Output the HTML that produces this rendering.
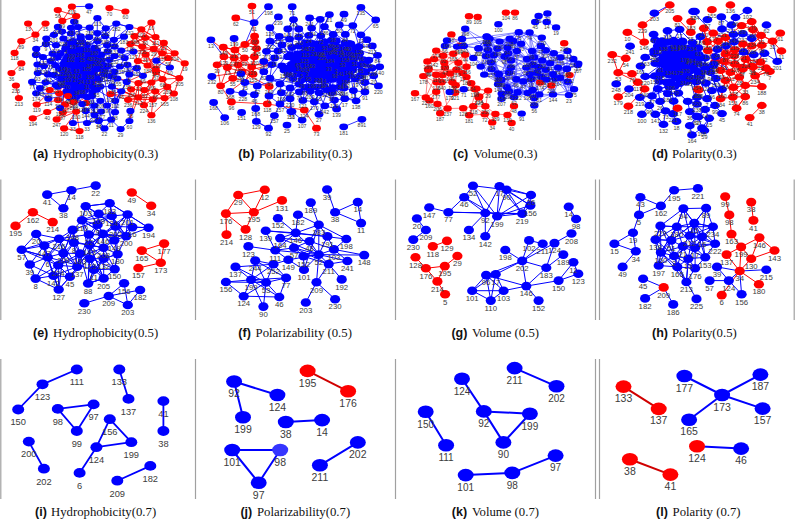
<!DOCTYPE html>
<html><head><meta charset="utf-8"><style>
html,body{margin:0;padding:0;background:#fff;width:795px;height:519px;overflow:hidden}
svg{display:block}
.net text{font-family:"Liberation Sans",sans-serif;fill:#3c3c3c;text-anchor:middle}
.cap{font-family:"Liberation Serif",serif;font-size:12.75px;fill:#111}
.lt{font-family:"Liberation Sans",sans-serif;font-weight:bold;font-size:12.5px;fill:#111}
</style></head><body>
<svg width="795" height="519" viewBox="0 0 795 519">
<g class="net">
<line x1="0.8" y1="0" x2="0.8" y2="140" stroke="#a0a0a0" stroke-width="1.2"/>
<line x1="195.5" y1="0" x2="195.5" y2="140" stroke="#a0a0a0" stroke-width="1.2"/>
<line x1="395.5" y1="0" x2="395.5" y2="140" stroke="#a0a0a0" stroke-width="1.2"/>
<line x1="595.5" y1="0" x2="595.5" y2="140" stroke="#a0a0a0" stroke-width="1.2"/>
<line x1="599.5" y1="0" x2="599.5" y2="140" stroke="#a0a0a0" stroke-width="1.2"/>
<line x1="794.2" y1="0" x2="794.2" y2="140" stroke="#a0a0a0" stroke-width="1.2"/>
<line x1="0.8" y1="179.5" x2="0.8" y2="320" stroke="#a0a0a0" stroke-width="1.2"/>
<line x1="195.5" y1="179.5" x2="195.5" y2="320" stroke="#a0a0a0" stroke-width="1.2"/>
<line x1="395.5" y1="179.5" x2="395.5" y2="320" stroke="#a0a0a0" stroke-width="1.2"/>
<line x1="595.5" y1="179.5" x2="595.5" y2="320" stroke="#a0a0a0" stroke-width="1.2"/>
<line x1="599.5" y1="179.5" x2="599.5" y2="320" stroke="#a0a0a0" stroke-width="1.2"/>
<line x1="794.2" y1="179.5" x2="794.2" y2="320" stroke="#a0a0a0" stroke-width="1.2"/>
<line x1="0.8" y1="359" x2="0.8" y2="499" stroke="#a0a0a0" stroke-width="1.2"/>
<line x1="195.5" y1="359" x2="195.5" y2="499" stroke="#a0a0a0" stroke-width="1.2"/>
<line x1="395.5" y1="359" x2="395.5" y2="499" stroke="#a0a0a0" stroke-width="1.2"/>
<line x1="595.5" y1="359" x2="595.5" y2="499" stroke="#a0a0a0" stroke-width="1.2"/>
<line x1="599.5" y1="359" x2="599.5" y2="499" stroke="#a0a0a0" stroke-width="1.2"/>
<path d="M76.8 369.5L42.5 384.3M42.5 384.3L18.2 409.5M119.3 369.5L128.5 398.9M57.8 408.9L93.6 404.4M57.8 408.9L76.8 431M93.6 404.4L76.8 431M109.8 419.2L96.4 447.2M109.8 419.2L131.3 442.2M96.4 447.2L131.3 442.2M96.4 447.2L79.6 472.9M163.4 401.1L163.4 431M28.8 441.6L43.9 468.7M117.3 480.7L150.3 465.9" stroke="#0000ff" stroke-width="1.8" fill="none"/>
<ellipse cx="76.8" cy="369.5" rx="6" ry="4.9" fill="#0000ff"/>
<ellipse cx="42.5" cy="384.3" rx="6" ry="4.9" fill="#0000ff"/>
<ellipse cx="18.2" cy="409.5" rx="6" ry="4.9" fill="#0000ff"/>
<ellipse cx="119.3" cy="369.5" rx="6" ry="4.9" fill="#0000ff"/>
<ellipse cx="128.5" cy="398.9" rx="6" ry="4.9" fill="#0000ff"/>
<ellipse cx="57.8" cy="408.9" rx="6" ry="4.9" fill="#0000ff"/>
<ellipse cx="93.6" cy="404.4" rx="6" ry="4.9" fill="#0000ff"/>
<ellipse cx="76.8" cy="431" rx="6" ry="4.9" fill="#0000ff"/>
<ellipse cx="109.8" cy="419.2" rx="6" ry="4.9" fill="#0000ff"/>
<ellipse cx="96.4" cy="447.2" rx="6" ry="4.9" fill="#0000ff"/>
<ellipse cx="131.3" cy="442.2" rx="6" ry="4.9" fill="#0000ff"/>
<ellipse cx="163.4" cy="401.1" rx="6" ry="4.9" fill="#0000ff"/>
<ellipse cx="163.4" cy="431" rx="6" ry="4.9" fill="#0000ff"/>
<ellipse cx="28.8" cy="441.6" rx="6" ry="4.9" fill="#0000ff"/>
<ellipse cx="43.9" cy="468.7" rx="6" ry="4.9" fill="#0000ff"/>
<ellipse cx="79.6" cy="472.9" rx="6" ry="4.9" fill="#0000ff"/>
<ellipse cx="117.3" cy="480.7" rx="6" ry="4.9" fill="#0000ff"/>
<ellipse cx="150.3" cy="465.9" rx="6" ry="4.9" fill="#0000ff"/>
<g font-size="9.3"><text x="76.8" y="385.3">111</text><text x="42.5" y="400.1">123</text><text x="18.2" y="425.3">150</text><text x="119.3" y="385.3">133</text><text x="128.5" y="414.7">137</text><text x="57.8" y="424.7">98</text><text x="93.6" y="420.2">97</text><text x="76.8" y="446.8">99</text><text x="109.8" y="435">156</text><text x="96.4" y="463">124</text><text x="131.3" y="458">199</text><text x="163.4" y="416.9">41</text><text x="163.4" y="446.8">38</text><text x="28.8" y="457.4">200</text><text x="43.9" y="484.5">202</text><text x="79.6" y="488.7">6</text><text x="117.3" y="496.5">209</text><text x="150.3" y="481.7">182</text></g>
<path d="M234.1 381.5L277.4 395M234.1 381.5L243 417.3M285.8 422L322.1 420.1M232.2 450L280.2 450M232.2 450L258.7 482.7M280.2 450L258.7 482.7M319.9 465.3L357.8 442.4" stroke="#0000ff" stroke-width="2" fill="none"/>
<path d="M307.6 370.9L348.1 391.3" stroke="#d00000" stroke-width="2" fill="none"/>
<ellipse cx="234.1" cy="381.5" rx="8" ry="6.3" fill="#0000ff"/>
<ellipse cx="277.4" cy="395" rx="8" ry="6.3" fill="#0000ff"/>
<ellipse cx="243" cy="417.3" rx="8" ry="6.3" fill="#0000ff"/>
<ellipse cx="307.6" cy="370.9" rx="8" ry="6.3" fill="#ff0000"/>
<ellipse cx="348.1" cy="391.3" rx="8" ry="6.3" fill="#ff0000"/>
<ellipse cx="285.8" cy="422" rx="8" ry="6.3" fill="#0000ff"/>
<ellipse cx="322.1" cy="420.1" rx="8" ry="6.3" fill="#0000ff"/>
<ellipse cx="232.2" cy="450" rx="8" ry="6.3" fill="#0000ff"/>
<ellipse cx="280.2" cy="450" rx="8" ry="6.3" fill="#3535ff"/>
<ellipse cx="258.7" cy="482.7" rx="8" ry="6.3" fill="#0000ff"/>
<ellipse cx="357.8" cy="442.4" rx="8" ry="6.3" fill="#0000ff"/>
<ellipse cx="319.9" cy="465.3" rx="8" ry="6.3" fill="#0000ff"/>
<g font-size="10.5"><text x="234.1" y="397.3">92</text><text x="277.4" y="410.8">124</text><text x="243" y="433.1">199</text><text x="307.6" y="386.7">195</text><text x="348.1" y="407.1">176</text><text x="285.8" y="437.8">38</text><text x="322.1" y="435.9">14</text><text x="232.2" y="465.8">101</text><text x="280.2" y="465.8">98</text><text x="258.7" y="498.5">97</text><text x="357.8" y="458.2">202</text><text x="319.9" y="481.1">211</text></g>
<path d="M514.6 368.1L556.5 386.3M462 378.7L483.8 411.4M483.8 411.4L529.9 413.7M483.8 411.4L503.4 442.4M529.9 413.7L503.4 442.4M425.7 411.7L446.1 445.2M465.7 475.1L512.3 472.9M512.3 472.9L555.6 455.6" stroke="#0000ff" stroke-width="2" fill="none"/>
<ellipse cx="514.6" cy="368.1" rx="8" ry="6.3" fill="#0000ff"/>
<ellipse cx="556.5" cy="386.3" rx="8" ry="6.3" fill="#0000ff"/>
<ellipse cx="462" cy="378.7" rx="8" ry="6.3" fill="#0000ff"/>
<ellipse cx="483.8" cy="411.4" rx="8" ry="6.3" fill="#0000ff"/>
<ellipse cx="529.9" cy="413.7" rx="8" ry="6.3" fill="#0000ff"/>
<ellipse cx="503.4" cy="442.4" rx="8" ry="6.3" fill="#0000ff"/>
<ellipse cx="425.7" cy="411.7" rx="8" ry="6.3" fill="#0000ff"/>
<ellipse cx="446.1" cy="445.2" rx="8" ry="6.3" fill="#0000ff"/>
<ellipse cx="465.7" cy="475.1" rx="8" ry="6.3" fill="#0000ff"/>
<ellipse cx="512.3" cy="472.9" rx="8" ry="6.3" fill="#0000ff"/>
<ellipse cx="555.6" cy="455.6" rx="8" ry="6.3" fill="#0000ff"/>
<g font-size="10"><text x="514.6" y="383.9">211</text><text x="556.5" y="402.1">202</text><text x="462" y="394.5">124</text><text x="483.8" y="427.2">92</text><text x="529.9" y="429.5">199</text><text x="503.4" y="458.2">90</text><text x="425.7" y="427.5">150</text><text x="446.1" y="461">111</text><text x="465.7" y="490.9">101</text><text x="512.3" y="488.7">98</text><text x="555.6" y="471.4">97</text></g>
<path d="M684.4 376L722.1 395M760.4 374.6L722.1 395M722.1 395L762.6 408.6M722.1 395L689.1 419.8M697 446.3L741.1 448.6" stroke="#0000ff" stroke-width="2" fill="none"/>
<path d="M623.5 386.6L658.7 408.9M629.9 459.2L670.4 474.6" stroke="#d00000" stroke-width="2" fill="none"/>
<ellipse cx="684.4" cy="376" rx="8" ry="6.3" fill="#0000ff"/>
<ellipse cx="760.4" cy="374.6" rx="8" ry="6.3" fill="#0000ff"/>
<ellipse cx="722.1" cy="395" rx="8" ry="6.3" fill="#0000ff"/>
<ellipse cx="762.6" cy="408.6" rx="8" ry="6.3" fill="#0000ff"/>
<ellipse cx="689.1" cy="419.8" rx="8" ry="6.3" fill="#0000ff"/>
<ellipse cx="623.5" cy="386.6" rx="8" ry="6.3" fill="#ff0000"/>
<ellipse cx="658.7" cy="408.9" rx="8" ry="6.3" fill="#ff0000"/>
<ellipse cx="697" cy="446.3" rx="8" ry="6.3" fill="#ff0000"/>
<ellipse cx="741.1" cy="448.6" rx="8" ry="6.3" fill="#0000ff"/>
<ellipse cx="629.9" cy="459.2" rx="8" ry="6.3" fill="#ff0000"/>
<ellipse cx="670.4" cy="474.6" rx="8" ry="6.3" fill="#ff0000"/>
<g font-size="10.5"><text x="684.4" y="391.5">177</text><text x="760.4" y="390.1">187</text><text x="722.1" y="410.5">173</text><text x="762.6" y="424.1">157</text><text x="689.1" y="435.3">165</text><text x="623.5" y="402.1">133</text><text x="658.7" y="424.4">137</text><text x="697" y="461.8">124</text><text x="741.1" y="464.1">46</text><text x="629.9" y="474.7">38</text><text x="670.4" y="490.1">41</text></g>
<path d="M47.2 194.6L71.4 190.2M71.4 190.2L95.7 185.6M47.2 194.6L63.4 208.2M71.4 190.2L63.4 208.2M84.3 303.3L108.7 296M108.7 296L124.1 283.3M108.7 296L140.1 290M108.7 296L127.8 305M124.1 283.3L127.8 305M140.1 290L127.8 305M109.7 203.3L111.8 216M109.7 203.3L98.7 213.7M109.7 203.3L127.6 214.5M109.7 203.3L115.5 226.4M109.7 203.3L85.7 206.2M85.7 206.2L82 220.3M85.7 206.2L98.7 213.7M85.7 206.2L97.6 224.7M98.7 213.7L97.6 224.7M98.7 213.7L111.8 216M98.7 213.7L82 220.3M111.8 216L115.5 226.4M111.8 216L127.6 214.5M111.8 216L97.6 224.7M127.6 214.5L132.3 227.1M127.6 214.5L115.5 226.4M127.6 214.5L126.2 236.2M82 220.3L88.9 234.5M82 220.3L97.6 224.7M82 220.3L102.8 233.9M97.6 224.7L102.8 233.9M97.6 224.7L88.9 234.5M115.5 226.4L114.3 240.3M115.5 226.4L126.2 236.2M115.5 226.4L102.8 233.9M115.5 226.4L132.3 227.1M132.3 227.1L126.2 236.2M132.3 227.1L148.5 227.7M132.3 227.1L114.3 240.3M148.5 227.7L126.2 236.2M148.5 227.7L127.6 214.5M88.9 234.5L89.5 245M88.9 234.5L102.8 233.9M88.9 234.5L103.6 247.7M102.8 233.9L114.3 240.3M102.8 233.9L103.6 247.7M114.3 240.3L126.2 236.2M114.3 240.3L103.6 247.7M114.3 240.3L117.6 254.1M126.2 236.2L117.6 254.1M89.5 245L89.8 258.7M89.5 245L103.6 247.7M89.5 245L102.8 233.9M89.5 245L103.7 258.7M103.6 247.7L103.7 258.7M103.6 247.7L117.6 254.1M117.6 254.1L103.7 258.7M117.6 254.1L114.7 269.1M89.8 258.7L93.9 269.7M89.8 258.7L103.7 258.7M89.8 258.7L103.6 247.7M89.8 258.7L103.7 278.4M103.7 258.7L93.9 269.7M103.7 258.7L114.7 269.1M93.9 269.7L103.7 278.4M93.9 269.7L88.1 283.5M93.9 269.7L114.7 269.1M114.7 269.1L103.7 278.4M114.7 269.1L103.6 247.7M103.7 278.4L88.1 283.5M103.7 278.4L103.7 258.7M88.1 283.5L89.8 258.7M72.7 229.9L73.9 242.6M72.7 229.9L59 238.7M72.7 229.9L80 253.6M72.7 229.9L63.4 253.1M73.9 242.6L80 253.6M73.9 242.6L63.4 253.1M73.9 242.6L59 238.7M73.9 242.6L77.2 266.8M80 253.6L77.2 266.8M80 253.6L63.4 253.1M80 253.6L58.2 265.3M36.2 234L44.3 245.6M36.2 234L21.7 249.7M36.2 234L59 238.7M36.2 234L47.7 257.2M59 238.7L63.4 253.1M59 238.7L44.3 245.6M59 238.7L47.7 257.2M21.7 249.7L29.8 264.5M21.7 249.7L44.3 245.6M21.7 249.7L47.7 257.2M44.3 245.6L47.7 257.2M44.3 245.6L63.4 253.1M47.7 257.2L58.2 265.3M47.7 257.2L63.4 253.1M47.7 257.2L29.8 264.5M47.7 257.2L53.5 275.7M63.4 253.1L58.2 265.3M29.8 264.5L35.6 278.6M29.8 264.5L44.3 245.6M29.8 264.5L53.5 275.7M58.2 265.3L53.5 275.7M58.2 265.3L69.9 276.8M58.2 265.3L77.2 266.8M77.2 266.8L69.9 276.8M77.2 266.8L63.4 253.1M35.6 278.6L53.5 275.7M35.6 278.6L47.7 257.2M35.6 278.6L58.7 289.5M35.6 278.6L58.2 265.3M53.5 275.7L58.7 289.5M53.5 275.7L69.9 276.8M69.9 276.8L58.7 289.5M69.9 276.8L63.4 253.1M58.7 289.5L58.2 265.3M97.6 224.7L117.6 254.1M103.7 278.4L88.1 283.5M111.8 216L126.2 236.2M117.6 254.1L115.5 226.4M126.2 236.2L98.7 213.7M89.5 245L103.7 278.4M102.8 233.9L126.2 236.2M82 220.3L114.3 240.3M114.7 269.1L117.6 254.1M109.7 203.3L85.7 206.2M89.5 245L103.7 278.4M85.7 206.2L115.5 226.4M109.7 203.3L127.6 214.5M103.7 258.7L103.6 247.7M102.8 233.9L103.6 247.7M111.8 216L82 220.3M126.2 236.2L111.8 216M114.3 240.3L127.6 214.5M103.7 258.7L88.1 283.5M89.8 258.7L82 220.3M88.1 283.5L89.5 245M127.6 214.5L102.8 233.9M88.9 234.5L126.2 236.2M117.6 254.1L103.7 258.7M89.5 245L115.5 226.4M69.9 276.8L58.7 289.5M53.5 275.7L77.2 266.8M21.7 249.7L58.2 265.3M53.5 275.7L58.2 265.3M47.7 257.2L21.7 249.7M21.7 249.7L59 238.7M72.7 229.9L63.4 253.1M63.4 253.1L77.2 266.8M80 253.6L77.2 266.8M59 238.7L63.4 253.1M58.7 289.5L63.4 253.1M53.5 275.7L44.3 245.6M77.2 266.8L72.7 229.9M47.7 257.2L58.7 289.5M58.2 265.3L73.9 242.6M59 238.7L77.2 266.8M58.2 265.3L63.4 253.1M36.2 234L44.3 245.6M58.2 265.3L103.6 247.7M77.2 266.8L88.9 234.5M77.2 266.8L97.6 224.7M80 253.6L88.1 283.5M80 253.6L114.7 269.1M47.7 257.2L93.9 269.7M73.9 242.6L103.6 247.7M59 238.7L88.9 234.5M59 238.7L89.5 245M72.7 229.9L111.8 216M77.2 266.8L102.8 233.9M69.9 276.8L89.8 258.7M47.7 257.2L82 220.3M69.9 276.8L102.8 233.9M58.7 289.5L53.5 275.7M88.1 283.5L93.9 269.7M88.1 283.5L103.7 278.4M132.3 227.1L148.5 227.7M127.6 214.5L148.5 227.7" stroke="#0000ff" stroke-width="1" fill="none"/>
<path d="M32.9 212.3L52.7 222.1M32.9 212.3L15.5 225.9M131.8 192.5L151.2 205.7M141.8 250.6L164.1 243.6M141.8 250.6L160.8 262.8M164.1 243.6L160.8 262.8M138.4 268L160.8 262.8" stroke="#ff0000" stroke-width="1" fill="none"/>
<ellipse cx="47.2" cy="194.6" rx="5.2" ry="4.3" fill="#0000ff"/>
<ellipse cx="71.4" cy="190.2" rx="5.2" ry="4.3" fill="#0000ff"/>
<ellipse cx="95.7" cy="185.6" rx="5.2" ry="4.3" fill="#0000ff"/>
<ellipse cx="63.4" cy="208.2" rx="5.2" ry="4.3" fill="#0000ff"/>
<ellipse cx="32.9" cy="212.3" rx="5.2" ry="4.3" fill="#ff0000"/>
<ellipse cx="52.7" cy="222.1" rx="5.2" ry="4.3" fill="#ff0000"/>
<ellipse cx="15.5" cy="225.9" rx="5.2" ry="4.3" fill="#ff0000"/>
<ellipse cx="131.8" cy="192.5" rx="5.2" ry="4.3" fill="#ff0000"/>
<ellipse cx="151.2" cy="205.7" rx="5.2" ry="4.3" fill="#ff0000"/>
<ellipse cx="164.1" cy="243.6" rx="5.2" ry="4.3" fill="#ff0000"/>
<ellipse cx="141.8" cy="250.6" rx="5.2" ry="4.3" fill="#ff0000"/>
<ellipse cx="160.8" cy="262.8" rx="5.2" ry="4.3" fill="#ff0000"/>
<ellipse cx="138.4" cy="268" rx="5.2" ry="4.3" fill="#ff0000"/>
<ellipse cx="109.7" cy="203.3" rx="5.2" ry="4.3" fill="#0000ff"/>
<ellipse cx="85.7" cy="206.2" rx="5.2" ry="4.3" fill="#0000ff"/>
<ellipse cx="98.7" cy="213.7" rx="5.2" ry="4.3" fill="#0000ff"/>
<ellipse cx="111.8" cy="216" rx="5.2" ry="4.3" fill="#0000ff"/>
<ellipse cx="127.6" cy="214.5" rx="5.2" ry="4.3" fill="#0000ff"/>
<ellipse cx="82" cy="220.3" rx="5.2" ry="4.3" fill="#0000ff"/>
<ellipse cx="97.6" cy="224.7" rx="5.2" ry="4.3" fill="#0000ff"/>
<ellipse cx="115.5" cy="226.4" rx="5.2" ry="4.3" fill="#0000ff"/>
<ellipse cx="132.3" cy="227.1" rx="5.2" ry="4.3" fill="#0000ff"/>
<ellipse cx="148.5" cy="227.7" rx="5.2" ry="4.3" fill="#0000ff"/>
<ellipse cx="88.9" cy="234.5" rx="5.2" ry="4.3" fill="#0000ff"/>
<ellipse cx="102.8" cy="233.9" rx="5.2" ry="4.3" fill="#0000ff"/>
<ellipse cx="114.3" cy="240.3" rx="5.2" ry="4.3" fill="#0000ff"/>
<ellipse cx="126.2" cy="236.2" rx="5.2" ry="4.3" fill="#0000ff"/>
<ellipse cx="89.5" cy="245" rx="5.2" ry="4.3" fill="#0000ff"/>
<ellipse cx="103.6" cy="247.7" rx="5.2" ry="4.3" fill="#0000ff"/>
<ellipse cx="117.6" cy="254.1" rx="5.2" ry="4.3" fill="#0000ff"/>
<ellipse cx="89.8" cy="258.7" rx="5.2" ry="4.3" fill="#0000ff"/>
<ellipse cx="103.7" cy="258.7" rx="5.2" ry="4.3" fill="#0000ff"/>
<ellipse cx="93.9" cy="269.7" rx="5.2" ry="4.3" fill="#0000ff"/>
<ellipse cx="114.7" cy="269.1" rx="5.2" ry="4.3" fill="#0000ff"/>
<ellipse cx="103.7" cy="278.4" rx="5.2" ry="4.3" fill="#0000ff"/>
<ellipse cx="88.1" cy="283.5" rx="5.2" ry="4.3" fill="#0000ff"/>
<ellipse cx="72.7" cy="229.9" rx="5.2" ry="4.3" fill="#0000ff"/>
<ellipse cx="73.9" cy="242.6" rx="5.2" ry="4.3" fill="#0000ff"/>
<ellipse cx="80" cy="253.6" rx="5.2" ry="4.3" fill="#0000ff"/>
<ellipse cx="36.2" cy="234" rx="5.2" ry="4.3" fill="#0000ff"/>
<ellipse cx="59" cy="238.7" rx="5.2" ry="4.3" fill="#0000ff"/>
<ellipse cx="21.7" cy="249.7" rx="5.2" ry="4.3" fill="#0000ff"/>
<ellipse cx="44.3" cy="245.6" rx="5.2" ry="4.3" fill="#0000ff"/>
<ellipse cx="47.7" cy="257.2" rx="5.2" ry="4.3" fill="#0000ff"/>
<ellipse cx="63.4" cy="253.1" rx="5.2" ry="4.3" fill="#0000ff"/>
<ellipse cx="29.8" cy="264.5" rx="5.2" ry="4.3" fill="#0000ff"/>
<ellipse cx="58.2" cy="265.3" rx="5.2" ry="4.3" fill="#0000ff"/>
<ellipse cx="77.2" cy="266.8" rx="5.2" ry="4.3" fill="#0000ff"/>
<ellipse cx="35.6" cy="278.6" rx="5.2" ry="4.3" fill="#0000ff"/>
<ellipse cx="53.5" cy="275.7" rx="5.2" ry="4.3" fill="#0000ff"/>
<ellipse cx="69.9" cy="276.8" rx="5.2" ry="4.3" fill="#0000ff"/>
<ellipse cx="58.7" cy="289.5" rx="5.2" ry="4.3" fill="#0000ff"/>
<ellipse cx="124.1" cy="283.3" rx="5.2" ry="4.3" fill="#0000ff"/>
<ellipse cx="140.1" cy="290" rx="5.2" ry="4.3" fill="#0000ff"/>
<ellipse cx="108.7" cy="296" rx="5.2" ry="4.3" fill="#0000ff"/>
<ellipse cx="127.8" cy="305" rx="5.2" ry="4.3" fill="#0000ff"/>
<ellipse cx="84.3" cy="303.3" rx="5.2" ry="4.3" fill="#0000ff"/>
<g font-size="7.8"><text x="47.2" y="204.8">41</text><text x="71.4" y="200.4">14</text><text x="95.7" y="195.8">22</text><text x="63.4" y="218.4">38</text><text x="32.9" y="222.5">162</text><text x="52.7" y="232.3">214</text><text x="15.5" y="236.1">195</text><text x="131.8" y="202.7">49</text><text x="151.2" y="215.9">34</text><text x="164.1" y="253.8">177</text><text x="141.8" y="260.8">165</text><text x="160.8" y="273">173</text><text x="138.4" y="278.2">157</text><text x="109.7" y="213.5">183</text><text x="85.7" y="216.4">103</text><text x="98.7" y="223.9">109</text><text x="111.8" y="226.2">124</text><text x="127.6" y="224.7">201</text><text x="82" y="230.5">110</text><text x="97.6" y="234.9">9</text><text x="115.5" y="236.6">202</text><text x="132.3" y="237.3">16</text><text x="148.5" y="237.9">194</text><text x="88.9" y="244.7">22</text><text x="102.8" y="244.1">146</text><text x="114.3" y="250.5">149</text><text x="126.2" y="246.4">200</text><text x="89.5" y="255.2">143</text><text x="103.6" y="257.9">208</text><text x="117.6" y="264.3">180</text><text x="89.8" y="268.9">123</text><text x="103.7" y="268.9">132</text><text x="93.9" y="279.9">11</text><text x="114.7" y="279.3">150</text><text x="103.7" y="288.6">205</text><text x="88.1" y="293.7">88</text><text x="72.7" y="240.1">148</text><text x="73.9" y="252.8">8</text><text x="80" y="263.8">183</text><text x="36.2" y="244.2">20</text><text x="59" y="248.9">216</text><text x="21.7" y="259.9">57</text><text x="44.3" y="255.8">147</text><text x="47.7" y="267.4">6</text><text x="63.4" y="263.3">109</text><text x="29.8" y="274.7">39</text><text x="58.2" y="275.5">224</text><text x="77.2" y="277">137</text><text x="35.6" y="288.8">8</text><text x="53.5" y="285.9">142</text><text x="69.9" y="287">45</text><text x="58.7" y="299.7">127</text><text x="124.1" y="293.5">156</text><text x="140.1" y="300.2">182</text><text x="108.7" y="306.2">209</text><text x="127.8" y="315.2">203</text><text x="84.3" y="313.5">230</text></g>
<path d="M238.2 195L264.8 189.8M238.2 195L225.9 213.6M238.2 195L253.8 212.2M264.8 189.8L253.8 212.2M253.8 212.2L282 200.4M225.9 213.6L253.8 212.2M225.9 213.6L245.6 229.4M225.9 213.6L226.5 234.6M253.8 212.2L245.6 229.4" stroke="#ff0000" stroke-width="1" fill="none"/>
<path d="M327.1 189.5L335.1 212.2M335.1 212.2L357.8 202.1M335.1 212.2L361.1 223.1M357.8 202.1L361.1 223.1M310.8 202.6L318.8 224.8M298 214.7L295.7 232.9M298 214.7L318.8 224.8M277.9 218.2L295.7 232.9M265.7 230.8L295.7 232.9M265.7 230.8L275.3 250.3M295.7 232.9L318.8 224.8M295.7 232.9L275.3 250.3M318.8 224.8L346.3 239M318.8 224.8L309.6 241.2M318.8 224.8L327.4 236.4M248.4 246.4L275.3 250.3M275.3 250.3L288.3 259.8M275.3 250.3L294 247.8M333.9 249.4L346.3 239M333.9 249.4L364.2 255.1M333.9 249.4L347.4 261M328.7 264.1L341.7 279.4M328.7 264.1L347.4 261M328.7 264.1L316.5 282.3M316.5 282.3L305.8 302.5M316.5 282.3L335.1 299.2M304 269.7L288.3 259.8M304 269.7L303.5 256.3M280.1 238.1L295.7 232.9M318.8 224.8L304 269.7M265.7 230.8L327.4 236.4M295.7 232.9L346.3 239M318.8 254.6L295.7 232.9M318.8 254.6L318.8 224.8M318.8 254.6L327.4 236.4M318.8 254.6L333.9 249.4M318.8 254.6L364.2 255.1M318.8 254.6L347.4 261M318.8 254.6L328.7 264.1M318.8 254.6L316.5 282.3M318.8 254.6L304 269.7M318.8 254.6L288.3 259.8M318.8 254.6L294 247.8M318.8 254.6L303.5 256.3M318.8 254.6L309.6 241.2M318.8 254.6L280.1 238.1M318.8 254.6L275.3 250.3M294 247.8L303.5 256.3M294 247.8L309.6 241.2M303.5 256.3L328.7 264.1M309.6 241.2L333.9 249.4M327.4 236.4L333.9 249.4M294 247.8L328.7 264.1M280.1 238.1L309.6 241.2M251.1 279.8L255.2 260.6M251.1 279.8L273.5 264.2M251.1 279.8L235.5 266.9M251.1 279.8L225.9 282M251.1 279.8L286.1 277.9M251.1 279.8L243.7 296.2M251.1 279.8L279.3 297M251.1 279.8L263.4 306.6M266.1 282.5L255.2 260.6M266.1 282.5L273.5 264.2M266.1 282.5L235.5 266.9M266.1 282.5L225.9 282M266.1 282.5L286.1 277.9M266.1 282.5L243.7 296.2M266.1 282.5L279.3 297M266.1 282.5L263.4 306.6M251.1 279.8L266.1 282.5M243.7 296.2L225.9 282M243.7 296.2L279.3 297M255.2 260.6L273.5 264.2M273.5 264.2L286.1 277.9M286.1 277.9L279.3 297M273.5 264.2L288.3 259.8M255.2 260.6L286.1 277.9M235.5 266.9L273.5 264.2" stroke="#0000ff" stroke-width="1" fill="none"/>
<ellipse cx="238.2" cy="195" rx="5.1" ry="4.3" fill="#ff0000"/>
<ellipse cx="264.8" cy="189.8" rx="5.1" ry="4.3" fill="#ff0000"/>
<ellipse cx="282" cy="200.4" rx="5.1" ry="4.3" fill="#ff0000"/>
<ellipse cx="225.9" cy="213.6" rx="5.1" ry="4.3" fill="#ff0000"/>
<ellipse cx="253.8" cy="212.2" rx="5.1" ry="4.3" fill="#ff0000"/>
<ellipse cx="245.6" cy="229.4" rx="5.1" ry="4.3" fill="#ff0000"/>
<ellipse cx="226.5" cy="234.6" rx="5.1" ry="4.3" fill="#ff0000"/>
<ellipse cx="327.1" cy="189.5" rx="5.1" ry="4.3" fill="#0000ff"/>
<ellipse cx="335.1" cy="212.2" rx="5.1" ry="4.3" fill="#0000ff"/>
<ellipse cx="357.8" cy="202.1" rx="5.1" ry="4.3" fill="#0000ff"/>
<ellipse cx="361.1" cy="223.1" rx="5.1" ry="4.3" fill="#0000ff"/>
<ellipse cx="310.8" cy="202.6" rx="5.1" ry="4.3" fill="#0000ff"/>
<ellipse cx="277.9" cy="218.2" rx="5.1" ry="4.3" fill="#0000ff"/>
<ellipse cx="298" cy="214.7" rx="5.1" ry="4.3" fill="#0000ff"/>
<ellipse cx="318.8" cy="224.8" rx="5.1" ry="4.3" fill="#0000ff"/>
<ellipse cx="265.7" cy="230.8" rx="5.1" ry="4.3" fill="#0000ff"/>
<ellipse cx="295.7" cy="232.9" rx="5.1" ry="4.3" fill="#0000ff"/>
<ellipse cx="280.1" cy="238.1" rx="5.1" ry="4.3" fill="#0000ff"/>
<ellipse cx="327.4" cy="236.4" rx="5.1" ry="4.3" fill="#0000ff"/>
<ellipse cx="346.3" cy="239" rx="5.1" ry="4.3" fill="#0000ff"/>
<ellipse cx="309.6" cy="241.2" rx="5.1" ry="4.3" fill="#0000ff"/>
<ellipse cx="294" cy="247.8" rx="5.1" ry="4.3" fill="#0000ff"/>
<ellipse cx="275.3" cy="250.3" rx="5.1" ry="4.3" fill="#0000ff"/>
<ellipse cx="333.9" cy="249.4" rx="5.1" ry="4.3" fill="#0000ff"/>
<ellipse cx="318.8" cy="254.6" rx="5.1" ry="4.3" fill="#0000ff"/>
<ellipse cx="303.5" cy="256.3" rx="5.1" ry="4.3" fill="#0000ff"/>
<ellipse cx="288.3" cy="259.8" rx="5.1" ry="4.3" fill="#0000ff"/>
<ellipse cx="364.2" cy="255.1" rx="5.1" ry="4.3" fill="#0000ff"/>
<ellipse cx="347.4" cy="261" rx="5.1" ry="4.3" fill="#0000ff"/>
<ellipse cx="328.7" cy="264.1" rx="5.1" ry="4.3" fill="#0000ff"/>
<ellipse cx="304" cy="269.7" rx="5.1" ry="4.3" fill="#0000ff"/>
<ellipse cx="341.7" cy="279.4" rx="5.1" ry="4.3" fill="#0000ff"/>
<ellipse cx="316.5" cy="282.3" rx="5.1" ry="4.3" fill="#0000ff"/>
<ellipse cx="305.8" cy="302.5" rx="5.1" ry="4.3" fill="#0000ff"/>
<ellipse cx="335.1" cy="299.2" rx="5.1" ry="4.3" fill="#0000ff"/>
<ellipse cx="248.4" cy="246.4" rx="5.1" ry="4.3" fill="#0000ff"/>
<ellipse cx="255.2" cy="260.6" rx="5.1" ry="4.3" fill="#0000ff"/>
<ellipse cx="273.5" cy="264.2" rx="5.1" ry="4.3" fill="#0000ff"/>
<ellipse cx="235.5" cy="266.9" rx="5.1" ry="4.3" fill="#0000ff"/>
<ellipse cx="225.9" cy="282" rx="5.1" ry="4.3" fill="#0000ff"/>
<ellipse cx="251.1" cy="279.8" rx="5.1" ry="4.3" fill="#0000ff"/>
<ellipse cx="266.1" cy="282.5" rx="5.1" ry="4.3" fill="#0000ff"/>
<ellipse cx="286.1" cy="277.9" rx="5.1" ry="4.3" fill="#0000ff"/>
<ellipse cx="243.7" cy="296.2" rx="5.1" ry="4.3" fill="#0000ff"/>
<ellipse cx="279.3" cy="297" rx="5.1" ry="4.3" fill="#0000ff"/>
<ellipse cx="263.4" cy="306.6" rx="5.1" ry="4.3" fill="#0000ff"/>
<g font-size="7.8"><text x="238.2" y="205.2">29</text><text x="264.8" y="200">12</text><text x="282" y="210.6">131</text><text x="225.9" y="223.8">176</text><text x="253.8" y="222.4">195</text><text x="245.6" y="239.6">128</text><text x="226.5" y="244.8">214</text><text x="327.1" y="199.7">39</text><text x="335.1" y="222.4">38</text><text x="357.8" y="212.3">14</text><text x="361.1" y="233.3">11</text><text x="310.8" y="212.8">189</text><text x="277.9" y="228.4">152</text><text x="298" y="224.9">182</text><text x="318.8" y="235">183</text><text x="265.7" y="241">139</text><text x="295.7" y="243.1">146</text><text x="280.1" y="248.3">164</text><text x="327.4" y="246.6">191</text><text x="346.3" y="249.2">198</text><text x="309.6" y="251.4">48</text><text x="294" y="258">57</text><text x="275.3" y="260.5">111</text><text x="333.9" y="259.6">103</text><text x="318.8" y="264.8">52</text><text x="303.5" y="266.5">152</text><text x="288.3" y="270">149</text><text x="364.2" y="265.3">148</text><text x="347.4" y="271.2">241</text><text x="328.7" y="274.3">211</text><text x="304" y="279.9">101</text><text x="341.7" y="289.6">192</text><text x="316.5" y="292.5">209</text><text x="305.8" y="312.7">203</text><text x="335.1" y="309.4">230</text><text x="248.4" y="256.6">123</text><text x="255.2" y="270.8">244</text><text x="273.5" y="274.4">252</text><text x="235.5" y="277.1">137</text><text x="225.9" y="292.2">156</text><text x="251.1" y="290">199</text><text x="266.1" y="292.7">53</text><text x="286.1" y="288.1">77</text><text x="243.7" y="306.4">124</text><text x="279.3" y="307.2">46</text><text x="263.4" y="316.8">90</text></g>
<path d="M432.8 246.4L447 240.9M457.4 256L444.8 266.1M415.5 257.3L425.9 268.3M425.9 268.3L444.8 266.1M425.9 268.3L437.4 281.4M444.8 266.1L437.4 281.4M437.4 281.4L445.1 294.3" stroke="#ff0000" stroke-width="1" fill="none"/>
<path d="M473 185.7L506.6 189.8M473 185.7L464.2 197.2M473 185.7L485.3 213M473 185.7L497.1 216.3M499.5 186.2L531 195M499.5 186.2L530.4 205.4M499.5 186.2L485.3 213M499.5 186.2L497.1 216.3M499.5 186.2L522.2 213.6M506.6 189.8L531 195M506.6 189.8L530.4 205.4M506.6 189.8L497.1 216.3M506.6 189.8L522.2 213.6M531 195L530.4 205.4M531 195L497.1 216.3M531 195L522.2 213.6M464.2 197.2L485.3 213M464.2 197.2L497.1 216.3M530.4 205.4L497.1 216.3M530.4 205.4L522.2 213.6M485.3 213L522.2 213.6M497.1 216.3L522.2 213.6M429.2 207.5L448.4 212.2M448.4 212.2L485.3 213M448.4 212.2L464.2 197.2M468.9 230L485.3 213M485.3 236.3L485.3 213M416.9 218.5L425.9 230M425.9 230L413.3 239.6M568.7 206.7L576.1 219M448.4 212.2L522.2 213.6M485.3 236.3L497.1 216.3M571.5 233.5L554.5 243.1M554.5 243.1L522.2 260.9M529.1 240.4L522.2 260.9M542.7 243.7L522.2 260.9M505.3 250L522.2 260.9M522.2 260.9L546.3 267.7M522.2 260.9L526.3 286.1M522.2 260.9L486.1 275.1M522.2 260.9L495.7 274.3M563.3 254.6L546.3 267.7M546.3 267.7L526.3 286.1M558.6 280.6L526.3 286.1M558.6 280.6L573.4 262.3M573.4 262.3L578.3 273.8M558.6 280.6L578.3 273.8M526.3 286.1L538.6 300.6M526.3 286.1L503.6 290.7M526.3 286.1L486.1 275.1M472.2 290.7L486.1 275.1M472.2 290.7L503.6 290.7M472.2 290.7L490.8 300.6M503.6 290.7L490.8 300.6M486.1 275.1L495.7 274.3M503.6 290.7L495.7 274.3M486.1 275.1L503.6 290.7M495.7 274.3L490.8 300.6M472.2 290.7L495.7 274.3M486.1 275.1L490.8 300.6M546.3 267.7L554.5 243.1M529.1 240.4L542.7 243.7" stroke="#0000ff" stroke-width="1" fill="none"/>
<ellipse cx="432.8" cy="246.4" rx="5.1" ry="4.3" fill="#ff0000"/>
<ellipse cx="447" cy="240.9" rx="5.1" ry="4.3" fill="#ff0000"/>
<ellipse cx="457.4" cy="256" rx="5.1" ry="4.3" fill="#ff0000"/>
<ellipse cx="415.5" cy="257.3" rx="5.1" ry="4.3" fill="#ff0000"/>
<ellipse cx="444.8" cy="266.1" rx="5.1" ry="4.3" fill="#ff0000"/>
<ellipse cx="425.9" cy="268.3" rx="5.1" ry="4.3" fill="#ff0000"/>
<ellipse cx="437.4" cy="281.4" rx="5.1" ry="4.3" fill="#ff0000"/>
<ellipse cx="445.1" cy="294.3" rx="5.1" ry="4.3" fill="#ff0000"/>
<ellipse cx="473" cy="185.7" rx="5.1" ry="4.3" fill="#0000ff"/>
<ellipse cx="499.5" cy="186.2" rx="5.1" ry="4.3" fill="#0000ff"/>
<ellipse cx="506.6" cy="189.8" rx="5.1" ry="4.3" fill="#0000ff"/>
<ellipse cx="531" cy="195" rx="5.1" ry="4.3" fill="#0000ff"/>
<ellipse cx="464.2" cy="197.2" rx="5.1" ry="4.3" fill="#0000ff"/>
<ellipse cx="530.4" cy="205.4" rx="5.1" ry="4.3" fill="#0000ff"/>
<ellipse cx="485.3" cy="213" rx="5.1" ry="4.3" fill="#0000ff"/>
<ellipse cx="497.1" cy="216.3" rx="5.1" ry="4.3" fill="#0000ff"/>
<ellipse cx="522.2" cy="213.6" rx="5.1" ry="4.3" fill="#0000ff"/>
<ellipse cx="429.2" cy="207.5" rx="5.1" ry="4.3" fill="#0000ff"/>
<ellipse cx="448.4" cy="212.2" rx="5.1" ry="4.3" fill="#0000ff"/>
<ellipse cx="416.9" cy="218.5" rx="5.1" ry="4.3" fill="#0000ff"/>
<ellipse cx="425.9" cy="230" rx="5.1" ry="4.3" fill="#0000ff"/>
<ellipse cx="468.9" cy="230" rx="5.1" ry="4.3" fill="#0000ff"/>
<ellipse cx="485.3" cy="236.3" rx="5.1" ry="4.3" fill="#0000ff"/>
<ellipse cx="413.3" cy="239.6" rx="5.1" ry="4.3" fill="#0000ff"/>
<ellipse cx="568.7" cy="206.7" rx="5.1" ry="4.3" fill="#0000ff"/>
<ellipse cx="576.1" cy="219" rx="5.1" ry="4.3" fill="#0000ff"/>
<ellipse cx="571.5" cy="233.5" rx="5.1" ry="4.3" fill="#0000ff"/>
<ellipse cx="529.1" cy="240.4" rx="5.1" ry="4.3" fill="#0000ff"/>
<ellipse cx="542.7" cy="243.7" rx="5.1" ry="4.3" fill="#0000ff"/>
<ellipse cx="554.5" cy="243.1" rx="5.1" ry="4.3" fill="#0000ff"/>
<ellipse cx="505.3" cy="250" rx="5.1" ry="4.3" fill="#0000ff"/>
<ellipse cx="522.2" cy="260.9" rx="5.1" ry="4.3" fill="#0000ff"/>
<ellipse cx="563.3" cy="254.6" rx="5.1" ry="4.3" fill="#0000ff"/>
<ellipse cx="546.3" cy="267.7" rx="5.1" ry="4.3" fill="#0000ff"/>
<ellipse cx="573.4" cy="262.3" rx="5.1" ry="4.3" fill="#0000ff"/>
<ellipse cx="578.3" cy="273.8" rx="5.1" ry="4.3" fill="#0000ff"/>
<ellipse cx="558.6" cy="280.6" rx="5.1" ry="4.3" fill="#0000ff"/>
<ellipse cx="486.1" cy="275.1" rx="5.1" ry="4.3" fill="#0000ff"/>
<ellipse cx="495.7" cy="274.3" rx="5.1" ry="4.3" fill="#0000ff"/>
<ellipse cx="526.3" cy="286.1" rx="5.1" ry="4.3" fill="#0000ff"/>
<ellipse cx="472.2" cy="290.7" rx="5.1" ry="4.3" fill="#0000ff"/>
<ellipse cx="503.6" cy="290.7" rx="5.1" ry="4.3" fill="#0000ff"/>
<ellipse cx="490.8" cy="300.6" rx="5.1" ry="4.3" fill="#0000ff"/>
<ellipse cx="538.6" cy="300.6" rx="5.1" ry="4.3" fill="#0000ff"/>
<g font-size="7.8"><text x="432.8" y="256.6">118</text><text x="447" y="251.1">129</text><text x="457.4" y="266.2">29</text><text x="415.5" y="267.5">128</text><text x="444.8" y="276.3">195</text><text x="425.9" y="278.5">176</text><text x="437.4" y="291.6">214</text><text x="445.1" y="304.5">5</text><text x="473" y="195.9">52</text><text x="499.5" y="196.4">17</text><text x="506.6" y="200">90</text><text x="531" y="205.2">26</text><text x="464.2" y="207.4">46</text><text x="530.4" y="215.6">156</text><text x="485.3" y="223.2">92</text><text x="497.1" y="226.5">199</text><text x="522.2" y="223.8">219</text><text x="429.2" y="217.7">147</text><text x="448.4" y="222.4">77</text><text x="416.9" y="228.7">20</text><text x="425.9" y="240.2">209</text><text x="468.9" y="240.2">134</text><text x="485.3" y="246.5">142</text><text x="413.3" y="249.8">230</text><text x="568.7" y="216.9">14</text><text x="576.1" y="229.2">98</text><text x="571.5" y="243.7">208</text><text x="529.1" y="250.6">102</text><text x="542.7" y="253.9">211</text><text x="554.5" y="253.3">124</text><text x="505.3" y="260.2">198</text><text x="522.2" y="271.1">202</text><text x="563.3" y="264.8">189</text><text x="546.3" y="277.9">183</text><text x="573.4" y="272.5">11</text><text x="578.3" y="284">123</text><text x="558.6" y="290.8">150</text><text x="486.1" y="285.3">96</text><text x="495.7" y="284.5">17</text><text x="526.3" y="296.3">146</text><text x="472.2" y="300.9">101</text><text x="503.6" y="300.9">103</text><text x="490.8" y="310.8">110</text><text x="538.6" y="310.8">152</text></g>
<path d="M674.1 190.3L697.9 188.4M674.1 190.3L660.9 205.9M640.4 197.2L660.9 205.9M640.4 197.2L639 214.9M660.9 205.9L639 214.9M639 214.9L633 232.7M633 232.7L614.4 243.7M633 232.7L635.8 251.3M614.4 243.7L635.8 251.3M635.8 251.3L622.6 266.9M683.4 208.6L694.3 223.1M683.4 208.6L676.8 226.7M683.4 208.6L706.1 208.1M683.4 208.6L689.7 235.5M683.4 208.6L660.4 225.9M706.1 208.1L694.3 223.1M706.1 208.1L712.9 226.7M706.1 208.1L702 236.8M694.3 223.1L689.7 235.5M694.3 223.1L702 236.8M694.3 223.1L676.8 226.7M694.3 223.1L712.9 226.7M676.8 226.7L671.3 240.4M676.8 226.7L689.7 235.5M676.8 226.7L660.4 225.9M676.8 226.7L682.8 246.4M660.4 225.9L655.5 239.6M660.4 225.9L671.3 240.4M660.4 225.9L660.9 252.4M712.9 226.7L702 236.8M712.9 226.7L715.1 243.7M712.9 226.7L689.7 235.5M712.9 226.7L695.1 247.8M689.7 235.5L702 236.8M689.7 235.5L682.8 246.4M689.7 235.5L695.1 247.8M689.7 235.5L671.3 240.4M702 236.8L695.1 247.8M702 236.8L715.1 243.7M702 236.8L705.2 257.3M671.3 240.4L682.8 246.4M671.3 240.4L655.5 239.6M671.3 240.4L674.1 256M671.3 240.4L660.9 252.4M655.5 239.6L660.9 252.4M655.5 239.6L674.1 256M655.5 239.6L676.8 226.7M655.5 239.6L658.7 265.5M715.1 243.7L705.2 257.3M715.1 243.7L695.1 247.8M715.1 243.7L689.7 235.5M715.1 243.7L694.3 223.1M682.8 246.4L695.1 247.8M682.8 246.4L674.1 256M682.8 246.4L688.3 258.7M695.1 247.8L688.3 258.7M695.1 247.8L705.2 257.3M660.9 252.4L658.7 265.5M660.9 252.4L674.1 256M660.9 252.4L677.3 266.9M660.9 252.4L682.8 246.4M674.1 256L677.3 266.9M674.1 256L688.3 258.7M674.1 256L658.7 265.5M688.3 258.7L695.1 268.3M688.3 258.7L677.3 266.9M688.3 258.7L705.2 257.3M705.2 257.3L695.1 268.3M705.2 257.3L682.8 246.4M658.7 265.5L677.3 266.9M658.7 265.5L671.3 240.4M677.3 266.9L686.4 282M677.3 266.9L695.1 268.3M677.3 266.9L682.8 246.4M695.1 268.3L686.4 282M695.1 268.3L695.1 247.8M695.1 268.3L674.1 256M686.4 282L688.3 258.7M686.4 282L674.1 256M660.4 225.9L674.1 256M702 236.8L674.1 256M694.3 223.1L712.9 226.7M694.3 223.1L689.7 235.5M676.8 226.7L683.4 208.6M676.8 226.7L660.4 225.9M695.1 247.8L694.3 223.1M671.3 240.4L655.5 239.6M705.2 257.3L694.3 223.1M694.3 223.1L671.3 240.4M660.9 252.4L676.8 226.7M660.9 252.4L676.8 226.7M660.9 252.4L686.4 282M682.8 246.4L715.1 243.7M695.1 247.8L676.8 226.7M694.3 223.1L671.3 240.4M702 236.8L689.7 235.5M712.9 226.7L676.8 226.7M655.5 239.6L660.4 225.9M694.3 223.1L688.3 258.7M683.4 208.6L694.3 223.1M706.1 208.1L694.3 223.1M686.4 282L688.3 258.7M686.4 282L696.5 298.9M739.7 271L717 266.9M739.7 271L728.8 280.6M739.7 271L766.3 269.7M739.7 271L741.6 294.3M728.8 280.6L709.6 280.6M717 266.9L728.8 280.6M728.8 280.6L741.6 294.3M643.1 278.7L663.7 287.4M663.7 287.4L673.2 304.4M663.7 287.4L645.1 298.4" stroke="#0000ff" stroke-width="1" fill="none"/>
<path d="M725.2 196.6L729.3 214.9M729.3 214.9L731.5 234.1M751.2 202.1L753.4 220.4M759.4 237.6L741.1 246.9M759.4 237.6L774.5 250.5M759.4 237.6L751.2 258.7M741.1 246.9L726.6 254.6M741.1 246.9L751.2 258.7M751.2 258.7L774.5 250.5M726.6 254.6L739.7 271M741.1 246.9L739.7 271M751.2 258.7L739.7 271M739.7 271L758.9 284.2M731.5 234.1L741.1 246.9M739.7 271L721.7 295.1" stroke="#ff0000" stroke-width="1" fill="none"/>
<ellipse cx="674.1" cy="190.3" rx="5.1" ry="4.3" fill="#0000ff"/>
<ellipse cx="697.9" cy="188.4" rx="5.1" ry="4.3" fill="#0000ff"/>
<ellipse cx="640.4" cy="197.2" rx="5.1" ry="4.3" fill="#0000ff"/>
<ellipse cx="660.9" cy="205.9" rx="5.1" ry="4.3" fill="#0000ff"/>
<ellipse cx="639" cy="214.9" rx="5.1" ry="4.3" fill="#0000ff"/>
<ellipse cx="633" cy="232.7" rx="5.1" ry="4.3" fill="#0000ff"/>
<ellipse cx="614.4" cy="243.7" rx="5.1" ry="4.3" fill="#0000ff"/>
<ellipse cx="635.8" cy="251.3" rx="5.1" ry="4.3" fill="#0000ff"/>
<ellipse cx="622.6" cy="266.9" rx="5.1" ry="4.3" fill="#0000ff"/>
<ellipse cx="643.1" cy="278.7" rx="5.1" ry="4.3" fill="#0000ff"/>
<ellipse cx="645.1" cy="298.4" rx="5.1" ry="4.3" fill="#0000ff"/>
<ellipse cx="673.2" cy="304.4" rx="5.1" ry="4.3" fill="#0000ff"/>
<ellipse cx="696.5" cy="298.9" rx="5.1" ry="4.3" fill="#0000ff"/>
<ellipse cx="741.6" cy="294.3" rx="5.1" ry="4.3" fill="#0000ff"/>
<ellipse cx="717" cy="266.9" rx="5.1" ry="4.3" fill="#0000ff"/>
<ellipse cx="709.6" cy="280.6" rx="5.1" ry="4.3" fill="#0000ff"/>
<ellipse cx="728.8" cy="280.6" rx="5.1" ry="4.3" fill="#0000ff"/>
<ellipse cx="766.3" cy="269.7" rx="5.1" ry="4.3" fill="#0000ff"/>
<ellipse cx="683.4" cy="208.6" rx="5.1" ry="4.3" fill="#0000ff"/>
<ellipse cx="706.1" cy="208.1" rx="5.1" ry="4.3" fill="#0000ff"/>
<ellipse cx="694.3" cy="223.1" rx="5.1" ry="4.3" fill="#0000ff"/>
<ellipse cx="676.8" cy="226.7" rx="5.1" ry="4.3" fill="#0000ff"/>
<ellipse cx="660.4" cy="225.9" rx="5.1" ry="4.3" fill="#0000ff"/>
<ellipse cx="712.9" cy="226.7" rx="5.1" ry="4.3" fill="#0000ff"/>
<ellipse cx="689.7" cy="235.5" rx="5.1" ry="4.3" fill="#0000ff"/>
<ellipse cx="702" cy="236.8" rx="5.1" ry="4.3" fill="#0000ff"/>
<ellipse cx="671.3" cy="240.4" rx="5.1" ry="4.3" fill="#0000ff"/>
<ellipse cx="655.5" cy="239.6" rx="5.1" ry="4.3" fill="#0000ff"/>
<ellipse cx="715.1" cy="243.7" rx="5.1" ry="4.3" fill="#0000ff"/>
<ellipse cx="682.8" cy="246.4" rx="5.1" ry="4.3" fill="#0000ff"/>
<ellipse cx="695.1" cy="247.8" rx="5.1" ry="4.3" fill="#0000ff"/>
<ellipse cx="660.9" cy="252.4" rx="5.1" ry="4.3" fill="#0000ff"/>
<ellipse cx="674.1" cy="256" rx="5.1" ry="4.3" fill="#0000ff"/>
<ellipse cx="688.3" cy="258.7" rx="5.1" ry="4.3" fill="#0000ff"/>
<ellipse cx="705.2" cy="257.3" rx="5.1" ry="4.3" fill="#0000ff"/>
<ellipse cx="658.7" cy="265.5" rx="5.1" ry="4.3" fill="#0000ff"/>
<ellipse cx="677.3" cy="266.9" rx="5.1" ry="4.3" fill="#0000ff"/>
<ellipse cx="695.1" cy="268.3" rx="5.1" ry="4.3" fill="#0000ff"/>
<ellipse cx="686.4" cy="282" rx="5.1" ry="4.3" fill="#0000ff"/>
<ellipse cx="725.2" cy="196.6" rx="5.1" ry="4.3" fill="#ff0000"/>
<ellipse cx="751.2" cy="202.1" rx="5.1" ry="4.3" fill="#ff0000"/>
<ellipse cx="729.3" cy="214.9" rx="5.1" ry="4.3" fill="#ff0000"/>
<ellipse cx="753.4" cy="220.4" rx="5.1" ry="4.3" fill="#ff0000"/>
<ellipse cx="731.5" cy="234.1" rx="5.1" ry="4.3" fill="#ff0000"/>
<ellipse cx="759.4" cy="237.6" rx="5.1" ry="4.3" fill="#ff0000"/>
<ellipse cx="741.1" cy="246.9" rx="5.1" ry="4.3" fill="#ff0000"/>
<ellipse cx="774.5" cy="250.5" rx="5.1" ry="4.3" fill="#ff0000"/>
<ellipse cx="726.6" cy="254.6" rx="5.1" ry="4.3" fill="#ff0000"/>
<ellipse cx="751.2" cy="258.7" rx="5.1" ry="4.3" fill="#ff0000"/>
<ellipse cx="739.7" cy="271" rx="5.1" ry="4.3" fill="#ff0000"/>
<ellipse cx="758.9" cy="284.2" rx="5.1" ry="4.3" fill="#ff0000"/>
<ellipse cx="663.7" cy="287.4" rx="5.1" ry="4.3" fill="#ff0000"/>
<ellipse cx="721.7" cy="295.1" rx="5.1" ry="4.3" fill="#ff0000"/>
<g font-size="7.8"><text x="674.1" y="200.5">195</text><text x="697.9" y="198.6">221</text><text x="640.4" y="207.4">43</text><text x="660.9" y="216.1">162</text><text x="639" y="225.1">5</text><text x="633" y="242.9">19</text><text x="614.4" y="253.9">15</text><text x="635.8" y="261.5">34</text><text x="622.6" y="277.1">49</text><text x="643.1" y="288.9">45</text><text x="645.1" y="308.6">182</text><text x="673.2" y="314.6">186</text><text x="696.5" y="309.1">225</text><text x="741.6" y="304.5">156</text><text x="717" y="277.1">39</text><text x="709.6" y="290.8">57</text><text x="728.8" y="290.8">124</text><text x="766.3" y="279.9">215</text><text x="683.4" y="218.8">94</text><text x="706.1" y="218.3">89</text><text x="694.3" y="233.3">15</text><text x="676.8" y="236.9">180</text><text x="660.4" y="236.1">229</text><text x="712.9" y="236.9">234</text><text x="689.7" y="245.7">212</text><text x="702" y="247">16</text><text x="671.3" y="250.6">51</text><text x="655.5" y="249.8">138</text><text x="715.1" y="253.9">222</text><text x="682.8" y="256.6">21</text><text x="695.1" y="258">17</text><text x="660.9" y="262.6">160</text><text x="674.1" y="266.2">2</text><text x="688.3" y="268.9">13</text><text x="705.2" y="267.5">153</text><text x="658.7" y="275.7">197</text><text x="677.3" y="277.1">165</text><text x="695.1" y="278.5">176</text><text x="686.4" y="292.2">213</text><text x="725.2" y="206.8">99</text><text x="751.2" y="212.3">38</text><text x="729.3" y="225.1">98</text><text x="753.4" y="230.6">41</text><text x="731.5" y="244.3">163</text><text x="759.4" y="247.8">146</text><text x="741.1" y="257.1">199</text><text x="774.5" y="260.7">143</text><text x="726.6" y="264.8">137</text><text x="751.2" y="268.9">130</text><text x="739.7" y="281.2">34</text><text x="758.9" y="294.4">180</text><text x="663.7" y="297.6">209</text><text x="721.7" y="305.3">6</text></g>
<ellipse cx="79" cy="70" rx="19" ry="24" fill="#0000ff"/>
<path d="M71.9 6.7L62.3 20.9M57.8 10.1L62.3 20.9M57.8 10.1L76.2 16.2M62.3 20.9L76.2 16.2M71.9 6.7L76.2 16.2M28.1 23.6L35.4 34.7M45.5 23.6L35.4 34.7M35.4 34.7L21.3 41.2M21.3 41.2L14.6 52.9M21.3 63.4L11.5 73.1M15.9 85.5L18.9 98.1M49.7 90L59.1 93.3M36.7 104.5L58 100.1M47.2 112L65.2 104.4M32.8 118.3L47.2 112M56.7 119.4L76.2 111.6M64.1 128.4L76.2 111.6M79.6 131.1L76.2 111.6M64.1 128.4L79.6 131.1M62.8 112.5L76.2 111.6M65.2 104.4L73.5 102.1M58 100.1L65.2 104.4M62.8 112.5L73.5 102.1M56.7 119.4L62.8 112.5M59.1 93.3L68 96M73.5 102.1L86 103M109.4 8.1L125.4 11.5M151.4 22.7L141.3 29.4M151.4 22.7L155.5 37.1M151.4 22.7L145.2 37.8M141.3 29.4L145.2 37.8M141.3 29.4L134.5 36.2M141.3 29.4L155.5 37.1M134.5 36.2L130.4 43.9M134.5 36.2L145.2 37.8M134.5 36.2L142.2 46.6M145.2 37.8L142.2 46.6M145.2 37.8L155.5 37.1M155.5 37.1L163.8 42.9M155.5 37.1L153.7 48.9M163.8 42.9L162.2 53.3M163.8 42.9L153.7 48.9M163.8 42.9L174.6 53.3M130.4 43.9L142.2 46.6M130.4 43.9L145.2 37.8M130.4 43.9L141.3 29.4M142.2 46.6L145.6 54.7M142.2 46.6L153.7 48.9M153.7 48.9L162.2 53.3M153.7 48.9L145.6 54.7M162.2 53.3L168 58M162.2 53.3L174.6 53.3M174.6 53.3L168 58M174.6 53.3L184.7 63.4M145.6 54.7L137.9 61.1M145.6 54.7L147.6 65.5M137.9 61.1L147.6 65.5M137.9 61.1L142.2 46.6M137.9 61.1L130.4 43.9M147.6 65.5L155.7 68.8M147.6 65.5L156 72M155.7 68.8L156 72M155.7 68.8L162.5 79.2M155.7 68.8L151.4 82.5M184.7 63.4L179.3 78.2M184.7 63.4L168 58M156 72L162.5 79.2M156 72L151.4 82.5M162.5 79.2L167.2 86.9M162.5 79.2L151.4 82.5M179.3 78.2L167.2 86.9M179.3 78.2L173.9 93.6M179.3 78.2L162.5 79.2M138.5 83.2L144.3 90M138.5 83.2L131.2 89.3M138.5 83.2L151.4 82.5M138.5 83.2L138.5 97.4M151.4 82.5L155.3 91.3M151.4 82.5L144.3 90M167.2 86.9L173.9 93.6M167.2 86.9L164.5 98.1M167.2 86.9L155.3 91.3M131.2 89.3L138.5 97.4M131.2 89.3L128.1 99.8M131.2 89.3L144.3 90M144.3 90L138.5 97.4M144.3 90L155.3 91.3M155.3 91.3L152.8 99.4M155.3 91.3L164.5 98.1M173.9 93.6L164.5 98.1M173.9 93.6L162.5 79.2M110.5 94L128.1 99.8M128.1 99.8L138.5 97.4M128.1 99.8L143.9 105.2M138.5 97.4L143.9 105.2M152.8 99.4L143.9 105.2M152.8 99.4L164.5 98.1M152.8 99.4L144.3 90M143.9 105.2L151.4 115.2M143.9 105.2L144.3 90M151.4 115.2L152.8 99.4M168 58L163.8 42.9M168 58L155.7 68.8M174.6 53.3L145.2 37.8M134.5 36.2L153.7 48.9M147.6 65.5L163.8 42.9M142.2 46.6L156 72M164.5 98.1L138.5 97.4M167.2 86.9L152.8 99.4M168 58L137.9 61.1M162.2 53.3L147.6 65.5M162.5 79.2L173.9 93.6M137.9 61.1L155.7 68.8M162.5 79.2L138.5 83.2M134.5 36.2L141.3 29.4M179.3 78.2L155.7 68.8M163.8 42.9L155.7 68.8M151.4 82.5L138.5 97.4M134.5 36.2L145.6 54.7M163.8 42.9L141.3 29.4M151.4 115.2L173.9 93.6M155.3 91.3L138.5 97.4M137.9 61.1L147.6 65.5M174.6 53.3L162.5 79.2M142.2 46.6L155.7 68.8M152.8 99.4L128.1 99.8M155.5 37.1L134.5 36.2M138.5 97.4L110.5 94M141.3 29.4L162.2 53.3M130.4 43.9L162.2 53.3M153.7 48.9L162.2 53.3M143.9 105.2L151.4 82.5M179.3 78.2L155.7 68.8M86 103L103.4 65.1M73.5 102.1L103.9 74.2M59.1 93.3L67.3 74.6M68 96L104.7 70.7M68 96L70.2 97.7M56.7 119.4L77.5 92.9M73.5 102.1L98.4 68.2M36.7 104.5L67.3 74.6M62.8 112.5L96.8 89.7M62.8 112.5L64.1 85.1M155.7 68.8L126.7 81.9M145.2 37.8L121.3 50.6M137.9 61.1L126.7 81.9M138.5 97.4L121.3 91.3M138.5 83.2L117.3 78.5M138.5 97.4L111.9 86.6M138.5 83.2L129.4 121M153.7 48.9L133.5 51.6M138.5 97.4L111.9 86.6M110.5 94L121.3 91.3M141.3 29.4L129.4 27M138.5 97.4L129.4 121" stroke="#ff0000" stroke-width="0.8" fill="none"/>
<path d="M71.9 6.7L89.1 6.3M97.4 18.2L97.2 33.1M116.3 23.6L113.9 39.8M156.4 60.7L169.9 67.5M36.2 93.3L59.1 93.3M97.4 18.2L89.7 27.7M97.4 18.2L105.8 28.3M78.3 27L74.1 21.7M78.3 27L71 27.8M78.3 27L80.7 36.4M89.7 27.7L97.2 33.1M89.7 27.7L89.1 37.1M89.7 27.7L78.3 27M97.2 33.1L97.7 41.2M97.2 33.1L105.1 36.2M97.2 33.1L89.1 37.1M70.9 33.5L71 27.8M70.9 33.5L72.9 41.2M70.9 33.5L62.1 31.6M54 34.8L46.3 38.6M54 34.8L62.1 31.6M54 34.8L57.9 26.9M80.7 36.4L89.1 37.1M80.7 36.4L72.9 41.2M63.4 38.5L62.1 31.6M63.4 38.5L66.1 46.6M63.4 38.5L70.9 33.5M72.9 41.2L66.1 46.6M45.9 43.9L46.3 38.6M45.9 43.9L56 45.2M45.9 43.9L36.2 48.9M56 45.2L52.6 53.7M56 45.2L63.4 38.5M66.1 46.6L56 45.2M36.2 48.9L35.9 54.9M36.2 48.9L42.9 57.1M52.6 53.7L50.6 61M52.6 53.7L42.9 57.1M42.9 57.1L35.9 54.9M42.9 57.1L50.6 61M42.9 57.1L44 66M50.6 61L44 66M37.5 64.5L44 66M37.5 64.5L37.8 73.1M37.5 64.5L42.9 57.1M37.8 73.1L44 66M37.8 73.1L47.9 74.4M47.9 74.4L45.6 82.3M47.9 74.4L44 66M32.1 81.9L40 88M32.1 81.9L37.8 73.1M32.1 81.9L36.2 93.3M45.6 82.3L40 88M45.6 82.3L56 85.2M56 85.2L47.9 74.4M36.2 93.3L40 88M36.2 93.3L48.3 98.7M48.3 98.7L40 88M87 123L94.5 114.9M87 123L98.5 121M87 123L85.7 110.9M85.7 110.9L82.3 104.1M85.7 110.9L94.5 114.9M85.7 110.9L94.5 105.5M82.3 104.1L94.5 105.5M82.3 104.1L92 96M94.5 105.5L100.4 100.8M94.5 105.5L101.1 111.6M94.5 105.5L94.5 114.9M94.5 114.9L99 120.3M94.5 114.9L98.5 121M94.5 114.9L101.1 111.6M98.5 121L99 120.3M98.5 121L104.4 128.4M116.3 23.6L105.8 28.3M116.3 23.6L129.4 27M105.8 28.3L105.1 36.2M105.8 28.3L97.2 33.1M129.4 27L124 36.7M105.1 36.2L97.7 41.2M124 36.7L113.9 39.8M124 36.7L114.6 46.6M113.9 39.8L114.6 46.6M113.9 39.8L107.1 45.2M113.9 39.8L105.1 36.2M97.7 41.2L89.1 37.1M114.6 46.6L107.1 45.2M114.6 46.6L121.3 50.6M107.1 45.2L107.8 51.3M121.3 50.6L124.7 58M121.3 50.6L114.6 56M133.5 51.6L124.7 58M133.5 51.6L121.3 50.6M107.8 51.3L114.6 46.6M107.8 51.3L114.6 56M114.6 56L109.5 59.6M124.7 58L127.4 64.8M124.7 58L120 66.5M127.4 64.8L120 66.5M127.4 64.8L129.4 74.4M136.8 68.2L129.4 74.4M136.8 68.2L142.9 75.8M136.8 68.2L127.4 64.8M142.9 75.8L129.4 74.4M129.4 74.4L126.7 81.9M117.3 78.5L114.4 71.7M117.3 78.5L110 76M117.3 78.5L111.9 86.6M126.7 81.9L117.3 78.5M126.7 81.9L121.3 91.3M121.3 91.3L111.9 86.6M121.3 91.3L115.2 100.8M111.9 86.6L110 76M115.2 100.8L106.9 105.5M115.2 100.8L115 112.2M100.4 100.8L106.9 105.5M100.4 100.8L92 96M106.9 105.5L101.1 111.6M115 112.2L111.2 119.7M115 112.2L106.9 105.5M130.4 110.9L129.4 121M101.1 111.6L99 120.3M111.2 119.7L104.4 128.4M111.2 119.7L99 120.3M129.4 121L120.6 129.1M104.4 128.4L99 120.3M120.6 129.1L111.2 119.7M92 96L94.5 105.5M108 66L109.5 59.6M108 66L102 60M108 66L114.4 71.7M110 76L114.4 71.7M110 76L108 66M102 60L109.5 59.6M102 60L107.8 51.3M74.1 21.7L71 27.8M74.1 21.7L70.9 33.5M57.9 26.9L62.1 31.6M57.9 26.9L63.4 38.5M46.3 38.6L56 45.2M35.9 54.9L37.5 64.5M120 66.5L114.4 71.7M97.7 41.2L91 82.4M72.9 41.2L59.3 68.8M40 88L71.4 70.7M94.5 114.9L84.2 69.2M72.9 41.2L68 58.6M85.7 110.9L67.3 74.6M136.8 68.2L98.9 79.7M120 66.5L76.9 65.4M111.2 119.7L98.9 79.7M94.5 114.9L92.4 92M114.4 71.7L82.3 54.7M111.9 86.6L86.8 44.8M113.9 39.8L76.2 54.4M97.7 41.2L81.6 86.7M97.2 33.1L89.5 53.1M109.5 59.6L97.1 58.1M124.7 58L77.5 70.9M52.6 53.7L76.7 87.4M32.1 81.9L64.1 85.1M46.3 38.6L61.3 77M82.3 104.1L68 86.9M48.3 98.7L96.8 89.7M89.1 37.1L70.9 54.8M99 120.3L81.6 86.7M114.6 56L89.7 85.6M37.8 73.1L81.2 76.2M37.8 73.1L57.3 57.6M47.9 74.4L77.5 92.9M45.6 82.3L67.6 81.3M111.2 119.7L103.9 74.2M50.6 61L67.6 81.3M52.6 53.7L91 82.4M52.6 53.7L90.3 60.2M60 108L71.4 70.7M47.9 74.4L60.5 53.2M72.9 123L74.1 100.7M111.9 86.6L81.6 86.7M117.3 78.5L76.7 87.4M105.8 28.3L79.4 58.6M50.6 61L89.7 85.6M78.3 27L80.5 49.7M114.4 71.7L104.7 70.7M60 108L73 92.3M105.8 28.3L72.1 58.8M115.2 100.8L89.7 85.6M107.1 45.2L79.4 58.6M97.7 41.2L71.4 50.5M72.9 41.2L70.9 54.8M35.9 54.9L71.4 70.7M99 120.3L71.9 78.9M114.6 56L87.7 50.2M114.6 46.6L101.3 54.5M74.1 21.7L75.1 44.4M71 27.8L82.1 42.2M37.8 73.1L61.4 79.4M71.4 70.7L100.5 86.5M68 58.6L82.8 95.5M57.3 57.6L84.2 69.2M55.2 65.2L57.8 86.7M75.7 74.5L93.5 53.7M97.1 63.1L98.4 68.2M104.7 70.7L70.9 54.8M71.4 50.5L87.9 76.6M81.6 86.7L71.9 78.9M57.3 57.6L77.5 70.9M57.8 86.7L81.2 76.2M71.4 50.5L84.1 63.5M97.1 63.1L70.9 54.8M71.9 78.9L97.1 58.1M87.7 50.2L81.2 76.2M86.8 44.8L87.9 76.6M75.7 74.5L104.7 70.7M89.7 85.6L81.2 76.2M97.1 58.1L67.3 74.6M68 58.6L82.1 42.2M68 58.6L82.8 95.5M97.1 58.1L67.3 74.6M81.2 76.2L76.2 54.4M76.9 65.4L98.4 68.2M59.3 68.8L64.1 85.1M93.9 87.6L82.3 54.7M68 86.9L103.9 74.2M92.4 92L87.9 76.6M67.3 74.6L97.1 58.1M87.1 60.2L79.3 81.6M86.8 81.2L103.4 65.1M55.2 65.2L77.5 70.9M76.7 87.4L80.5 49.7M100.5 86.5L67.3 74.6M63.6 63.6L87.1 60.2M87.1 60.2L71.9 78.9M101.3 54.5L91 82.4M87 63.2L68 58.6M81.2 76.2L61.3 77M60.5 53.2L87.1 60.2M91 82.4L98.9 79.7M104.7 70.7L70.9 54.8M93.5 53.7L101.3 54.5M98.4 68.2L68 58.6M60.5 53.2L67.9 64M63.6 63.6L54.1 74.9M87.7 50.2L90.4 71.2M84.2 91.3L104.7 70.7M77.5 70.9L68 86.9M71.4 70.7L92.4 92M94.4 47.9L87.1 60.2M87.1 60.2L71.4 70.7M96.3 77.1L77.5 70.9M93.5 53.7L76.9 65.4M60.5 53.2L63.6 63.6M67.6 81.3L79.4 58.6M92.4 92L74.1 100.7M67.3 74.6L104.7 70.7M93.5 53.7L57.3 57.6M96.3 77.1L84.2 69.2M110 76L117.3 78.5M109.5 59.6L117.3 78.5M107.8 51.3L105.8 28.3M116.3 23.6L105.1 36.2M70.9 33.5L89.7 27.7M42.9 57.1L36.2 48.9M107.1 45.2L129.4 27M115.2 100.8L111.9 86.6M36.2 93.3L56 85.2M142.9 75.8L127.4 64.8M126.7 81.9L127.4 64.8M113.9 39.8L124 36.7M36.2 48.9L45.9 43.9M46.3 38.6L56 45.2M66.1 46.6L80.7 36.4M116.3 23.6L129.4 27M121.3 91.3L115 112.2M45.6 82.3L36.2 93.3M46.3 38.6L57.9 26.9M101.1 111.6L94.5 114.9M50.6 61L35.9 54.9M70.9 33.5L78.3 27M110 76L114.4 71.7M98.5 121L111.2 119.7M72.9 123L99 120.3M50.6 61L47.9 74.4M115.2 100.8L114.4 71.7M133.5 51.6L109.5 59.6M87 123L98.5 121M115.2 100.8L126.7 81.9" stroke="#0000ff" stroke-width="0.8" fill="none"/>
<ellipse cx="80.8" cy="39" rx="4.1" ry="3.1" fill="#0000ff"/>
<ellipse cx="69.1" cy="42.5" rx="4.1" ry="3.1" fill="#0000ff"/>
<ellipse cx="75.1" cy="44.4" rx="4.1" ry="3.1" fill="#0000ff"/>
<ellipse cx="82.1" cy="42.2" rx="4.1" ry="3.1" fill="#0000ff"/>
<ellipse cx="86.8" cy="44.8" rx="4.1" ry="3.1" fill="#0000ff"/>
<ellipse cx="65.2" cy="49" rx="4.1" ry="3.1" fill="#0000ff"/>
<ellipse cx="71.4" cy="50.5" rx="4.1" ry="3.1" fill="#0000ff"/>
<ellipse cx="80.5" cy="49.7" rx="4.1" ry="3.1" fill="#0000ff"/>
<ellipse cx="87.7" cy="50.2" rx="4.1" ry="3.1" fill="#0000ff"/>
<ellipse cx="94.4" cy="47.9" rx="4.1" ry="3.1" fill="#0000ff"/>
<ellipse cx="96.9" cy="50.3" rx="4.1" ry="3.1" fill="#0000ff"/>
<ellipse cx="60.5" cy="53.2" rx="4.1" ry="3.1" fill="#0000ff"/>
<ellipse cx="70.9" cy="54.8" rx="4.1" ry="3.1" fill="#0000ff"/>
<ellipse cx="76.2" cy="54.4" rx="4.1" ry="3.1" fill="#0000ff"/>
<ellipse cx="82.3" cy="54.7" rx="4.1" ry="3.1" fill="#0000ff"/>
<ellipse cx="89.5" cy="53.1" rx="4.1" ry="3.1" fill="#0000ff"/>
<ellipse cx="93.5" cy="53.7" rx="4.1" ry="3.1" fill="#0000ff"/>
<ellipse cx="101.3" cy="54.5" rx="4.1" ry="3.1" fill="#0000ff"/>
<ellipse cx="57.3" cy="57.6" rx="4.1" ry="3.1" fill="#0000ff"/>
<ellipse cx="68" cy="58.6" rx="4.1" ry="3.1" fill="#0000ff"/>
<ellipse cx="72.1" cy="58.8" rx="4.1" ry="3.1" fill="#0000ff"/>
<ellipse cx="79.4" cy="58.6" rx="4.1" ry="3.1" fill="#0000ff"/>
<ellipse cx="87.1" cy="60.2" rx="4.1" ry="3.1" fill="#0000ff"/>
<ellipse cx="90.3" cy="60.2" rx="4.1" ry="3.1" fill="#0000ff"/>
<ellipse cx="97.1" cy="58.1" rx="4.1" ry="3.1" fill="#0000ff"/>
<ellipse cx="55.2" cy="65.2" rx="4.1" ry="3.1" fill="#0000ff"/>
<ellipse cx="63.6" cy="63.6" rx="4.1" ry="3.1" fill="#0000ff"/>
<ellipse cx="67.9" cy="64" rx="4.1" ry="3.1" fill="#0000ff"/>
<ellipse cx="76.9" cy="65.4" rx="4.1" ry="3.1" fill="#0000ff"/>
<ellipse cx="84.1" cy="63.5" rx="4.1" ry="3.1" fill="#0000ff"/>
<ellipse cx="87" cy="63.2" rx="4.1" ry="3.1" fill="#0000ff"/>
<ellipse cx="97.1" cy="63.1" rx="4.1" ry="3.1" fill="#0000ff"/>
<ellipse cx="103.4" cy="65.1" rx="4.1" ry="3.1" fill="#0000ff"/>
<ellipse cx="59.3" cy="68.8" rx="4.1" ry="3.1" fill="#0000ff"/>
<ellipse cx="67.9" cy="68.3" rx="4.1" ry="3.1" fill="#0000ff"/>
<ellipse cx="71.4" cy="70.7" rx="4.1" ry="3.1" fill="#0000ff"/>
<ellipse cx="77.5" cy="70.9" rx="4.1" ry="3.1" fill="#0000ff"/>
<ellipse cx="84.2" cy="69.2" rx="4.1" ry="3.1" fill="#0000ff"/>
<ellipse cx="90.4" cy="71.2" rx="4.1" ry="3.1" fill="#0000ff"/>
<ellipse cx="98.4" cy="68.2" rx="4.1" ry="3.1" fill="#0000ff"/>
<ellipse cx="104.7" cy="70.7" rx="4.1" ry="3.1" fill="#0000ff"/>
<ellipse cx="54.1" cy="74.9" rx="4.1" ry="3.1" fill="#0000ff"/>
<ellipse cx="61.3" cy="77" rx="4.1" ry="3.1" fill="#0000ff"/>
<ellipse cx="67.3" cy="74.6" rx="4.1" ry="3.1" fill="#0000ff"/>
<ellipse cx="75.7" cy="74.5" rx="4.1" ry="3.1" fill="#0000ff"/>
<ellipse cx="81.2" cy="76.2" rx="4.1" ry="3.1" fill="#0000ff"/>
<ellipse cx="87.9" cy="76.6" rx="4.1" ry="3.1" fill="#0000ff"/>
<ellipse cx="96.3" cy="77.1" rx="4.1" ry="3.1" fill="#0000ff"/>
<ellipse cx="103.9" cy="74.2" rx="4.1" ry="3.1" fill="#0000ff"/>
<ellipse cx="61.4" cy="79.4" rx="4.1" ry="3.1" fill="#0000ff"/>
<ellipse cx="67.6" cy="81.3" rx="4.1" ry="3.1" fill="#0000ff"/>
<ellipse cx="71.9" cy="78.9" rx="4.1" ry="3.1" fill="#0000ff"/>
<ellipse cx="79.3" cy="81.6" rx="4.1" ry="3.1" fill="#0000ff"/>
<ellipse cx="86.8" cy="81.2" rx="4.1" ry="3.1" fill="#0000ff"/>
<ellipse cx="91" cy="82.4" rx="4.1" ry="3.1" fill="#0000ff"/>
<ellipse cx="98.9" cy="79.7" rx="4.1" ry="3.1" fill="#0000ff"/>
<ellipse cx="57.8" cy="86.7" rx="4.1" ry="3.1" fill="#0000ff"/>
<ellipse cx="64.1" cy="85.1" rx="4.1" ry="3.1" fill="#0000ff"/>
<ellipse cx="68" cy="86.9" rx="4.1" ry="3.1" fill="#0000ff"/>
<ellipse cx="76.7" cy="87.4" rx="4.1" ry="3.1" fill="#0000ff"/>
<ellipse cx="81.6" cy="86.7" rx="4.1" ry="3.1" fill="#0000ff"/>
<ellipse cx="89.7" cy="85.6" rx="4.1" ry="3.1" fill="#0000ff"/>
<ellipse cx="93.9" cy="87.6" rx="4.1" ry="3.1" fill="#0000ff"/>
<ellipse cx="100.5" cy="86.5" rx="4.1" ry="3.1" fill="#0000ff"/>
<ellipse cx="66.3" cy="91.6" rx="4.1" ry="3.1" fill="#0000ff"/>
<ellipse cx="73" cy="92.3" rx="4.1" ry="3.1" fill="#0000ff"/>
<ellipse cx="77.5" cy="92.9" rx="4.1" ry="3.1" fill="#0000ff"/>
<ellipse cx="84.2" cy="91.3" rx="4.1" ry="3.1" fill="#0000ff"/>
<ellipse cx="92.4" cy="92" rx="4.1" ry="3.1" fill="#0000ff"/>
<ellipse cx="96.8" cy="89.7" rx="4.1" ry="3.1" fill="#0000ff"/>
<ellipse cx="70.2" cy="97.7" rx="4.1" ry="3.1" fill="#0000ff"/>
<ellipse cx="76.5" cy="96.3" rx="4.1" ry="3.1" fill="#0000ff"/>
<ellipse cx="82.8" cy="95.5" rx="4.1" ry="3.1" fill="#0000ff"/>
<ellipse cx="87.4" cy="97.2" rx="4.1" ry="3.1" fill="#0000ff"/>
<ellipse cx="74.1" cy="100.7" rx="4.1" ry="3.1" fill="#0000ff"/>
<ellipse cx="74.1" cy="21.7" rx="4.1" ry="3.1" fill="#0000ff"/>
<ellipse cx="57.9" cy="26.9" rx="4.1" ry="3.1" fill="#0000ff"/>
<ellipse cx="71" cy="27.8" rx="4.1" ry="3.1" fill="#0000ff"/>
<ellipse cx="62.1" cy="31.6" rx="4.1" ry="3.1" fill="#0000ff"/>
<ellipse cx="46.3" cy="38.6" rx="4.1" ry="3.1" fill="#0000ff"/>
<ellipse cx="35.9" cy="54.9" rx="4.1" ry="3.1" fill="#0000ff"/>
<ellipse cx="109.5" cy="59.6" rx="4.1" ry="3.1" fill="#0000ff"/>
<ellipse cx="120" cy="66.5" rx="4.1" ry="3.1" fill="#0000ff"/>
<ellipse cx="114.4" cy="71.7" rx="4.1" ry="3.1" fill="#0000ff"/>
<ellipse cx="71.9" cy="6.7" rx="4.1" ry="3.1" fill="#ff0000"/>
<ellipse cx="57.8" cy="10.1" rx="4.1" ry="3.1" fill="#ff0000"/>
<ellipse cx="76.2" cy="16.2" rx="4.1" ry="3.1" fill="#ff0000"/>
<ellipse cx="62.3" cy="20.9" rx="4.1" ry="3.1" fill="#ff0000"/>
<ellipse cx="28.1" cy="23.6" rx="4.1" ry="3.1" fill="#ff0000"/>
<ellipse cx="45.5" cy="23.6" rx="4.1" ry="3.1" fill="#ff0000"/>
<ellipse cx="35.4" cy="34.7" rx="4.1" ry="3.1" fill="#ff0000"/>
<ellipse cx="21.3" cy="41.2" rx="4.1" ry="3.1" fill="#ff0000"/>
<ellipse cx="14.6" cy="52.9" rx="4.1" ry="3.1" fill="#ff0000"/>
<ellipse cx="21.3" cy="63.4" rx="4.1" ry="3.1" fill="#ff0000"/>
<ellipse cx="11.5" cy="73.1" rx="4.1" ry="3.1" fill="#ff0000"/>
<ellipse cx="15.9" cy="85.5" rx="4.1" ry="3.1" fill="#ff0000"/>
<ellipse cx="18.9" cy="98.1" rx="4.1" ry="3.1" fill="#ff0000"/>
<ellipse cx="49.7" cy="90" rx="4.1" ry="3.1" fill="#ff0000"/>
<ellipse cx="59.1" cy="93.3" rx="4.1" ry="3.1" fill="#ff0000"/>
<ellipse cx="36.7" cy="104.5" rx="4.1" ry="3.1" fill="#ff0000"/>
<ellipse cx="58" cy="100.1" rx="4.1" ry="3.1" fill="#ff0000"/>
<ellipse cx="65.2" cy="104.4" rx="4.1" ry="3.1" fill="#ff0000"/>
<ellipse cx="73.5" cy="102.1" rx="4.1" ry="3.1" fill="#ff0000"/>
<ellipse cx="47.2" cy="112" rx="4.1" ry="3.1" fill="#ff0000"/>
<ellipse cx="62.8" cy="112.5" rx="4.1" ry="3.1" fill="#ff0000"/>
<ellipse cx="76.2" cy="111.6" rx="4.1" ry="3.1" fill="#ff0000"/>
<ellipse cx="32.8" cy="118.3" rx="4.1" ry="3.1" fill="#ff0000"/>
<ellipse cx="56.7" cy="119.4" rx="4.1" ry="3.1" fill="#ff0000"/>
<ellipse cx="64.1" cy="128.4" rx="4.1" ry="3.1" fill="#ff0000"/>
<ellipse cx="79.6" cy="131.1" rx="4.1" ry="3.1" fill="#ff0000"/>
<ellipse cx="68" cy="96" rx="4.1" ry="3.1" fill="#ff0000"/>
<ellipse cx="86" cy="103" rx="4.1" ry="3.1" fill="#ff0000"/>
<ellipse cx="109.4" cy="8.1" rx="4.1" ry="3.1" fill="#ff0000"/>
<ellipse cx="125.4" cy="11.5" rx="4.1" ry="3.1" fill="#ff0000"/>
<ellipse cx="151.4" cy="22.7" rx="4.1" ry="3.1" fill="#ff0000"/>
<ellipse cx="141.3" cy="29.4" rx="4.1" ry="3.1" fill="#ff0000"/>
<ellipse cx="134.5" cy="36.2" rx="4.1" ry="3.1" fill="#ff0000"/>
<ellipse cx="145.2" cy="37.8" rx="4.1" ry="3.1" fill="#ff0000"/>
<ellipse cx="155.5" cy="37.1" rx="4.1" ry="3.1" fill="#ff0000"/>
<ellipse cx="163.8" cy="42.9" rx="4.1" ry="3.1" fill="#ff0000"/>
<ellipse cx="130.4" cy="43.9" rx="4.1" ry="3.1" fill="#ff0000"/>
<ellipse cx="142.2" cy="46.6" rx="4.1" ry="3.1" fill="#ff0000"/>
<ellipse cx="153.7" cy="48.9" rx="4.1" ry="3.1" fill="#ff0000"/>
<ellipse cx="162.2" cy="53.3" rx="4.1" ry="3.1" fill="#ff0000"/>
<ellipse cx="174.6" cy="53.3" rx="4.1" ry="3.1" fill="#ff0000"/>
<ellipse cx="145.6" cy="54.7" rx="4.1" ry="3.1" fill="#ff0000"/>
<ellipse cx="137.9" cy="61.1" rx="4.1" ry="3.1" fill="#ff0000"/>
<ellipse cx="147.6" cy="65.5" rx="4.1" ry="3.1" fill="#ff0000"/>
<ellipse cx="155.7" cy="68.8" rx="4.1" ry="3.1" fill="#ff0000"/>
<ellipse cx="184.7" cy="63.4" rx="4.1" ry="3.1" fill="#ff0000"/>
<ellipse cx="156" cy="72" rx="4.1" ry="3.1" fill="#ff0000"/>
<ellipse cx="162.5" cy="79.2" rx="4.1" ry="3.1" fill="#ff0000"/>
<ellipse cx="179.3" cy="78.2" rx="4.1" ry="3.1" fill="#ff0000"/>
<ellipse cx="138.5" cy="83.2" rx="4.1" ry="3.1" fill="#ff0000"/>
<ellipse cx="151.4" cy="82.5" rx="4.1" ry="3.1" fill="#ff0000"/>
<ellipse cx="167.2" cy="86.9" rx="4.1" ry="3.1" fill="#ff0000"/>
<ellipse cx="131.2" cy="89.3" rx="4.1" ry="3.1" fill="#ff0000"/>
<ellipse cx="144.3" cy="90" rx="4.1" ry="3.1" fill="#ff0000"/>
<ellipse cx="155.3" cy="91.3" rx="4.1" ry="3.1" fill="#ff0000"/>
<ellipse cx="173.9" cy="93.6" rx="4.1" ry="3.1" fill="#ff0000"/>
<ellipse cx="110.5" cy="94" rx="4.1" ry="3.1" fill="#ff0000"/>
<ellipse cx="128.1" cy="99.8" rx="4.1" ry="3.1" fill="#ff0000"/>
<ellipse cx="138.5" cy="97.4" rx="4.1" ry="3.1" fill="#ff0000"/>
<ellipse cx="152.8" cy="99.4" rx="4.1" ry="3.1" fill="#ff0000"/>
<ellipse cx="164.5" cy="98.1" rx="4.1" ry="3.1" fill="#ff0000"/>
<ellipse cx="143.9" cy="105.2" rx="4.1" ry="3.1" fill="#ff0000"/>
<ellipse cx="151.4" cy="115.2" rx="4.1" ry="3.1" fill="#ff0000"/>
<ellipse cx="168" cy="58" rx="4.1" ry="3.1" fill="#ff0000"/>
<ellipse cx="89.1" cy="6.3" rx="4.1" ry="3.1" fill="#0000ff"/>
<ellipse cx="97.4" cy="18.2" rx="4.1" ry="3.1" fill="#0000ff"/>
<ellipse cx="78.3" cy="27" rx="4.1" ry="3.1" fill="#0000ff"/>
<ellipse cx="89.7" cy="27.7" rx="4.1" ry="3.1" fill="#0000ff"/>
<ellipse cx="97.2" cy="33.1" rx="4.1" ry="3.1" fill="#0000ff"/>
<ellipse cx="70.9" cy="33.5" rx="4.1" ry="3.1" fill="#0000ff"/>
<ellipse cx="54" cy="34.8" rx="4.1" ry="3.1" fill="#0000ff"/>
<ellipse cx="80.7" cy="36.4" rx="4.1" ry="3.1" fill="#0000ff"/>
<ellipse cx="63.4" cy="38.5" rx="4.1" ry="3.1" fill="#0000ff"/>
<ellipse cx="89.1" cy="37.1" rx="4.1" ry="3.1" fill="#0000ff"/>
<ellipse cx="72.9" cy="41.2" rx="4.1" ry="3.1" fill="#0000ff"/>
<ellipse cx="45.9" cy="43.9" rx="4.1" ry="3.1" fill="#0000ff"/>
<ellipse cx="56" cy="45.2" rx="4.1" ry="3.1" fill="#0000ff"/>
<ellipse cx="66.1" cy="46.6" rx="4.1" ry="3.1" fill="#0000ff"/>
<ellipse cx="36.2" cy="48.9" rx="4.1" ry="3.1" fill="#0000ff"/>
<ellipse cx="52.6" cy="53.7" rx="4.1" ry="3.1" fill="#0000ff"/>
<ellipse cx="42.9" cy="57.1" rx="4.1" ry="3.1" fill="#0000ff"/>
<ellipse cx="50.6" cy="61" rx="4.1" ry="3.1" fill="#0000ff"/>
<ellipse cx="37.5" cy="64.5" rx="4.1" ry="3.1" fill="#0000ff"/>
<ellipse cx="37.8" cy="73.1" rx="4.1" ry="3.1" fill="#0000ff"/>
<ellipse cx="47.9" cy="74.4" rx="4.1" ry="3.1" fill="#0000ff"/>
<ellipse cx="32.1" cy="81.9" rx="4.1" ry="3.1" fill="#0000ff"/>
<ellipse cx="45.6" cy="82.3" rx="4.1" ry="3.1" fill="#0000ff"/>
<ellipse cx="56" cy="85.2" rx="4.1" ry="3.1" fill="#0000ff"/>
<ellipse cx="36.2" cy="93.3" rx="4.1" ry="3.1" fill="#0000ff"/>
<ellipse cx="48.3" cy="98.7" rx="4.1" ry="3.1" fill="#0000ff"/>
<ellipse cx="72.9" cy="123" rx="4.1" ry="3.1" fill="#0000ff"/>
<ellipse cx="87" cy="123" rx="4.1" ry="3.1" fill="#0000ff"/>
<ellipse cx="85.7" cy="110.9" rx="4.1" ry="3.1" fill="#0000ff"/>
<ellipse cx="82.3" cy="104.1" rx="4.1" ry="3.1" fill="#0000ff"/>
<ellipse cx="94.5" cy="105.5" rx="4.1" ry="3.1" fill="#0000ff"/>
<ellipse cx="94.5" cy="114.9" rx="4.1" ry="3.1" fill="#0000ff"/>
<ellipse cx="98.5" cy="121" rx="4.1" ry="3.1" fill="#0000ff"/>
<ellipse cx="116.3" cy="23.6" rx="4.1" ry="3.1" fill="#0000ff"/>
<ellipse cx="105.8" cy="28.3" rx="4.1" ry="3.1" fill="#0000ff"/>
<ellipse cx="129.4" cy="27" rx="4.1" ry="3.1" fill="#0000ff"/>
<ellipse cx="105.1" cy="36.2" rx="4.1" ry="3.1" fill="#0000ff"/>
<ellipse cx="124" cy="36.7" rx="4.1" ry="3.1" fill="#0000ff"/>
<ellipse cx="113.9" cy="39.8" rx="4.1" ry="3.1" fill="#0000ff"/>
<ellipse cx="97.7" cy="41.2" rx="4.1" ry="3.1" fill="#0000ff"/>
<ellipse cx="114.6" cy="46.6" rx="4.1" ry="3.1" fill="#0000ff"/>
<ellipse cx="107.1" cy="45.2" rx="4.1" ry="3.1" fill="#0000ff"/>
<ellipse cx="121.3" cy="50.6" rx="4.1" ry="3.1" fill="#0000ff"/>
<ellipse cx="133.5" cy="51.6" rx="4.1" ry="3.1" fill="#0000ff"/>
<ellipse cx="107.8" cy="51.3" rx="4.1" ry="3.1" fill="#0000ff"/>
<ellipse cx="114.6" cy="56" rx="4.1" ry="3.1" fill="#0000ff"/>
<ellipse cx="124.7" cy="58" rx="4.1" ry="3.1" fill="#0000ff"/>
<ellipse cx="156.4" cy="60.7" rx="4.1" ry="3.1" fill="#0000ff"/>
<ellipse cx="169.9" cy="67.5" rx="4.1" ry="3.1" fill="#0000ff"/>
<ellipse cx="127.4" cy="64.8" rx="4.1" ry="3.1" fill="#0000ff"/>
<ellipse cx="136.8" cy="68.2" rx="4.1" ry="3.1" fill="#0000ff"/>
<ellipse cx="142.9" cy="75.8" rx="4.1" ry="3.1" fill="#0000ff"/>
<ellipse cx="129.4" cy="74.4" rx="4.1" ry="3.1" fill="#0000ff"/>
<ellipse cx="117.3" cy="78.5" rx="4.1" ry="3.1" fill="#0000ff"/>
<ellipse cx="126.7" cy="81.9" rx="4.1" ry="3.1" fill="#0000ff"/>
<ellipse cx="121.3" cy="91.3" rx="4.1" ry="3.1" fill="#0000ff"/>
<ellipse cx="111.9" cy="86.6" rx="4.1" ry="3.1" fill="#0000ff"/>
<ellipse cx="115.2" cy="100.8" rx="4.1" ry="3.1" fill="#0000ff"/>
<ellipse cx="100.4" cy="100.8" rx="4.1" ry="3.1" fill="#0000ff"/>
<ellipse cx="106.9" cy="105.5" rx="4.1" ry="3.1" fill="#0000ff"/>
<ellipse cx="115" cy="112.2" rx="4.1" ry="3.1" fill="#0000ff"/>
<ellipse cx="130.4" cy="110.9" rx="4.1" ry="3.1" fill="#0000ff"/>
<ellipse cx="101.1" cy="111.6" rx="4.1" ry="3.1" fill="#0000ff"/>
<ellipse cx="99" cy="120.3" rx="4.1" ry="3.1" fill="#0000ff"/>
<ellipse cx="111.2" cy="119.7" rx="4.1" ry="3.1" fill="#0000ff"/>
<ellipse cx="129.4" cy="121" rx="4.1" ry="3.1" fill="#0000ff"/>
<ellipse cx="104.4" cy="128.4" rx="4.1" ry="3.1" fill="#0000ff"/>
<ellipse cx="120.6" cy="129.1" rx="4.1" ry="3.1" fill="#0000ff"/>
<ellipse cx="44" cy="66" rx="4.1" ry="3.1" fill="#0000ff"/>
<ellipse cx="40" cy="88" rx="4.1" ry="3.1" fill="#0000ff"/>
<ellipse cx="60" cy="108" rx="4.1" ry="3.1" fill="#0000ff"/>
<ellipse cx="92" cy="96" rx="4.1" ry="3.1" fill="#0000ff"/>
<ellipse cx="108" cy="66" rx="4.1" ry="3.1" fill="#0000ff"/>
<ellipse cx="110" cy="76" rx="4.1" ry="3.1" fill="#0000ff"/>
<ellipse cx="102" cy="60" rx="4.1" ry="3.1" fill="#0000ff"/>
<g font-size="5"><text x="71.9" y="14.2">210</text><text x="57.8" y="17.6">56</text><text x="76.2" y="23.7">63</text><text x="62.3" y="28.4">89</text><text x="28.1" y="31.1">13</text><text x="45.5" y="31.1">15</text><text x="35.4" y="42.2">34</text><text x="21.3" y="48.7">89</text><text x="14.6" y="60.4">118</text><text x="21.3" y="70.9">84</text><text x="11.5" y="80.6">36</text><text x="15.9" y="93">235</text><text x="18.9" y="105.6">213</text><text x="49.7" y="97.5">38</text><text x="59.1" y="100.8">118</text><text x="36.7" y="112">119</text><text x="58" y="107.6">52</text><text x="65.2" y="111.9">117</text><text x="73.5" y="109.6">198</text><text x="47.2" y="119.5">40</text><text x="62.8" y="120">97</text><text x="76.2" y="119.1">200</text><text x="32.8" y="125.8">194</text><text x="56.7" y="126.9">247</text><text x="64.1" y="135.9">120</text><text x="79.6" y="138.6">118</text><text x="68" y="103.5">45</text><text x="86" y="110.5">181</text><text x="109.4" y="15.6">70</text><text x="125.4" y="19">60</text><text x="151.4" y="30.2">10</text><text x="141.3" y="36.9">101</text><text x="134.5" y="43.7">188</text><text x="145.2" y="45.3">90</text><text x="155.5" y="44.6">111</text><text x="163.8" y="50.4">117</text><text x="130.4" y="51.4">130</text><text x="142.2" y="54.1">205</text><text x="153.7" y="56.4">29</text><text x="162.2" y="60.8">137</text><text x="174.6" y="60.8">204</text><text x="145.6" y="62.2">32</text><text x="137.9" y="68.6">21</text><text x="147.6" y="73">189</text><text x="155.7" y="76.3">117</text><text x="184.7" y="70.9">19</text><text x="156" y="79.5">37</text><text x="162.5" y="86.7">68</text><text x="179.3" y="85.7">105</text><text x="138.5" y="90.7">13</text><text x="151.4" y="90">169</text><text x="167.2" y="94.4">239</text><text x="131.2" y="96.8">166</text><text x="144.3" y="97.5">53</text><text x="155.3" y="98.8">86</text><text x="173.9" y="101.1">108</text><text x="110.5" y="101.5">108</text><text x="128.1" y="107.3">236</text><text x="138.5" y="104.9">212</text><text x="152.8" y="106.9">157</text><text x="164.5" y="105.6">165</text><text x="143.9" y="112.7">224</text><text x="151.4" y="122.7">136</text><text x="168" y="65.5">59</text><text x="89.1" y="13.8">47</text><text x="97.4" y="25.7">113</text><text x="78.3" y="34.5">91</text><text x="89.7" y="35.2">238</text><text x="97.2" y="40.6">190</text><text x="70.9" y="41">197</text><text x="54" y="42.3">101</text><text x="80.7" y="43.9">200</text><text x="63.4" y="46">238</text><text x="89.1" y="44.6">90</text><text x="72.9" y="48.7">59</text><text x="45.9" y="51.4">9</text><text x="56" y="52.7">235</text><text x="66.1" y="54.1">4</text><text x="36.2" y="56.4">95</text><text x="52.6" y="61.2">58</text><text x="42.9" y="64.6">130</text><text x="50.6" y="68.5">29</text><text x="37.5" y="72">67</text><text x="37.8" y="80.6">93</text><text x="47.9" y="81.9">141</text><text x="32.1" y="89.4">77</text><text x="45.6" y="89.8">81</text><text x="56" y="92.7">23</text><text x="36.2" y="100.8">174</text><text x="48.3" y="106.2">114</text><text x="72.9" y="130.5">33</text><text x="87" y="130.5">33</text><text x="85.7" y="118.4">144</text><text x="82.3" y="111.6">121</text><text x="94.5" y="113">162</text><text x="94.5" y="122.4">227</text><text x="98.5" y="128.5">14</text><text x="116.3" y="31.1">282</text><text x="105.8" y="35.8">242</text><text x="129.4" y="34.5">132</text><text x="105.1" y="43.7">189</text><text x="124" y="44.2">183</text><text x="113.9" y="47.3">123</text><text x="97.7" y="48.7">90</text><text x="114.6" y="54.1">131</text><text x="107.1" y="52.7">123</text><text x="121.3" y="58.1">53</text><text x="133.5" y="59.1">127</text><text x="107.8" y="58.8">13</text><text x="114.6" y="63.5">232</text><text x="124.7" y="65.5">172</text><text x="156.4" y="68.2">219</text><text x="169.9" y="75">50</text><text x="127.4" y="72.3">130</text><text x="136.8" y="75.7">151</text><text x="142.9" y="83.3">66</text><text x="129.4" y="81.9">8</text><text x="117.3" y="86">155</text><text x="126.7" y="89.4">135</text><text x="121.3" y="98.8">45</text><text x="111.9" y="94.1">135</text><text x="115.2" y="108.3">102</text><text x="100.4" y="108.3">209</text><text x="106.9" y="113">197</text><text x="115" y="119.7">28</text><text x="130.4" y="118.4">55</text><text x="101.1" y="119.1">177</text><text x="99" y="127.8">48</text><text x="111.2" y="127.2">11</text><text x="129.4" y="128.5">60</text><text x="104.4" y="135.9">22</text><text x="120.6" y="136.6">29</text><text x="44" y="73.5">239</text><text x="40" y="95.5">149</text><text x="60" y="115.5">182</text><text x="92" y="103.5">60</text><text x="108" y="73.5">119</text><text x="110" y="83.5">178</text><text x="102" y="67.5">3</text><text x="80.8" y="46.5">230</text><text x="86.8" y="52.3">110</text><text x="71.4" y="58">190</text><text x="80.5" y="57.2">218</text><text x="94.4" y="55.4">180</text><text x="70.9" y="62.3">192</text><text x="82.3" y="62.2">25</text><text x="89.5" y="60.6">43</text><text x="93.5" y="61.2">192</text><text x="101.3" y="62">226</text><text x="90.3" y="67.7">187</text><text x="97.1" y="65.6">208</text><text x="55.2" y="72.7">14</text><text x="63.6" y="71.1">149</text><text x="67.9" y="71.5">20</text><text x="76.9" y="72.9">63</text><text x="87" y="70.7">105</text><text x="103.4" y="72.6">123</text><text x="59.3" y="76.3">232</text><text x="67.9" y="75.8">207</text><text x="71.4" y="78.2">230</text><text x="77.5" y="78.4">173</text><text x="90.4" y="78.7">158</text><text x="98.4" y="75.7">66</text><text x="104.7" y="78.2">111</text><text x="61.3" y="84.5">165</text><text x="67.3" y="82.1">219</text><text x="75.7" y="82">27</text><text x="81.2" y="83.7">24</text><text x="87.9" y="84.1">13</text><text x="96.3" y="84.6">175</text><text x="103.9" y="81.7">154</text><text x="61.4" y="86.9">68</text><text x="67.6" y="88.8">70</text><text x="86.8" y="88.7">31</text><text x="98.9" y="87.2">156</text><text x="76.7" y="94.9">38</text><text x="81.6" y="94.2">208</text><text x="73" y="99.8">112</text><text x="96.8" y="97.2">55</text><text x="76.5" y="103.8">27</text><text x="87.4" y="104.7">63</text><text x="74.1" y="108.2">235</text><text x="57.9" y="34.4">166</text><text x="71" y="35.3">33</text><text x="46.3" y="46.1">167</text><text x="109.5" y="67.1">216</text><text x="120" y="74">235</text><text x="114.4" y="79.2">62</text></g>
<ellipse cx="324" cy="64" rx="34" ry="19" fill="#0000ff"/>
<path d="M254.6 36.2L254.9 41.8M254.6 36.2L256.5 48.6M254.6 36.2L244.9 44.5M223.3 47.2L223.9 56.7M223.3 47.2L234.9 49.9M223.3 47.2L234.1 58M234.9 49.9L234.1 58M234.9 49.9L244.9 44.5M234.9 49.9L244.4 58M244.9 44.5L254.9 41.8M244.9 44.5L256.5 48.6M254.9 41.8L256.5 48.6M254.9 41.8L254.4 56.7M256.5 48.6L254.4 56.7M223.9 56.7L234.1 58M223.9 56.7L217.1 64.8M223.9 56.7L227.4 67.5M234.1 58L238.2 64.8M234.1 58L244.4 58M244.4 58L238.2 64.8M244.4 58L254.4 56.7M244.4 58L251.7 66.9M254.4 56.7L251.7 66.9M217.1 64.8L227.4 67.5M227.4 67.5L238.2 64.8M227.4 67.5L234.1 58M238.2 64.8L242 72M251.7 66.9L253 74.2M251.7 66.9L242 72M232.8 78.3L242 72M232.8 78.3L227.4 67.5M232.8 78.3L220.6 85.8M232.8 78.3L238.2 64.8M253 74.2L242 72M253 74.2L238.2 64.8M253 74.2L254.4 56.7M251.7 66.9L256.5 48.6M244.4 58L234.9 49.9M227.4 67.5L220.6 85.8M253 74.2L254.4 56.7M254.6 36.2L234.9 49.9M234.9 49.9L223.3 47.2M227.4 67.5L242 72M242 72L232.8 78.3M254.9 41.8L234.9 49.9M254.9 41.8L254.4 56.7M217.1 64.8L238.2 64.8M234.9 49.9L223.3 47.2M252 6.1L254.6 36.2M220.6 85.8L232.8 78.3M220.6 85.8L231.4 102M220.6 85.8L217.1 64.8M231.4 102L231.4 102M267.3 103.9L267.3 103.9M267.3 103.9L304.3 110.1M304.3 110.1L316.5 128.2M269.2 86.4L267.3 103.9M232.8 78.3L269.2 86.4M242 72L269.2 86.4M267.3 103.9L231.4 102M253 74.2L230.1 91.3M251.7 66.9L244.9 82.5M242 72L271.8 64.6M242 72L211.9 76.5M238.2 64.8L271.8 64.6M234.1 58L240.9 73.8M251.7 66.9L274.6 58M234.1 58L210.9 39.8M234.1 58L263.8 71.7M234.9 49.9L234.1 38.5" stroke="#ff0000" stroke-width="0.8" fill="none"/>
<path d="M268.5 6.7L254.1 22.7M235.8 17.9L254.1 22.7M254.1 22.7L244.9 44.5M210.9 39.8L223.9 56.7M360.9 7.4L375.7 20M343.7 126.8L361.9 119.3M213.6 102.5L224.7 117.6M278.4 16.9L269.9 27.7M292.2 6.7L293.5 19.6M293.5 19.6L298.8 29M293.5 19.6L287.8 29M269.9 27.7L279.3 36.4M269.9 27.7L269.9 41.2M287.8 29L289.5 39.1M287.8 29L298.8 29M279.3 36.4L282 45M279.3 36.4L289.5 39.1M279.3 36.4L269.9 41.2M269.9 41.2L266.5 51.3M269.9 41.2L282 45M289.5 39.1L298.8 37.1M289.5 39.1L282 45M266.5 51.3L263.8 61.4M266.5 51.3L274.6 58M278 51L282 45M278 51L274.6 58M278 51L266.5 51.3M274.6 58L271.8 64.6M263.8 61.4L271.8 64.6M263.8 61.4L263.8 71.7M329.4 14.6L320.2 19.3M329.4 14.6L324.4 26.7M344 14.2L339.3 25M309.6 17.9L311.6 28.1M309.6 17.9L320.2 19.3M339.3 25L345.3 34.4M339.3 25L333.2 34.4M352.8 25.6L345.3 34.4M352.8 25.6L360.9 34.8M352.8 25.6L339.3 25M324.4 26.7L320.2 19.3M324.4 26.7L320.8 35.8M324.4 26.7L333.2 34.4M311.6 28.1L308.9 35.4M311.6 28.1L320.8 35.8M298.8 29L298.8 37.1M333.2 34.4L335.2 44.5M333.2 34.4L324.8 41.8M345.3 34.4L348.7 43.5M360.9 34.8L366.9 39.7M360.9 34.8L359.1 46.6M308.9 35.4L298.8 37.1M308.9 35.4L320.8 35.8M320.8 35.8L324.8 41.8M348.7 43.5L342 49.3M348.7 43.5L351.4 52.6M335.2 44.5L342 49.3M335.2 44.5L324.8 41.8M359.1 46.6L351.4 52.6M359.1 46.6L366.9 39.7M359.1 46.6L348.7 43.5M372.3 45.9L366.9 39.7M372.3 45.9L377.5 55.3M372.3 45.9L359.1 46.6M324.8 41.8L319 47.9M319 47.9L320.8 35.8M342 49.3L351.4 52.6M377.5 55.3L368.9 60.1M377.5 55.3L379.7 66.8M368.9 60.1L372 68M368.9 60.1L366 72M379.7 66.8L372 68M379.7 66.8L373.7 75.8M240.9 73.8L244.9 82.5M263.8 71.7L269.9 78.2M263.8 71.7L271.8 64.6M269.9 78.2L280 83.9M269.9 78.2L271.8 64.6M244.9 82.5L242.9 93.3M244.9 82.5L257.3 85.9M257.3 85.9L254.4 94.7M230.1 91.3L242.9 93.3M242.9 93.3L254.4 94.7M254.4 94.7L255.7 108.5M269 96L281.4 92.7M269 96L280 104.1M280 83.9L281.4 92.7M280 83.9L290.1 87.9M281.4 92.7L290.1 87.9M281.4 92.7L290.1 98.7M290.1 87.9L299.4 92M290.1 87.9L290.1 98.7M290.1 98.7L280 104.1M280 104.1L281.4 92.7M280 104.1L274.4 115.6M290.8 111.6L292 111.6M290.8 111.6L290.1 98.7M290.8 111.6L280 104.1M255.7 108.5L256.4 121.4M256.4 121.4L268.5 128.2M274.4 115.6L268.5 128.2M373.7 75.8L372 68M373.7 75.8L366 72M378.4 85.9L373.7 75.8M378.4 85.9L364.9 82.5M364.9 82.5L364.9 92M364.9 82.5L366 72M364.9 82.5L373.7 75.8M364.9 92L353.4 90.6M364.9 92L356.1 100.8M353.4 90.6L344 87.9M353.4 90.6L356.1 100.8M344 87.9L344.7 98.7M344 87.9L331.8 92.7M356.1 100.8L344.7 98.7M344.7 98.7L334.5 100.1M334.5 100.1L331.8 92.7M334.5 100.1L336.6 108.9M331.8 92.7L319 92.7M319 92.7L310.2 91.3M319 92.7L314.3 101.7M310.2 91.3L299.4 92M310.2 91.3L314.3 101.7M299.4 92L302.8 100.4M302.8 100.4L314.3 101.7M302.8 100.4L310.2 91.3M314.3 101.7L324.8 105.8M324.8 105.8L319 114.3M324.8 105.8L334.5 100.1M336.6 108.9L324.8 105.8M336.6 108.9L344.7 98.7M319 114.3L314.3 101.7M292 111.6L290.1 98.7M292 111.6L302.1 120.1M284 70L271.8 64.6M372 68L366 72M344.7 98.7L325.4 79.4M280 83.9L311.2 52.1M319 114.3L332.9 75.9M356.1 100.8L352.7 70.1M320.2 19.3L318.9 53.2M293.5 19.6L310.6 43M333.2 34.4L330.2 55M366.9 39.7L349.1 47.7M364.9 92L345.3 64.5M320.8 35.8L327 47.4M377.5 55.3L349.1 47.7M320.8 35.8L354.8 57.8M269.9 41.2L301.9 70.5M266.5 51.3L311.2 52.1M274.6 58L318.4 58.8M351.4 52.6L326.7 89.5M314.3 101.7L291.4 64.4M324.8 105.8L308.4 73.2M351.4 52.6L336.3 64.8M269.9 27.7L292.1 57.5M319 47.9L342.2 84.4M368.9 60.1L339.7 47.3M302.8 100.4L308.4 73.2M356.1 100.8L316.4 86.8M329.4 14.6L311.2 52.1M314.3 101.7L323.8 86.4M282 45L301.9 70.5M279.3 36.4L321.9 43.8M319 92.7L339.7 86.8M335.2 44.5L354.8 57.8M364.9 82.5L325.4 79.4M319 47.9L350 74.5M290.1 98.7L292.9 78.6M333.2 34.4L318.9 53.2M280 104.1L299 84.1M269 96L299 62.9M352.8 25.6L363 59.6M280 104.1L312.2 80.6M298.8 37.1L330.2 55M284 70L315.7 62.3M257.3 85.9L297.1 74.1M344 87.9L341 81.5M269.9 78.2L299 84.1M319 47.9L345.6 80.1M366 72L354.8 57.8M336.6 108.9L325.4 79.4M331.8 92.7L335.8 58.5M324.4 26.7L304.5 55M269.9 78.2L291.9 47.5M353.4 90.6L349 67.6M364.9 82.5L349.1 47.7M344.7 98.7L332.9 75.9M333.2 34.4L335.1 69.9M298.8 37.1L301.9 70.5M333.2 34.4L299 62.9M290.1 87.9L306.4 78.7M378.4 85.9L355.4 78.7M324.4 26.7L356.8 48.8M331.8 92.7L360.2 76.1M293.5 19.6L292.1 57.5M359.1 46.6L365.3 63.8M287.8 29L299 62.9M348.7 43.5L316.1 69.9M320.2 19.3L299 45.9M298.8 37.1L297.5 53.9M377.5 55.3L365.3 63.8M336.6 108.9L318.5 73.7M379.7 66.8L345.6 80.1M302.1 120.1L326.7 89.5M284 70L308.4 73.2M321.9 43.8L327.4 59.8M324 63.3L292.9 78.6M311.2 52.1L313.7 47.9M362.1 70.7L349 67.6M318.5 73.7L297.5 53.9M318.5 73.7L332.8 87.7M281.8 65.8L311.2 52.1M325.4 79.4L297.1 74.1M322.1 52.3L292.1 57.5M287.6 56.7L307.6 60.3M362.1 70.7L339.7 47.3M360.2 76.1L359.7 53.3M345.6 80.1L327.4 59.8M353.4 65.4L349.1 47.7M312.6 60L315.7 62.3M291.4 64.4L310.3 87.2M324 63.3L292.7 69.1M302 79.7L299 84.1M356.8 48.8L322.1 49.5M350.2 57.3L345.6 80.1M350.2 57.3L345.3 64.5M321.9 43.8L312.6 60M317 43.9L330.2 55M316.1 69.9L299 84.1M354.8 57.8L339.7 47.3M311.6 62.8L297.5 53.9M350.2 57.3L317 43.9M350 74.5L350.2 57.3M327.4 59.8L318.9 53.2M331.3 40.4L345.3 64.5M363 59.6L353.4 65.4M329.8 67.9L330.2 55M322.2 75.5L331.3 40.4M298.1 59.5L297.1 74.1M330.2 55L291.4 64.4M292.7 69.1L288.3 74.2M313.7 47.9L315.7 62.3M297.1 74.1L301.9 70.5M326.7 89.5L301.9 70.5M345.6 80.1L360.2 76.1M333.4 45.8L359.7 53.3M365.3 63.8L356.8 48.8M312.6 60L299 62.9M350 74.5L316.4 86.8M307.6 60.3L319.4 68.6M292.1 57.5L317 43.9M342.8 59L318.4 58.8M290.2 55L307.1 68.2M312.6 60L299 84.1M332.8 87.7L362.1 70.7M318.4 58.8L323.8 86.4M316.1 69.9L345.2 54.1M339.7 86.8L352.6 53.4M350.9 43.9L329.8 67.9M339.9 68.5L342.8 59M350 74.5L322.1 52.3M304.5 55L292.9 78.6M287.6 56.7L307.1 68.2M339.9 68.5L342.8 59M354.8 57.8L356.8 48.8M256.4 121.4L268.5 128.2M293.5 19.6L287.8 29M311.6 28.1L309.6 17.9M266.5 51.3L279.3 36.4M334.5 100.1L319 92.7M290.1 87.9L280 104.1M289.5 39.1L278 51M333.2 34.4L335.2 44.5M266.5 51.3L279.3 36.4M257.3 85.9L263.8 71.7M289.5 39.1L269.9 41.2M375.7 20L360.9 7.4M375.7 20L360.9 34.8M360.9 7.4L352.8 25.6M372.3 45.9L366.9 39.7" stroke="#0000ff" stroke-width="0.8" fill="none"/>
<ellipse cx="305.3" cy="42.9" rx="4.4" ry="3.4" fill="#0000ff"/>
<ellipse cx="310.6" cy="43" rx="4.4" ry="3.4" fill="#0000ff"/>
<ellipse cx="317" cy="43.9" rx="4.4" ry="3.4" fill="#0000ff"/>
<ellipse cx="321.9" cy="43.8" rx="4.4" ry="3.4" fill="#0000ff"/>
<ellipse cx="331.3" cy="40.4" rx="4.4" ry="3.4" fill="#0000ff"/>
<ellipse cx="336.4" cy="40.7" rx="4.4" ry="3.4" fill="#0000ff"/>
<ellipse cx="344.9" cy="42.8" rx="4.4" ry="3.4" fill="#0000ff"/>
<ellipse cx="350.9" cy="43.9" rx="4.4" ry="3.4" fill="#0000ff"/>
<ellipse cx="291.9" cy="47.5" rx="4.4" ry="3.4" fill="#0000ff"/>
<ellipse cx="299" cy="45.9" rx="4.4" ry="3.4" fill="#0000ff"/>
<ellipse cx="305.7" cy="48.8" rx="4.4" ry="3.4" fill="#0000ff"/>
<ellipse cx="313.7" cy="47.9" rx="4.4" ry="3.4" fill="#0000ff"/>
<ellipse cx="322.1" cy="49.5" rx="4.4" ry="3.4" fill="#0000ff"/>
<ellipse cx="327" cy="47.4" rx="4.4" ry="3.4" fill="#0000ff"/>
<ellipse cx="333.4" cy="45.8" rx="4.4" ry="3.4" fill="#0000ff"/>
<ellipse cx="339.7" cy="47.3" rx="4.4" ry="3.4" fill="#0000ff"/>
<ellipse cx="349.1" cy="47.7" rx="4.4" ry="3.4" fill="#0000ff"/>
<ellipse cx="356.8" cy="48.8" rx="4.4" ry="3.4" fill="#0000ff"/>
<ellipse cx="290.2" cy="55" rx="4.4" ry="3.4" fill="#0000ff"/>
<ellipse cx="297.5" cy="53.9" rx="4.4" ry="3.4" fill="#0000ff"/>
<ellipse cx="304.5" cy="55" rx="4.4" ry="3.4" fill="#0000ff"/>
<ellipse cx="311.2" cy="52.1" rx="4.4" ry="3.4" fill="#0000ff"/>
<ellipse cx="318.9" cy="53.2" rx="4.4" ry="3.4" fill="#0000ff"/>
<ellipse cx="322.1" cy="52.3" rx="4.4" ry="3.4" fill="#0000ff"/>
<ellipse cx="330.2" cy="55" rx="4.4" ry="3.4" fill="#0000ff"/>
<ellipse cx="336.1" cy="52.4" rx="4.4" ry="3.4" fill="#0000ff"/>
<ellipse cx="345.2" cy="54.1" rx="4.4" ry="3.4" fill="#0000ff"/>
<ellipse cx="352.6" cy="53.4" rx="4.4" ry="3.4" fill="#0000ff"/>
<ellipse cx="359.7" cy="53.3" rx="4.4" ry="3.4" fill="#0000ff"/>
<ellipse cx="287.6" cy="56.7" rx="4.4" ry="3.4" fill="#0000ff"/>
<ellipse cx="292.1" cy="57.5" rx="4.4" ry="3.4" fill="#0000ff"/>
<ellipse cx="298.1" cy="59.5" rx="4.4" ry="3.4" fill="#0000ff"/>
<ellipse cx="307.6" cy="60.3" rx="4.4" ry="3.4" fill="#0000ff"/>
<ellipse cx="312.6" cy="60" rx="4.4" ry="3.4" fill="#0000ff"/>
<ellipse cx="318.4" cy="58.8" rx="4.4" ry="3.4" fill="#0000ff"/>
<ellipse cx="327.4" cy="59.8" rx="4.4" ry="3.4" fill="#0000ff"/>
<ellipse cx="335.8" cy="58.5" rx="4.4" ry="3.4" fill="#0000ff"/>
<ellipse cx="342.8" cy="59" rx="4.4" ry="3.4" fill="#0000ff"/>
<ellipse cx="350.2" cy="57.3" rx="4.4" ry="3.4" fill="#0000ff"/>
<ellipse cx="354.8" cy="57.8" rx="4.4" ry="3.4" fill="#0000ff"/>
<ellipse cx="363" cy="59.6" rx="4.4" ry="3.4" fill="#0000ff"/>
<ellipse cx="281.8" cy="65.8" rx="4.4" ry="3.4" fill="#0000ff"/>
<ellipse cx="291.4" cy="64.4" rx="4.4" ry="3.4" fill="#0000ff"/>
<ellipse cx="299" cy="62.9" rx="4.4" ry="3.4" fill="#0000ff"/>
<ellipse cx="305.5" cy="64" rx="4.4" ry="3.4" fill="#0000ff"/>
<ellipse cx="311.6" cy="62.8" rx="4.4" ry="3.4" fill="#0000ff"/>
<ellipse cx="315.7" cy="62.3" rx="4.4" ry="3.4" fill="#0000ff"/>
<ellipse cx="324" cy="63.3" rx="4.4" ry="3.4" fill="#0000ff"/>
<ellipse cx="328.9" cy="63.5" rx="4.4" ry="3.4" fill="#0000ff"/>
<ellipse cx="336.3" cy="64.8" rx="4.4" ry="3.4" fill="#0000ff"/>
<ellipse cx="345.3" cy="64.5" rx="4.4" ry="3.4" fill="#0000ff"/>
<ellipse cx="353.4" cy="65.4" rx="4.4" ry="3.4" fill="#0000ff"/>
<ellipse cx="359.2" cy="65.1" rx="4.4" ry="3.4" fill="#0000ff"/>
<ellipse cx="365.3" cy="63.8" rx="4.4" ry="3.4" fill="#0000ff"/>
<ellipse cx="287.8" cy="67.9" rx="4.4" ry="3.4" fill="#0000ff"/>
<ellipse cx="292.7" cy="69.1" rx="4.4" ry="3.4" fill="#0000ff"/>
<ellipse cx="301.9" cy="70.5" rx="4.4" ry="3.4" fill="#0000ff"/>
<ellipse cx="307.1" cy="68.2" rx="4.4" ry="3.4" fill="#0000ff"/>
<ellipse cx="316.1" cy="69.9" rx="4.4" ry="3.4" fill="#0000ff"/>
<ellipse cx="319.4" cy="68.6" rx="4.4" ry="3.4" fill="#0000ff"/>
<ellipse cx="329.8" cy="67.9" rx="4.4" ry="3.4" fill="#0000ff"/>
<ellipse cx="335.1" cy="69.9" rx="4.4" ry="3.4" fill="#0000ff"/>
<ellipse cx="339.9" cy="68.5" rx="4.4" ry="3.4" fill="#0000ff"/>
<ellipse cx="349" cy="67.6" rx="4.4" ry="3.4" fill="#0000ff"/>
<ellipse cx="352.7" cy="70.1" rx="4.4" ry="3.4" fill="#0000ff"/>
<ellipse cx="362.1" cy="70.7" rx="4.4" ry="3.4" fill="#0000ff"/>
<ellipse cx="288.3" cy="74.2" rx="4.4" ry="3.4" fill="#0000ff"/>
<ellipse cx="297.1" cy="74.1" rx="4.4" ry="3.4" fill="#0000ff"/>
<ellipse cx="303.5" cy="76.3" rx="4.4" ry="3.4" fill="#0000ff"/>
<ellipse cx="308.4" cy="73.2" rx="4.4" ry="3.4" fill="#0000ff"/>
<ellipse cx="318.5" cy="73.7" rx="4.4" ry="3.4" fill="#0000ff"/>
<ellipse cx="322.2" cy="75.5" rx="4.4" ry="3.4" fill="#0000ff"/>
<ellipse cx="332.9" cy="75.9" rx="4.4" ry="3.4" fill="#0000ff"/>
<ellipse cx="336.4" cy="73.9" rx="4.4" ry="3.4" fill="#0000ff"/>
<ellipse cx="346" cy="76.1" rx="4.4" ry="3.4" fill="#0000ff"/>
<ellipse cx="350" cy="74.5" rx="4.4" ry="3.4" fill="#0000ff"/>
<ellipse cx="360.2" cy="76.1" rx="4.4" ry="3.4" fill="#0000ff"/>
<ellipse cx="292.9" cy="78.6" rx="4.4" ry="3.4" fill="#0000ff"/>
<ellipse cx="302" cy="79.7" rx="4.4" ry="3.4" fill="#0000ff"/>
<ellipse cx="306.4" cy="78.7" rx="4.4" ry="3.4" fill="#0000ff"/>
<ellipse cx="312.2" cy="80.6" rx="4.4" ry="3.4" fill="#0000ff"/>
<ellipse cx="321.5" cy="80" rx="4.4" ry="3.4" fill="#0000ff"/>
<ellipse cx="325.4" cy="79.4" rx="4.4" ry="3.4" fill="#0000ff"/>
<ellipse cx="332.9" cy="79.2" rx="4.4" ry="3.4" fill="#0000ff"/>
<ellipse cx="341" cy="81.5" rx="4.4" ry="3.4" fill="#0000ff"/>
<ellipse cx="345.6" cy="80.1" rx="4.4" ry="3.4" fill="#0000ff"/>
<ellipse cx="355.4" cy="78.7" rx="4.4" ry="3.4" fill="#0000ff"/>
<ellipse cx="299" cy="84.1" rx="4.4" ry="3.4" fill="#0000ff"/>
<ellipse cx="304.9" cy="87.3" rx="4.4" ry="3.4" fill="#0000ff"/>
<ellipse cx="310.3" cy="87.2" rx="4.4" ry="3.4" fill="#0000ff"/>
<ellipse cx="316.4" cy="86.8" rx="4.4" ry="3.4" fill="#0000ff"/>
<ellipse cx="323.8" cy="86.4" rx="4.4" ry="3.4" fill="#0000ff"/>
<ellipse cx="332.8" cy="87.7" rx="4.4" ry="3.4" fill="#0000ff"/>
<ellipse cx="339.7" cy="86.8" rx="4.4" ry="3.4" fill="#0000ff"/>
<ellipse cx="342.2" cy="84.4" rx="4.4" ry="3.4" fill="#0000ff"/>
<ellipse cx="326.7" cy="89.5" rx="4.4" ry="3.4" fill="#0000ff"/>
<ellipse cx="320.2" cy="19.3" rx="4.4" ry="3.4" fill="#0000ff"/>
<ellipse cx="366.9" cy="39.7" rx="4.4" ry="3.4" fill="#0000ff"/>
<ellipse cx="271.8" cy="64.6" rx="4.4" ry="3.4" fill="#0000ff"/>
<ellipse cx="252" cy="6.1" rx="4.4" ry="3.4" fill="#ff0000"/>
<ellipse cx="235.8" cy="17.9" rx="4.4" ry="3.4" fill="#ff0000"/>
<ellipse cx="254.6" cy="36.2" rx="4.4" ry="3.4" fill="#ff0000"/>
<ellipse cx="223.3" cy="47.2" rx="4.4" ry="3.4" fill="#ff0000"/>
<ellipse cx="234.9" cy="49.9" rx="4.4" ry="3.4" fill="#ff0000"/>
<ellipse cx="244.9" cy="44.5" rx="4.4" ry="3.4" fill="#ff0000"/>
<ellipse cx="254.9" cy="41.8" rx="4.4" ry="3.4" fill="#ff0000"/>
<ellipse cx="256.5" cy="48.6" rx="4.4" ry="3.4" fill="#ff0000"/>
<ellipse cx="223.9" cy="56.7" rx="4.4" ry="3.4" fill="#ff0000"/>
<ellipse cx="234.1" cy="58" rx="4.4" ry="3.4" fill="#ff0000"/>
<ellipse cx="244.4" cy="58" rx="4.4" ry="3.4" fill="#ff0000"/>
<ellipse cx="254.4" cy="56.7" rx="4.4" ry="3.4" fill="#ff0000"/>
<ellipse cx="217.1" cy="64.8" rx="4.4" ry="3.4" fill="#ff0000"/>
<ellipse cx="227.4" cy="67.5" rx="4.4" ry="3.4" fill="#ff0000"/>
<ellipse cx="238.2" cy="64.8" rx="4.4" ry="3.4" fill="#ff0000"/>
<ellipse cx="251.7" cy="66.9" rx="4.4" ry="3.4" fill="#ff0000"/>
<ellipse cx="232.8" cy="78.3" rx="4.4" ry="3.4" fill="#ff0000"/>
<ellipse cx="220.6" cy="85.8" rx="4.4" ry="3.4" fill="#ff0000"/>
<ellipse cx="253" cy="74.2" rx="4.4" ry="3.4" fill="#ff0000"/>
<ellipse cx="269.2" cy="86.4" rx="4.4" ry="3.4" fill="#ff0000"/>
<ellipse cx="231.4" cy="102" rx="4.4" ry="3.4" fill="#ff0000"/>
<ellipse cx="267.3" cy="103.9" rx="4.4" ry="3.4" fill="#ff0000"/>
<ellipse cx="304.3" cy="110.1" rx="4.4" ry="3.4" fill="#ff0000"/>
<ellipse cx="316.5" cy="128.2" rx="4.4" ry="3.4" fill="#ff0000"/>
<ellipse cx="242" cy="72" rx="4.4" ry="3.4" fill="#ff0000"/>
<ellipse cx="268.5" cy="6.7" rx="4.4" ry="3.4" fill="#0000ff"/>
<ellipse cx="254.1" cy="22.7" rx="4.4" ry="3.4" fill="#0000ff"/>
<ellipse cx="210.9" cy="39.8" rx="4.4" ry="3.4" fill="#0000ff"/>
<ellipse cx="234.1" cy="38.5" rx="4.4" ry="3.4" fill="#0000ff"/>
<ellipse cx="278.4" cy="16.9" rx="4.4" ry="3.4" fill="#0000ff"/>
<ellipse cx="292.2" cy="6.7" rx="4.4" ry="3.4" fill="#0000ff"/>
<ellipse cx="293.5" cy="19.6" rx="4.4" ry="3.4" fill="#0000ff"/>
<ellipse cx="269.9" cy="27.7" rx="4.4" ry="3.4" fill="#0000ff"/>
<ellipse cx="287.8" cy="29" rx="4.4" ry="3.4" fill="#0000ff"/>
<ellipse cx="279.3" cy="36.4" rx="4.4" ry="3.4" fill="#0000ff"/>
<ellipse cx="269.9" cy="41.2" rx="4.4" ry="3.4" fill="#0000ff"/>
<ellipse cx="289.5" cy="39.1" rx="4.4" ry="3.4" fill="#0000ff"/>
<ellipse cx="266.5" cy="51.3" rx="4.4" ry="3.4" fill="#0000ff"/>
<ellipse cx="278" cy="51" rx="4.4" ry="3.4" fill="#0000ff"/>
<ellipse cx="274.6" cy="58" rx="4.4" ry="3.4" fill="#0000ff"/>
<ellipse cx="263.8" cy="61.4" rx="4.4" ry="3.4" fill="#0000ff"/>
<ellipse cx="360.9" cy="7.4" rx="4.4" ry="3.4" fill="#0000ff"/>
<ellipse cx="375.7" cy="20" rx="4.4" ry="3.4" fill="#0000ff"/>
<ellipse cx="329.4" cy="14.6" rx="4.4" ry="3.4" fill="#0000ff"/>
<ellipse cx="344" cy="14.2" rx="4.4" ry="3.4" fill="#0000ff"/>
<ellipse cx="309.6" cy="17.9" rx="4.4" ry="3.4" fill="#0000ff"/>
<ellipse cx="339.3" cy="25" rx="4.4" ry="3.4" fill="#0000ff"/>
<ellipse cx="352.8" cy="25.6" rx="4.4" ry="3.4" fill="#0000ff"/>
<ellipse cx="324.4" cy="26.7" rx="4.4" ry="3.4" fill="#0000ff"/>
<ellipse cx="311.6" cy="28.1" rx="4.4" ry="3.4" fill="#0000ff"/>
<ellipse cx="298.8" cy="29" rx="4.4" ry="3.4" fill="#0000ff"/>
<ellipse cx="333.2" cy="34.4" rx="4.4" ry="3.4" fill="#0000ff"/>
<ellipse cx="345.3" cy="34.4" rx="4.4" ry="3.4" fill="#0000ff"/>
<ellipse cx="360.9" cy="34.8" rx="4.4" ry="3.4" fill="#0000ff"/>
<ellipse cx="308.9" cy="35.4" rx="4.4" ry="3.4" fill="#0000ff"/>
<ellipse cx="320.8" cy="35.8" rx="4.4" ry="3.4" fill="#0000ff"/>
<ellipse cx="298.8" cy="37.1" rx="4.4" ry="3.4" fill="#0000ff"/>
<ellipse cx="348.7" cy="43.5" rx="4.4" ry="3.4" fill="#0000ff"/>
<ellipse cx="335.2" cy="44.5" rx="4.4" ry="3.4" fill="#0000ff"/>
<ellipse cx="359.1" cy="46.6" rx="4.4" ry="3.4" fill="#0000ff"/>
<ellipse cx="372.3" cy="45.9" rx="4.4" ry="3.4" fill="#0000ff"/>
<ellipse cx="324.8" cy="41.8" rx="4.4" ry="3.4" fill="#0000ff"/>
<ellipse cx="319" cy="47.9" rx="4.4" ry="3.4" fill="#0000ff"/>
<ellipse cx="342" cy="49.3" rx="4.4" ry="3.4" fill="#0000ff"/>
<ellipse cx="351.4" cy="52.6" rx="4.4" ry="3.4" fill="#0000ff"/>
<ellipse cx="377.5" cy="55.3" rx="4.4" ry="3.4" fill="#0000ff"/>
<ellipse cx="368.9" cy="60.1" rx="4.4" ry="3.4" fill="#0000ff"/>
<ellipse cx="379.7" cy="66.8" rx="4.4" ry="3.4" fill="#0000ff"/>
<ellipse cx="211.9" cy="76.5" rx="4.4" ry="3.4" fill="#0000ff"/>
<ellipse cx="240.9" cy="73.8" rx="4.4" ry="3.4" fill="#0000ff"/>
<ellipse cx="263.8" cy="71.7" rx="4.4" ry="3.4" fill="#0000ff"/>
<ellipse cx="269.9" cy="78.2" rx="4.4" ry="3.4" fill="#0000ff"/>
<ellipse cx="244.9" cy="82.5" rx="4.4" ry="3.4" fill="#0000ff"/>
<ellipse cx="257.3" cy="85.9" rx="4.4" ry="3.4" fill="#0000ff"/>
<ellipse cx="230.1" cy="91.3" rx="4.4" ry="3.4" fill="#0000ff"/>
<ellipse cx="242.9" cy="93.3" rx="4.4" ry="3.4" fill="#0000ff"/>
<ellipse cx="254.4" cy="94.7" rx="4.4" ry="3.4" fill="#0000ff"/>
<ellipse cx="269" cy="96" rx="4.4" ry="3.4" fill="#0000ff"/>
<ellipse cx="280" cy="83.9" rx="4.4" ry="3.4" fill="#0000ff"/>
<ellipse cx="281.4" cy="92.7" rx="4.4" ry="3.4" fill="#0000ff"/>
<ellipse cx="290.1" cy="87.9" rx="4.4" ry="3.4" fill="#0000ff"/>
<ellipse cx="290.1" cy="98.7" rx="4.4" ry="3.4" fill="#0000ff"/>
<ellipse cx="280" cy="104.1" rx="4.4" ry="3.4" fill="#0000ff"/>
<ellipse cx="290.8" cy="111.6" rx="4.4" ry="3.4" fill="#0000ff"/>
<ellipse cx="213.6" cy="102.5" rx="4.4" ry="3.4" fill="#0000ff"/>
<ellipse cx="224.7" cy="117.6" rx="4.4" ry="3.4" fill="#0000ff"/>
<ellipse cx="241.6" cy="112.5" rx="4.4" ry="3.4" fill="#0000ff"/>
<ellipse cx="255.7" cy="108.5" rx="4.4" ry="3.4" fill="#0000ff"/>
<ellipse cx="256.4" cy="121.4" rx="4.4" ry="3.4" fill="#0000ff"/>
<ellipse cx="274.4" cy="115.6" rx="4.4" ry="3.4" fill="#0000ff"/>
<ellipse cx="268.5" cy="128.2" rx="4.4" ry="3.4" fill="#0000ff"/>
<ellipse cx="287" cy="125.1" rx="4.4" ry="3.4" fill="#0000ff"/>
<ellipse cx="373.7" cy="75.8" rx="4.4" ry="3.4" fill="#0000ff"/>
<ellipse cx="378.4" cy="85.9" rx="4.4" ry="3.4" fill="#0000ff"/>
<ellipse cx="364.9" cy="82.5" rx="4.4" ry="3.4" fill="#0000ff"/>
<ellipse cx="364.9" cy="92" rx="4.4" ry="3.4" fill="#0000ff"/>
<ellipse cx="353.4" cy="90.6" rx="4.4" ry="3.4" fill="#0000ff"/>
<ellipse cx="344" cy="87.9" rx="4.4" ry="3.4" fill="#0000ff"/>
<ellipse cx="356.1" cy="100.8" rx="4.4" ry="3.4" fill="#0000ff"/>
<ellipse cx="344.7" cy="98.7" rx="4.4" ry="3.4" fill="#0000ff"/>
<ellipse cx="334.5" cy="100.1" rx="4.4" ry="3.4" fill="#0000ff"/>
<ellipse cx="331.8" cy="92.7" rx="4.4" ry="3.4" fill="#0000ff"/>
<ellipse cx="319" cy="92.7" rx="4.4" ry="3.4" fill="#0000ff"/>
<ellipse cx="310.2" cy="91.3" rx="4.4" ry="3.4" fill="#0000ff"/>
<ellipse cx="299.4" cy="92" rx="4.4" ry="3.4" fill="#0000ff"/>
<ellipse cx="302.8" cy="100.4" rx="4.4" ry="3.4" fill="#0000ff"/>
<ellipse cx="314.3" cy="101.7" rx="4.4" ry="3.4" fill="#0000ff"/>
<ellipse cx="324.8" cy="105.8" rx="4.4" ry="3.4" fill="#0000ff"/>
<ellipse cx="336.6" cy="108.9" rx="4.4" ry="3.4" fill="#0000ff"/>
<ellipse cx="319" cy="114.3" rx="4.4" ry="3.4" fill="#0000ff"/>
<ellipse cx="292" cy="111.6" rx="4.4" ry="3.4" fill="#0000ff"/>
<ellipse cx="302.1" cy="120.1" rx="4.4" ry="3.4" fill="#0000ff"/>
<ellipse cx="343.7" cy="126.8" rx="4.4" ry="3.4" fill="#0000ff"/>
<ellipse cx="361.9" cy="119.3" rx="4.4" ry="3.4" fill="#0000ff"/>
<ellipse cx="282" cy="45" rx="4.4" ry="3.4" fill="#0000ff"/>
<ellipse cx="284" cy="70" rx="4.4" ry="3.4" fill="#0000ff"/>
<ellipse cx="372" cy="68" rx="4.4" ry="3.4" fill="#0000ff"/>
<ellipse cx="366" cy="72" rx="4.4" ry="3.4" fill="#0000ff"/>
<g font-size="5.2"><text x="252" y="13.9">51</text><text x="235.8" y="25.7">62</text><text x="254.6" y="44">88</text><text x="223.3" y="55">149</text><text x="234.9" y="57.7">217</text><text x="244.9" y="52.3">50</text><text x="254.9" y="49.6">233</text><text x="256.5" y="56.4">145</text><text x="223.9" y="64.5">139</text><text x="234.1" y="65.8">237</text><text x="244.4" y="65.8">92</text><text x="254.4" y="64.5">120</text><text x="217.1" y="72.6">30</text><text x="227.4" y="75.3">13</text><text x="238.2" y="72.6">170</text><text x="251.7" y="74.7">129</text><text x="232.8" y="86.1">55</text><text x="220.6" y="93.6">80</text><text x="253" y="82">155</text><text x="269.2" y="94.2">240</text><text x="231.4" y="109.8">96</text><text x="267.3" y="111.7">118</text><text x="304.3" y="117.9">124</text><text x="316.5" y="136">73</text><text x="242" y="79.8">57</text><text x="268.5" y="14.5">198</text><text x="254.1" y="30.5">61</text><text x="210.9" y="47.6">13</text><text x="234.1" y="46.3">199</text><text x="278.4" y="24.7">239</text><text x="292.2" y="14.5">71</text><text x="293.5" y="27.4">141</text><text x="269.9" y="35.5">126</text><text x="287.8" y="36.8">141</text><text x="279.3" y="44.2">177</text><text x="269.9" y="49">232</text><text x="289.5" y="46.9">90</text><text x="266.5" y="59.1">271</text><text x="278" y="58.8">119</text><text x="274.6" y="65.8">15</text><text x="263.8" y="69.2">207</text><text x="360.9" y="15.2">135</text><text x="375.7" y="27.8">65</text><text x="329.4" y="22.4">21</text><text x="344" y="22">49</text><text x="309.6" y="25.7">241</text><text x="339.3" y="32.8">50</text><text x="352.8" y="33.4">72</text><text x="324.4" y="34.5">186</text><text x="311.6" y="35.9">174</text><text x="298.8" y="36.8">212</text><text x="333.2" y="42.2">38</text><text x="345.3" y="42.2">84</text><text x="360.9" y="42.6">13</text><text x="308.9" y="43.2">24</text><text x="320.8" y="43.6">72</text><text x="298.8" y="44.9">240</text><text x="348.7" y="51.3">40</text><text x="335.2" y="52.3">65</text><text x="359.1" y="54.4">120</text><text x="372.3" y="53.7">212</text><text x="324.8" y="49.6">53</text><text x="319" y="55.7">109</text><text x="342" y="57.1">29</text><text x="351.4" y="60.4">135</text><text x="377.5" y="63.1">84</text><text x="368.9" y="67.9">205</text><text x="379.7" y="74.6">140</text><text x="211.9" y="84.3">232</text><text x="240.9" y="81.6">231</text><text x="263.8" y="79.5">82</text><text x="269.9" y="86">63</text><text x="244.9" y="90.3">25</text><text x="257.3" y="93.7">72</text><text x="230.1" y="99.1">168</text><text x="242.9" y="101.1">228</text><text x="254.4" y="102.5">46</text><text x="269" y="103.8">4</text><text x="280" y="91.7">4</text><text x="281.4" y="100.5">163</text><text x="290.1" y="95.7">102</text><text x="290.1" y="106.5">220</text><text x="280" y="111.9">157</text><text x="290.8" y="119.4">118</text><text x="213.6" y="110.3">168</text><text x="224.7" y="125.4">106</text><text x="241.6" y="120.3">151</text><text x="255.7" y="116.3">168</text><text x="256.4" y="129.2">129</text><text x="274.4" y="123.4">157</text><text x="268.5" y="136">92</text><text x="287" y="132.9">25</text><text x="373.7" y="83.6">20</text><text x="378.4" y="93.7">220</text><text x="364.9" y="90.3">146</text><text x="364.9" y="99.8">91</text><text x="353.4" y="98.4">12</text><text x="344" y="95.7">206</text><text x="356.1" y="108.6">138</text><text x="344.7" y="106.5">17</text><text x="334.5" y="107.9">119</text><text x="331.8" y="100.5">87</text><text x="319" y="100.5">62</text><text x="310.2" y="99.1">203</text><text x="299.4" y="99.8">70</text><text x="302.8" y="108.2">121</text><text x="314.3" y="109.5">170</text><text x="324.8" y="113.6">242</text><text x="336.6" y="116.7">139</text><text x="319" y="122.1">27</text><text x="292" y="119.4">51</text><text x="302.1" y="127.9">107</text><text x="343.7" y="134.6">181</text><text x="361.9" y="127.1">891</text><text x="282" y="52.8">142</text><text x="284" y="77.8">152</text><text x="372" y="75.8">138</text><text x="366" y="79.8">81</text><text x="305.3" y="50.7">145</text><text x="310.6" y="50.8">172</text><text x="331.3" y="48.2">86</text><text x="336.4" y="48.5">55</text><text x="344.9" y="50.6">143</text><text x="305.7" y="56.6">115</text><text x="313.7" y="55.7">29</text><text x="322.1" y="57.3">65</text><text x="327" y="55.2">176</text><text x="333.4" y="53.6">82</text><text x="339.7" y="55.1">178</text><text x="349.1" y="55.5">166</text><text x="356.8" y="56.6">197</text><text x="304.5" y="62.8">125</text><text x="322.1" y="60.1">223</text><text x="330.2" y="62.8">184</text><text x="345.2" y="61.9">158</text><text x="359.7" y="61.1">196</text><text x="298.1" y="67.3">63</text><text x="307.6" y="68.1">151</text><text x="312.6" y="67.8">93</text><text x="342.8" y="66.8">53</text><text x="354.8" y="65.6">51</text><text x="363" y="67.4">60</text><text x="299" y="70.7">18</text><text x="305.5" y="71.8">204</text><text x="328.9" y="71.3">33</text><text x="336.3" y="72.6">3</text><text x="359.2" y="72.9">145</text><text x="287.8" y="75.7">184</text><text x="292.7" y="76.9">197</text><text x="301.9" y="78.3">5</text><text x="307.1" y="76">3</text><text x="335.1" y="77.7">91</text><text x="339.9" y="76.3">141</text><text x="349" y="75.4">144</text><text x="352.7" y="77.9">100</text><text x="362.1" y="78.5">239</text><text x="288.3" y="82">76</text><text x="297.1" y="81.9">227</text><text x="308.4" y="81">95</text><text x="318.5" y="81.5">223</text><text x="322.2" y="83.3">114</text><text x="346" y="83.9">184</text><text x="360.2" y="83.9">232</text><text x="302" y="87.5">29</text><text x="312.2" y="88.4">198</text><text x="321.5" y="87.8">211</text><text x="325.4" y="87.2">121</text><text x="341" y="89.3">86</text><text x="345.6" y="87.9">183</text><text x="355.4" y="86.5">19</text><text x="304.9" y="95.1">68</text><text x="332.8" y="95.5">100</text><text x="339.7" y="94.6">195</text><text x="326.7" y="97.3">224</text><text x="366.9" y="47.5">133</text></g>
<path d="M451.4 34.4L460 46M436.2 50.6L443.2 55.7M436.2 50.6L434.1 59.1M436.2 50.6L427.4 61.4M436.2 50.6L444.3 62.8M453.3 53.7L460 46M453.3 53.7L443.2 55.7M453.3 53.7L458.4 62.8M453.3 53.7L465.2 54.7M443.2 55.7L444.3 62.8M443.2 55.7L434.1 59.1M465.2 54.7L460 46M465.2 54.7L458.4 62.8M465.2 54.7L466.5 66.8M434.1 59.1L427.4 61.4M434.1 59.1L444.3 62.8M427.4 61.4L428.7 68.8M427.4 61.4L428.1 69.7M458.4 62.8L456.4 69.7M458.4 62.8L466.5 66.8M444.3 62.8L444.9 67.5M444.3 62.8L450.3 73.4M466.5 66.8L462.5 73.1M466.5 66.8L466.5 77.1M466.5 66.8L456.4 69.7M444.9 67.5L442.5 75.1M444.9 67.5L450.3 73.4M444.9 67.5L436.2 74.7M428.7 68.8L428.1 69.7M428.7 68.8L423.3 76.1M428.7 68.8L436.2 74.7M428.1 69.7L423.3 76.1M428.1 69.7L436.2 74.7M456.4 69.7L462.5 73.1M456.4 69.7L450.3 73.4M423.3 76.1L436.2 74.7M423.3 76.1L436.6 82.3M436.2 74.7L442.5 75.1M436.2 74.7L436.6 82.3M436.2 74.7L441.6 82.3M442.5 75.1L441.6 82.3M442.5 75.1L450.3 73.4M450.3 73.4L452.4 82.3M462.5 73.1L466.5 77.1M462.5 73.1L458.4 62.8M466.5 77.1L471.2 83.2M466.5 77.1L456.4 69.7M436.6 82.3L441.6 82.3M436.6 82.3L442.5 75.1M436.6 82.3L436.2 91.7M441.6 82.3L452.4 82.3M452.4 82.3L455.7 85.2M452.4 82.3L455.1 92.7M455.7 85.2L455.1 92.7M455.7 85.2L450.3 73.4M455.7 85.2L466.5 77.1M471.2 83.2L474.6 89M471.2 83.2L476.4 88.6M471.2 83.2L462.5 73.1M474.6 89L476.4 88.6M474.6 89L479.3 96.5M474.6 89L478.7 97.4M436.2 91.7L441.6 82.3M436.2 91.7L429.4 100.4M436.2 91.7L425.8 97.4M415 93.3L425.8 97.4M425.8 97.4L429.4 100.4M425.8 97.4L437.5 103.9M429.4 100.4L437.5 103.9M478.7 97.4L479.3 96.5M478.7 97.4L476.4 88.6M478.7 97.4L473.3 106.2M488.1 90.6L479.3 96.5M488.1 90.6L478.7 97.4M488.1 90.6L476.4 88.6M488.1 90.6L474.6 89M437.5 103.9L440.2 113.3M437.5 103.9L447.6 108.5M437.5 103.9L436.2 91.7M447.6 108.5L440.2 113.3M447.6 108.5L463.2 108.2M463.2 108.2L469.2 115.2M463.2 108.2L473.3 106.2M473.3 106.2L469.2 115.2M473.3 106.2L479.3 96.5M469.2 115.2L484.7 114.3M485.4 106.2L484.7 114.3M485.4 106.2L478.7 97.4M485.4 106.2L479.3 96.5M485.4 106.2L473.3 106.2M484.7 114.3L495.4 113.9M484.7 114.3L492.2 122.4M484.7 114.3L473.3 106.2M492.2 122.4L495.4 113.9M495.4 113.9L485.4 106.2M476.4 88.6L479.3 96.5M436.2 91.7L423.3 76.1M444.9 67.5L465.2 54.7M444.9 67.5L450.3 73.4M428.7 68.8L443.2 55.7M474.6 89L455.1 92.7M444.3 62.8L460 46M455.1 92.7L440.2 113.3M473.3 106.2L469.2 115.2M444.9 67.5L455.1 92.7M442.5 75.1L450.3 73.4M466.5 66.8L465.2 54.7M444.3 62.8L441.6 82.3M455.1 92.7L450.3 73.4M452.4 82.3L442.5 75.1M425.8 97.4L436.2 74.7M456.4 69.7L455.1 92.7M436.2 50.6L458.4 62.8M436.2 50.6L443.2 55.7M425.8 97.4L428.1 69.7M442.5 75.1L436.6 82.3M428.7 68.8L450.3 73.4M479.3 96.5L476.4 88.6M434.1 59.1L458.4 62.8M428.1 69.7L456.4 69.7M434.1 59.1L436.2 50.6M423.3 76.1L436.2 74.7M476.4 88.6L469.2 115.2M474.6 89L485.4 106.2M473.3 106.2L479.3 96.5M478.7 97.4L488.1 90.6M436.2 74.7L441.6 82.3M474.6 89L476.4 88.6M488.1 90.6L484.7 114.3M428.7 68.8L428.1 69.7M456.4 69.7L471.2 83.2M441.6 82.3L447.6 108.5M460 46L453.3 53.7M478.7 97.4L471.2 83.2M453.3 53.7L436.2 50.6M455.1 92.7L452.4 82.3M469 16.2L477.7 16.9M505.9 12.6L515 12.6M495.4 113.9L507.5 114.9M507.5 114.9L511.6 123M514 105.9L507.5 114.9M492.2 122.4L495.4 113.9M484.7 114.3L492.2 122.4M514 105.9L514 105.9" stroke="#ff3030" stroke-width="0.6" fill="none"/>
<path d="M538.6 15.9L547.4 13.5M538.6 15.9L535.2 21.9M547.4 13.5L546.7 21.9M535.2 21.9L546.7 21.9M546.7 21.9L556.1 27.4M465.2 28.7L462.1 38.9M486.8 36.4L462.1 38.9M478.4 48.6L478.6 48.1M478.4 48.6L488 50.3M478.4 48.6L487.3 43.8M478.4 48.6L485.8 56.1M478.4 48.6L486.6 36.6M478.4 48.6L486.8 36.4M486.8 36.4L486.6 36.6M486.8 36.4L489.5 38.7M486.8 36.4L487.3 43.8M486.8 36.4L499.6 41.6M486.8 36.4L488 50.3M486.8 36.4L478.6 48.1M518.8 32.2L513.3 40.9M518.8 32.2L529.6 32.5M518.8 32.2L509.7 38.7M518.8 32.2L521.2 43.8M518.8 32.2L516.9 51M518.8 32.2L507.5 47.4M529.6 32.5L541.8 37.6M529.6 32.5L521.2 43.8M529.6 32.5L540.8 46M529.6 32.5L513.3 40.9M529.6 32.5L532.1 51M541.8 37.6L540.8 46M541.8 37.6L545.8 50.3M541.8 37.6L532.1 51M541.8 37.6L553.8 53.2M541.8 37.6L534.2 57.5M486.6 36.6L489.5 38.7M486.6 36.6L487.3 43.8M486.6 36.6L488 50.3M486.6 36.6L499.6 41.6M486.6 36.6L478.6 48.1M489.5 38.7L487.3 43.8M489.5 38.7L499.6 41.6M489.5 38.7L488 50.3M489.5 38.7L497.4 48.8M499.6 41.6L497.4 48.8M499.6 41.6L507.5 47.4M499.6 41.6L509.7 38.7M499.6 41.6L487.3 43.8M499.6 41.6L513.3 40.9M509.7 38.7L513.3 40.9M509.7 38.7L507.5 47.4M509.7 38.7L521.2 43.8M509.7 38.7L516.9 51M513.3 40.9L521.2 43.8M513.3 40.9L507.5 47.4M513.3 40.9L516.9 51M513.3 40.9L508.2 53.2M521.2 43.8L516.9 51M521.2 43.8L532.1 51M478.6 48.1L488 50.3M478.6 48.1L487.3 43.8M478.6 48.1L485.8 56.1M487.3 43.8L488 50.3M488 50.3L485.8 56.1M488 50.3L493.8 55.3M488 50.3L497.4 48.8M497.4 48.8L493.8 55.3M497.4 48.8L507.5 47.4M497.4 48.8L504.6 56.8M497.4 48.8L487.3 43.8M507.5 47.4L508.2 53.2M507.5 47.4L504.6 56.8M507.5 47.4L516.9 51M516.9 51L508.2 53.2M516.9 51L511.1 60.4M516.9 51L527 59M485.8 56.1L493.8 55.3M485.8 56.1L490.9 62.6M485.8 56.1L480.7 66.6M493.8 55.3L490.9 62.6M493.8 55.3L504.6 56.8M493.8 55.3L487.3 43.8M504.6 56.8L508.2 53.2M504.6 56.8L511.1 60.4M504.6 56.8L511.1 67.6M511.1 60.4L511.1 67.6M511.1 60.4L508.2 53.2M511.1 60.4L509 72.7M511.1 60.4L507.5 47.4M508.2 53.2L497.4 48.8M532.1 51L534.2 57.5M532.1 51L527 59M532.1 51L540.8 46M532.1 51L545.8 50.3M532.1 51L532.8 64.7M540.8 46L545.8 50.3M540.8 46L534.2 57.5M540.8 46L542.2 60.4M540.8 46L553.8 53.2M545.8 50.3L553.8 53.2M545.8 50.3L542.2 60.4M545.8 50.3L534.2 57.5M545.8 50.3L550.1 63.3M553.8 53.2L560.4 57.5M553.8 53.2L550.1 63.3M553.8 53.2L542.2 60.4M553.8 53.2L567.5 51M567.5 51L560.4 57.5M567.5 51L573.3 59M567.5 51L578.3 63.7M567.5 51L577.7 65M567.5 51L566.8 68.6M573.3 59L578.3 63.7M573.3 59L577.7 65M573.3 59L566.8 68.6M573.3 59L566.9 69M573.3 59L560.4 57.5M578.3 63.7L577.7 65M578.3 63.7L566.8 68.6M578.3 63.7L566.9 69M578.3 63.7L560.4 57.5M566.8 68.6L566.9 69M566.8 68.6L558.1 67.6M566.8 68.6L560.3 77.7M566.8 68.6L577.7 65M527 59L534.2 57.5M527 59L532.8 64.7M527 59L526.3 67.6M527 59L538.6 66.9M534.2 57.5L532.8 64.7M534.2 57.5L542.2 60.4M534.2 57.5L538.6 66.9M534.2 57.5L526.3 67.6M542.2 60.4L538.6 66.9M542.2 60.4L550.1 63.3M542.2 60.4L545.8 69.8M542.2 60.4L532.8 64.7M550.1 63.3L545.8 69.8M550.1 63.3L558.1 67.6M550.1 63.3L553 74.1M550.1 63.3L560.4 57.5M558.1 67.6L553 74.1M558.1 67.6L566.9 69M558.1 67.6L560.3 77.7M558.1 67.6L560.4 57.5M490.9 62.6L491.6 69.1M490.9 62.6L480.7 66.6M490.9 62.6L488 50.3M490.9 62.6L498.1 73.4M491.6 69.1L498.1 73.4M491.6 69.1L498.8 74.4M491.6 69.1L484.2 74.6M491.6 69.1L480.7 66.6M491.6 69.1L499.6 79.9M511.1 67.6L509 72.7M511.1 67.6L516.2 79.2M511.1 67.6L498.8 74.4M511.1 67.6L498.1 73.4M509 72.7L516.2 79.2M509 72.7L501.5 79.8M509 72.7L498.8 74.4M509 72.7L498.1 73.4M509 72.7L499.6 79.9M498.1 73.4L498.8 74.4M498.1 73.4L499.6 79.9M498.1 73.4L501.5 79.8M498.1 73.4L498.1 84.2M526.3 67.6L532.8 64.7M526.3 67.6L529.9 74.1M526.3 67.6L537.1 72.7M526.3 67.6L538.6 66.9M526.3 67.6L531.4 79.2M532.8 64.7L538.6 66.9M532.8 64.7L537.1 72.7M532.8 64.7L529.9 74.1M538.6 66.9L537.1 72.7M538.6 66.9L545.8 69.8M538.6 66.9L541.5 77M545.8 69.8L541.5 77M545.8 69.8L553 74.1M545.8 69.8L537.1 72.7M545.8 69.8L546.5 79.6M553 74.1L555.2 78.5M553 74.1L560.3 77.7M553 74.1L546.5 79.6M560.3 77.7L555.2 78.5M560.3 77.7L567.7 81.7M560.3 77.7L566.9 69M529.9 74.1L531.4 79.2M529.9 74.1L537.1 72.7M529.9 74.1L523.4 81.4M529.9 74.1L538.6 66.9M537.1 72.7L541.5 77M537.1 72.7L531.4 79.2M541.5 77L546.5 79.6M541.5 77L531.4 79.2M541.5 77L553 74.1M499.6 79.9L501.5 79.8M499.6 79.9L498.1 84.2M499.6 79.9L498.8 74.4M499.6 79.9L506.8 87.1M498.1 84.2L501.5 79.8M498.1 84.2L506.8 87.1M498.1 84.2L498.8 74.4M498.1 84.2L501.7 93.6M516.2 79.2L523.4 81.4M516.2 79.2L506.8 87.1M516.2 79.2L517.6 92.2M516.2 79.2L509 91.5M523.4 81.4L531.4 79.2M523.4 81.4L517.6 92.2M523.4 81.4L527.7 92.9M523.4 81.4L532.8 90M531.4 79.2L532.8 90M546.5 79.6L555.2 78.5M546.5 79.6L537.1 72.7M546.5 79.6L560.3 77.7M555.2 78.5L558.1 67.6M555.2 78.5L545.8 69.8M555.2 78.5L567.7 81.7M574 89.3L568.9 95.1M574 89.3L567.7 81.7M574 89.3L560.3 77.7M574 89.3L566.9 69M574 89.3L553 94.4M574 89.3L555.2 78.5M568.9 95.1L567.7 81.7M568.9 95.1L553 94.4M568.9 95.1L560.3 77.7M568.9 95.1L555.2 78.5M506.8 87.1L509 91.5M506.8 87.1L501.7 93.6M506.8 87.1L501.5 79.8M506.8 87.1L517.6 92.2M509 91.5L501.7 93.6M509 91.5L514 97.3M509 91.5L517.6 92.2M509 91.5L501.5 98.7M509 91.5L498.1 84.2M501.7 93.6L501.5 98.7M501.7 93.6L514 97.3M501.7 93.6L501.5 79.8M517.6 92.2L514 97.3M517.6 92.2L527.7 92.9M527.7 92.9L532.8 90M527.7 92.9L534.2 98M527.7 92.9L539.3 94.4M527.7 92.9L531.4 79.2M532.8 90L539.3 94.4M532.8 90L534.2 98M532.8 90L517.6 92.2M539.3 94.4L534.2 98M539.3 94.4L534.3 105.5M539.3 94.4L553 94.4M539.3 94.4L546.5 79.6M553 94.4L555.2 78.5M553 94.4L546.5 79.6M553 94.4L560.3 77.7M553 94.4L534.2 98M534.2 98L534.3 105.5M534.2 98L517.6 92.2M534.2 98L531.4 79.2M514 97.3L506.8 87.1M514 97.3L501.5 98.7M514 97.3L527.7 92.9M501.5 98.7L506.8 87.1M501.5 98.7L498.1 84.2M501.5 98.7L517.6 92.2M534.3 105.5L527.7 92.9M534.3 105.5L532.8 90M534.3 105.5L517.6 92.2M534.3 105.5L553 94.4M498.8 74.4L501.5 79.8M566.9 69L577.7 65M577.7 65L560.4 57.5M560.4 57.5L566.8 68.6M480.7 66.6L484.2 74.6M480.7 66.6L493.8 55.3M480.7 66.6L488 50.3M484.2 74.6L490.9 62.6M484.2 74.6L498.1 73.4M484.2 74.6L498.8 74.4M484.2 74.6L499.6 79.9M567.7 81.7L566.9 69M567.7 81.7L566.8 68.6M531.4 79.2L566.9 69M553 94.4L532.8 64.7M553 74.1L558.1 67.6M486.8 36.4L518.8 32.2M558.1 67.6L568.9 95.1M493.8 55.3L508.2 53.2M574 89.3L545.8 50.3M566.8 68.6L558.1 67.6M538.6 66.9L501.7 93.6M545.8 69.8L566.9 69M518.8 32.2L499.6 41.6M534.2 57.5L511.1 67.6M498.1 84.2L546.5 79.6M487.3 43.8L490.9 62.6M534.2 98L529.9 74.1M488 50.3L506.8 87.1M527 59L487.3 43.8M526.3 67.6L567.7 81.7M566.9 69L534.2 98M529.9 74.1L574 89.3M516.9 51L499.6 79.9M516.9 51L487.3 43.8M486.8 36.4L521.2 43.8M516.2 79.2L541.5 77M488 50.3L532.8 64.7M534.2 98L498.1 84.2M553 94.4L553.8 53.2M566.9 69L550.1 63.3M540.8 46L518.8 32.2M490.9 62.6L484.2 74.6M514 97.3L498.1 84.2M523.4 81.4L541.8 37.6M491.6 69.1L532.8 90M484.2 74.6L506.8 87.1M574 89.3L542.2 60.4M488 50.3L513.3 40.9M558.1 67.6L538.6 66.9M508.2 53.2L516.2 79.2M550.1 63.3L532.1 51M532.1 51L486.8 36.4M478.6 48.1L511.1 60.4M529.9 74.1L560.4 57.5M541.8 37.6L518.8 32.2M527 59L532.8 90M507.5 47.4L527 59M527.7 92.9L506.8 87.1M541.5 77L573.3 59M521.2 43.8L553 74.1M529.9 74.1L499.6 79.9M486.8 36.4L516.9 51M538.6 66.9L526.3 67.6M514 97.3L516.9 51M529.9 74.1L545.8 69.8M534.2 98L509 72.7M532.8 90L539.3 94.4M518.8 32.2L545.8 69.8M529.6 32.5L541.5 77M501.5 79.8L538.6 66.9M531.4 79.2L516.2 79.2M553.8 53.2L527.7 92.9M501.5 79.8L498.1 84.2M509.7 38.7L550.1 63.3M531.4 79.2L529.6 32.5M531.4 79.2L490.9 62.6M553 74.1L567.7 81.7M509 91.5L488 50.3M501.5 98.7L485.8 56.1M555.2 78.5L532.1 51M486.8 36.4L501.5 79.8M509.7 38.7L501.5 79.8M539.3 94.4L516.2 79.2M527 59L532.1 51M577.7 65L546.5 79.6M531.4 79.2L499.6 79.9M540.8 46L566.9 69M480.7 66.6L509.7 38.7M511.1 60.4L509.7 38.7M577.7 65L531.4 79.2M532.8 90L507.5 47.4M516.9 51L546.5 79.6M489.5 38.7L518.8 32.2M527 59L509.7 38.7M485.8 56.1L486.8 36.4M539.3 94.4L527 59M513.3 40.9L509.7 38.7M501.7 93.6L493.8 55.3M499.6 41.6L511.1 67.6M517.6 92.2L542.2 60.4M480.7 66.6L493.8 55.3M497.4 48.8L529.6 32.5M527.7 92.9L498.8 74.4M541.8 37.6L518.8 32.2M513.3 40.9L491.6 69.1M538.6 66.9L498.8 74.4M501.7 93.6L485.8 56.1M509 91.5L534.2 57.5M499.6 79.9L537.1 72.7M511.1 67.6L506.8 87.1M550.1 63.3L529.9 74.1M516.2 79.2L538.6 66.9M484.2 74.6L485.8 56.1M532.8 90L553 74.1M509 72.7L486.6 36.6M529.9 74.1L534.2 98M532.8 64.7L545.8 69.8M504.6 56.8L509 91.5M521.2 43.8L541.5 77M553.8 53.2L566.8 68.6M498.1 84.2L487.3 43.8M538.6 66.9L541.5 77M540.8 46L553 94.4M511.1 67.6L478.6 48.1M532.1 51L573.3 59M517.6 92.2L539.3 94.4M566.8 68.6L523.4 81.4M498.1 73.4L488 50.3M511.1 60.4L555.2 78.5M488 50.3L532.8 64.7M526.3 67.6L484.2 74.6M498.8 74.4L516.9 51M560.3 77.7L553.8 53.2M529.9 74.1L567.7 81.7M578.3 63.7L568.9 95.1M568.9 95.1L560.3 77.7M497.4 48.8L518.8 32.2M567.5 51L573.3 59M532.1 51L526.3 67.6M501.5 79.8L532.1 51M516.2 79.2L518.8 32.2M527.7 92.9L545.8 50.3M545.8 69.8L542.2 60.4M493.8 55.3L498.1 84.2M499.6 41.6L521.2 43.8M540.8 46L532.1 51M542.2 60.4L577.7 65M517.6 92.2L542.2 60.4M573.3 59L566.9 69M506.8 87.1L507.5 47.4M532.8 64.7L539.3 94.4M513.3 40.9L509 72.7M545.8 69.8L517.6 92.2M540.8 46L545.8 69.8M532.8 90L550.1 63.3M567.5 51L529.9 74.1M555.2 78.5L553 74.1M566.9 69L539.3 94.4M516.9 51L509 72.7M527.7 92.9L499.6 79.9M486.6 36.6L480.7 66.6M538.6 66.9L532.8 64.7M553 94.4L568.9 95.1M516.2 79.2L487.3 43.8M508.2 53.2L550.1 63.3M566.8 68.6L539.3 94.4M498.1 73.4L485.8 56.1M534.2 57.5L545.8 69.8M553 74.1L553 94.4M527.7 92.9L501.5 79.8M484.2 74.6L491.6 69.1M542.2 60.4L577.7 65M465.2 28.7L463.8 45.9M465.2 28.7L457.1 46.6M447 40.5L444.9 45.9M447 40.5L457.1 46.6M447 40.5L462.1 38.9M462.1 38.9L463.8 45.9M462.1 38.9L457.1 46.6M444.9 45.9L457.1 46.6M444.9 45.9L462.1 38.9M457.1 46.6L463.8 45.9M463.8 45.9L478.4 48.6M478.4 48.6L473.3 58M473.3 58L478.6 48.1M473.3 58L463.8 45.9M449.7 92L463.8 89.3M478.6 48.1L463.8 45.9M478.4 48.6L521.2 43.8M465.2 28.7L508.2 53.2M478.4 48.6L498.1 73.4M463.8 45.9L509.7 38.7M465.2 28.7L488 50.3M473.3 58L506.8 87.1M463.8 45.9L489.5 38.7M473.3 58L491.6 69.1M478.6 48.1L527 59M462.1 38.9L486.6 36.6" stroke="#3a3aff" stroke-width="0.6" fill="none"/>
<ellipse cx="560.4" cy="57.5" rx="4.2" ry="3.2" fill="#0000ff"/>
<ellipse cx="480.7" cy="66.6" rx="4.2" ry="3.2" fill="#0000ff"/>
<ellipse cx="484.2" cy="74.6" rx="4.2" ry="3.2" fill="#0000ff"/>
<ellipse cx="567.7" cy="81.7" rx="4.2" ry="3.2" fill="#0000ff"/>
<ellipse cx="469" cy="16.2" rx="4.2" ry="3.2" fill="#ff0000"/>
<ellipse cx="477.7" cy="16.9" rx="4.2" ry="3.2" fill="#ff0000"/>
<ellipse cx="505.9" cy="12.6" rx="4.2" ry="3.2" fill="#ff0000"/>
<ellipse cx="515" cy="12.6" rx="4.2" ry="3.2" fill="#ff0000"/>
<ellipse cx="451.4" cy="34.4" rx="4.2" ry="3.2" fill="#ff0000"/>
<ellipse cx="436.2" cy="50.6" rx="4.2" ry="3.2" fill="#ff0000"/>
<ellipse cx="453.3" cy="53.7" rx="4.2" ry="3.2" fill="#ff0000"/>
<ellipse cx="443.2" cy="55.7" rx="4.2" ry="3.2" fill="#ff0000"/>
<ellipse cx="465.2" cy="54.7" rx="4.2" ry="3.2" fill="#ff0000"/>
<ellipse cx="434.1" cy="59.1" rx="4.2" ry="3.2" fill="#ff0000"/>
<ellipse cx="427.4" cy="61.4" rx="4.2" ry="3.2" fill="#ff0000"/>
<ellipse cx="458.4" cy="62.8" rx="4.2" ry="3.2" fill="#ff0000"/>
<ellipse cx="444.3" cy="62.8" rx="4.2" ry="3.2" fill="#ff0000"/>
<ellipse cx="466.5" cy="66.8" rx="4.2" ry="3.2" fill="#ff0000"/>
<ellipse cx="444.9" cy="67.5" rx="4.2" ry="3.2" fill="#ff0000"/>
<ellipse cx="428.7" cy="68.8" rx="4.2" ry="3.2" fill="#ff0000"/>
<ellipse cx="428.1" cy="69.7" rx="4.2" ry="3.2" fill="#ff0000"/>
<ellipse cx="456.4" cy="69.7" rx="4.2" ry="3.2" fill="#ff0000"/>
<ellipse cx="423.3" cy="76.1" rx="4.2" ry="3.2" fill="#ff0000"/>
<ellipse cx="436.2" cy="74.7" rx="4.2" ry="3.2" fill="#ff0000"/>
<ellipse cx="442.5" cy="75.1" rx="4.2" ry="3.2" fill="#ff0000"/>
<ellipse cx="450.3" cy="73.4" rx="4.2" ry="3.2" fill="#ff0000"/>
<ellipse cx="462.5" cy="73.1" rx="4.2" ry="3.2" fill="#ff0000"/>
<ellipse cx="466.5" cy="77.1" rx="4.2" ry="3.2" fill="#ff0000"/>
<ellipse cx="436.6" cy="82.3" rx="4.2" ry="3.2" fill="#ff0000"/>
<ellipse cx="441.6" cy="82.3" rx="4.2" ry="3.2" fill="#ff0000"/>
<ellipse cx="452.4" cy="82.3" rx="4.2" ry="3.2" fill="#ff0000"/>
<ellipse cx="455.7" cy="85.2" rx="4.2" ry="3.2" fill="#ff0000"/>
<ellipse cx="471.2" cy="83.2" rx="4.2" ry="3.2" fill="#ff0000"/>
<ellipse cx="474.6" cy="89" rx="4.2" ry="3.2" fill="#ff0000"/>
<ellipse cx="436.2" cy="91.7" rx="4.2" ry="3.2" fill="#ff0000"/>
<ellipse cx="415" cy="93.3" rx="4.2" ry="3.2" fill="#ff0000"/>
<ellipse cx="425.8" cy="97.4" rx="4.2" ry="3.2" fill="#ff0000"/>
<ellipse cx="429.4" cy="100.4" rx="4.2" ry="3.2" fill="#ff0000"/>
<ellipse cx="455.1" cy="92.7" rx="4.2" ry="3.2" fill="#ff0000"/>
<ellipse cx="478.7" cy="97.4" rx="4.2" ry="3.2" fill="#ff0000"/>
<ellipse cx="488.1" cy="90.6" rx="4.2" ry="3.2" fill="#ff0000"/>
<ellipse cx="437.5" cy="103.9" rx="4.2" ry="3.2" fill="#ff0000"/>
<ellipse cx="447.6" cy="108.5" rx="4.2" ry="3.2" fill="#ff0000"/>
<ellipse cx="440.2" cy="113.3" rx="4.2" ry="3.2" fill="#ff0000"/>
<ellipse cx="463.2" cy="108.2" rx="4.2" ry="3.2" fill="#ff0000"/>
<ellipse cx="473.3" cy="106.2" rx="4.2" ry="3.2" fill="#ff0000"/>
<ellipse cx="469.2" cy="115.2" rx="4.2" ry="3.2" fill="#ff0000"/>
<ellipse cx="485.4" cy="106.2" rx="4.2" ry="3.2" fill="#ff0000"/>
<ellipse cx="484.7" cy="114.3" rx="4.2" ry="3.2" fill="#ff0000"/>
<ellipse cx="492.2" cy="122.4" rx="4.2" ry="3.2" fill="#ff0000"/>
<ellipse cx="514" cy="105.9" rx="4.2" ry="3.2" fill="#ff0000"/>
<ellipse cx="495.4" cy="113.9" rx="4.2" ry="3.2" fill="#ff0000"/>
<ellipse cx="507.5" cy="114.9" rx="4.2" ry="3.2" fill="#ff0000"/>
<ellipse cx="511.6" cy="123" rx="4.2" ry="3.2" fill="#ff0000"/>
<ellipse cx="564.2" cy="43.2" rx="4.2" ry="3.2" fill="#ff0000"/>
<ellipse cx="569.6" cy="75.1" rx="4.2" ry="3.2" fill="#ff0000"/>
<ellipse cx="540.2" cy="82.5" rx="4.2" ry="3.2" fill="#ff0000"/>
<ellipse cx="551.4" cy="85.5" rx="4.2" ry="3.2" fill="#ff0000"/>
<ellipse cx="476.4" cy="88.6" rx="4.2" ry="3.2" fill="#ff0000"/>
<ellipse cx="479.3" cy="96.5" rx="4.2" ry="3.2" fill="#ff0000"/>
<ellipse cx="460" cy="46" rx="4.2" ry="3.2" fill="#ff0000"/>
<ellipse cx="465.2" cy="28.7" rx="4.2" ry="3.2" fill="#0000ff"/>
<ellipse cx="447" cy="40.5" rx="4.2" ry="3.2" fill="#0000ff"/>
<ellipse cx="462.1" cy="38.9" rx="4.2" ry="3.2" fill="#0000ff"/>
<ellipse cx="444.9" cy="45.9" rx="4.2" ry="3.2" fill="#0000ff"/>
<ellipse cx="457.1" cy="46.6" rx="4.2" ry="3.2" fill="#0000ff"/>
<ellipse cx="463.8" cy="45.9" rx="4.2" ry="3.2" fill="#0000ff"/>
<ellipse cx="478.4" cy="48.6" rx="4.2" ry="3.2" fill="#0000ff"/>
<ellipse cx="473.3" cy="58" rx="4.2" ry="3.2" fill="#0000ff"/>
<ellipse cx="486.8" cy="36.4" rx="4.2" ry="3.2" fill="#0000ff"/>
<ellipse cx="449.7" cy="92" rx="4.2" ry="3.2" fill="#0000ff"/>
<ellipse cx="463.8" cy="89.3" rx="4.2" ry="3.2" fill="#0000ff"/>
<ellipse cx="498.4" cy="24.3" rx="4.2" ry="3.2" fill="#0000ff"/>
<ellipse cx="538.6" cy="15.9" rx="4.2" ry="3.2" fill="#0000ff"/>
<ellipse cx="547.4" cy="13.5" rx="4.2" ry="3.2" fill="#0000ff"/>
<ellipse cx="535.2" cy="21.9" rx="4.2" ry="3.2" fill="#0000ff"/>
<ellipse cx="546.7" cy="21.9" rx="4.2" ry="3.2" fill="#0000ff"/>
<ellipse cx="556.1" cy="27.4" rx="4.2" ry="3.2" fill="#0000ff"/>
<ellipse cx="518.8" cy="32.2" rx="4.2" ry="3.2" fill="#0000ff"/>
<ellipse cx="529.6" cy="32.5" rx="4.2" ry="3.2" fill="#0000ff"/>
<ellipse cx="541.8" cy="37.6" rx="4.2" ry="3.2" fill="#0000ff"/>
<ellipse cx="486.6" cy="36.6" rx="4.2" ry="3.2" fill="#0000ff"/>
<ellipse cx="489.5" cy="38.7" rx="4.2" ry="3.2" fill="#0000ff"/>
<ellipse cx="499.6" cy="41.6" rx="4.2" ry="3.2" fill="#0000ff"/>
<ellipse cx="509.7" cy="38.7" rx="4.2" ry="3.2" fill="#0000ff"/>
<ellipse cx="513.3" cy="40.9" rx="4.2" ry="3.2" fill="#0000ff"/>
<ellipse cx="521.2" cy="43.8" rx="4.2" ry="3.2" fill="#0000ff"/>
<ellipse cx="478.6" cy="48.1" rx="4.2" ry="3.2" fill="#0000ff"/>
<ellipse cx="487.3" cy="43.8" rx="4.2" ry="3.2" fill="#0000ff"/>
<ellipse cx="488" cy="50.3" rx="4.2" ry="3.2" fill="#0000ff"/>
<ellipse cx="497.4" cy="48.8" rx="4.2" ry="3.2" fill="#0000ff"/>
<ellipse cx="507.5" cy="47.4" rx="4.2" ry="3.2" fill="#0000ff"/>
<ellipse cx="516.9" cy="51" rx="4.2" ry="3.2" fill="#0000ff"/>
<ellipse cx="485.8" cy="56.1" rx="4.2" ry="3.2" fill="#0000ff"/>
<ellipse cx="493.8" cy="55.3" rx="4.2" ry="3.2" fill="#0000ff"/>
<ellipse cx="504.6" cy="56.8" rx="4.2" ry="3.2" fill="#0000ff"/>
<ellipse cx="511.1" cy="60.4" rx="4.2" ry="3.2" fill="#0000ff"/>
<ellipse cx="508.2" cy="53.2" rx="4.2" ry="3.2" fill="#0000ff"/>
<ellipse cx="532.1" cy="51" rx="4.2" ry="3.2" fill="#0000ff"/>
<ellipse cx="540.8" cy="46" rx="4.2" ry="3.2" fill="#0000ff"/>
<ellipse cx="545.8" cy="50.3" rx="4.2" ry="3.2" fill="#0000ff"/>
<ellipse cx="553.8" cy="53.2" rx="4.2" ry="3.2" fill="#0000ff"/>
<ellipse cx="567.5" cy="51" rx="4.2" ry="3.2" fill="#0000ff"/>
<ellipse cx="573.3" cy="59" rx="4.2" ry="3.2" fill="#0000ff"/>
<ellipse cx="578.3" cy="63.7" rx="4.2" ry="3.2" fill="#0000ff"/>
<ellipse cx="566.8" cy="68.6" rx="4.2" ry="3.2" fill="#0000ff"/>
<ellipse cx="527" cy="59" rx="4.2" ry="3.2" fill="#0000ff"/>
<ellipse cx="534.2" cy="57.5" rx="4.2" ry="3.2" fill="#0000ff"/>
<ellipse cx="542.2" cy="60.4" rx="4.2" ry="3.2" fill="#0000ff"/>
<ellipse cx="550.1" cy="63.3" rx="4.2" ry="3.2" fill="#0000ff"/>
<ellipse cx="558.1" cy="67.6" rx="4.2" ry="3.2" fill="#0000ff"/>
<ellipse cx="490.9" cy="62.6" rx="4.2" ry="3.2" fill="#0000ff"/>
<ellipse cx="491.6" cy="69.1" rx="4.2" ry="3.2" fill="#0000ff"/>
<ellipse cx="511.1" cy="67.6" rx="4.2" ry="3.2" fill="#0000ff"/>
<ellipse cx="509" cy="72.7" rx="4.2" ry="3.2" fill="#0000ff"/>
<ellipse cx="498.1" cy="73.4" rx="4.2" ry="3.2" fill="#0000ff"/>
<ellipse cx="526.3" cy="67.6" rx="4.2" ry="3.2" fill="#0000ff"/>
<ellipse cx="532.8" cy="64.7" rx="4.2" ry="3.2" fill="#0000ff"/>
<ellipse cx="538.6" cy="66.9" rx="4.2" ry="3.2" fill="#0000ff"/>
<ellipse cx="545.8" cy="69.8" rx="4.2" ry="3.2" fill="#0000ff"/>
<ellipse cx="553" cy="74.1" rx="4.2" ry="3.2" fill="#0000ff"/>
<ellipse cx="560.3" cy="77.7" rx="4.2" ry="3.2" fill="#0000ff"/>
<ellipse cx="529.9" cy="74.1" rx="4.2" ry="3.2" fill="#0000ff"/>
<ellipse cx="537.1" cy="72.7" rx="4.2" ry="3.2" fill="#0000ff"/>
<ellipse cx="541.5" cy="77" rx="4.2" ry="3.2" fill="#0000ff"/>
<ellipse cx="499.6" cy="79.9" rx="4.2" ry="3.2" fill="#0000ff"/>
<ellipse cx="498.1" cy="84.2" rx="4.2" ry="3.2" fill="#0000ff"/>
<ellipse cx="516.2" cy="79.2" rx="4.2" ry="3.2" fill="#0000ff"/>
<ellipse cx="523.4" cy="81.4" rx="4.2" ry="3.2" fill="#0000ff"/>
<ellipse cx="531.4" cy="79.2" rx="4.2" ry="3.2" fill="#0000ff"/>
<ellipse cx="546.5" cy="79.6" rx="4.2" ry="3.2" fill="#0000ff"/>
<ellipse cx="555.2" cy="78.5" rx="4.2" ry="3.2" fill="#0000ff"/>
<ellipse cx="574" cy="89.3" rx="4.2" ry="3.2" fill="#0000ff"/>
<ellipse cx="568.9" cy="95.1" rx="4.2" ry="3.2" fill="#0000ff"/>
<ellipse cx="506.8" cy="87.1" rx="4.2" ry="3.2" fill="#0000ff"/>
<ellipse cx="509" cy="91.5" rx="4.2" ry="3.2" fill="#0000ff"/>
<ellipse cx="501.7" cy="93.6" rx="4.2" ry="3.2" fill="#0000ff"/>
<ellipse cx="517.6" cy="92.2" rx="4.2" ry="3.2" fill="#0000ff"/>
<ellipse cx="527.7" cy="92.9" rx="4.2" ry="3.2" fill="#0000ff"/>
<ellipse cx="532.8" cy="90" rx="4.2" ry="3.2" fill="#0000ff"/>
<ellipse cx="539.3" cy="94.4" rx="4.2" ry="3.2" fill="#0000ff"/>
<ellipse cx="553" cy="94.4" rx="4.2" ry="3.2" fill="#0000ff"/>
<ellipse cx="534.2" cy="98" rx="4.2" ry="3.2" fill="#0000ff"/>
<ellipse cx="514" cy="97.3" rx="4.2" ry="3.2" fill="#0000ff"/>
<ellipse cx="501.5" cy="98.7" rx="4.2" ry="3.2" fill="#0000ff"/>
<ellipse cx="534.3" cy="105.5" rx="4.2" ry="3.2" fill="#0000ff"/>
<ellipse cx="521.7" cy="113.6" rx="4.2" ry="3.2" fill="#0000ff"/>
<ellipse cx="498.8" cy="74.4" rx="4.2" ry="3.2" fill="#0000ff"/>
<ellipse cx="501.5" cy="79.8" rx="4.2" ry="3.2" fill="#0000ff"/>
<ellipse cx="566.9" cy="69" rx="4.2" ry="3.2" fill="#0000ff"/>
<ellipse cx="577.7" cy="65" rx="4.2" ry="3.2" fill="#0000ff"/>
<g font-size="5"><text x="469" y="23.7">89</text><text x="477.7" y="24.4">105</text><text x="505.9" y="20.1">104</text><text x="515" y="20.1">86</text><text x="451.4" y="41.9">38</text><text x="436.2" y="58.1">174</text><text x="453.3" y="61.2">158</text><text x="443.2" y="63.2">92</text><text x="465.2" y="62.2">44</text><text x="434.1" y="66.6">142</text><text x="427.4" y="68.9">189</text><text x="458.4" y="70.3">183</text><text x="444.3" y="70.3">170</text><text x="466.5" y="74.3">156</text><text x="444.9" y="75">47</text><text x="428.7" y="76.3">99</text><text x="428.1" y="77.2">75</text><text x="456.4" y="77.2">159</text><text x="423.3" y="83.6">178</text><text x="436.2" y="82.2">110</text><text x="442.5" y="82.6">145</text><text x="450.3" y="80.9">149</text><text x="462.5" y="80.6">12</text><text x="466.5" y="84.6">186</text><text x="436.6" y="89.8">136</text><text x="441.6" y="89.8">140</text><text x="452.4" y="89.8">159</text><text x="455.7" y="92.7">192</text><text x="471.2" y="90.7">134</text><text x="474.6" y="96.5">118</text><text x="436.2" y="99.2">177</text><text x="415" y="100.8">167</text><text x="425.8" y="104.9">227</text><text x="429.4" y="107.9">160</text><text x="455.1" y="100.2">221</text><text x="478.7" y="104.9">226</text><text x="488.1" y="98.1">29</text><text x="437.5" y="111.4">206</text><text x="447.6" y="116">237</text><text x="440.2" y="120.8">187</text><text x="463.2" y="115.7">128</text><text x="473.3" y="113.7">218</text><text x="469.2" y="122.7">181</text><text x="485.4" y="113.7">230</text><text x="484.7" y="121.8">72</text><text x="492.2" y="129.9">34</text><text x="514" y="113.4">48</text><text x="495.4" y="121.4">189</text><text x="507.5" y="122.4">130</text><text x="511.6" y="130.5">40</text><text x="564.2" y="50.7">208</text><text x="569.6" y="82.6">212</text><text x="540.2" y="90">174</text><text x="551.4" y="93">203</text><text x="476.4" y="96.1">97</text><text x="479.3" y="104">114</text><text x="460" y="53.5">59</text><text x="465.2" y="36.2">198</text><text x="447" y="48">196</text><text x="462.1" y="46.4">159</text><text x="444.9" y="53.4">56</text><text x="457.1" y="54.1">24</text><text x="463.8" y="53.4">140</text><text x="478.4" y="56.1">206</text><text x="473.3" y="65.5">104</text><text x="486.8" y="43.9">238</text><text x="449.7" y="99.5">179</text><text x="463.8" y="96.8">71</text><text x="498.4" y="31.8">100</text><text x="538.6" y="23.4">95</text><text x="547.4" y="21">70</text><text x="535.2" y="29.4">45</text><text x="546.7" y="29.4">14</text><text x="556.1" y="34.9">19</text><text x="518.8" y="39.7">75</text><text x="529.6" y="40">74</text><text x="541.8" y="45.1">170</text><text x="486.6" y="44.1">167</text><text x="489.5" y="46.2">26</text><text x="499.6" y="49.1">230</text><text x="509.7" y="46.2">233</text><text x="513.3" y="48.4">62</text><text x="521.2" y="51.3">70</text><text x="478.6" y="55.6">92</text><text x="487.3" y="51.3">49</text><text x="488" y="57.8">41</text><text x="497.4" y="56.3">199</text><text x="507.5" y="54.9">94</text><text x="516.9" y="58.5">37</text><text x="485.8" y="63.6">100</text><text x="493.8" y="62.8">24</text><text x="504.6" y="64.3">98</text><text x="511.1" y="67.9">166</text><text x="508.2" y="60.7">166</text><text x="532.1" y="58.5">89</text><text x="540.8" y="53.5">47</text><text x="545.8" y="57.8">207</text><text x="553.8" y="60.7">228</text><text x="567.5" y="58.5">142</text><text x="573.3" y="66.5">63</text><text x="578.3" y="71.2">17</text><text x="566.8" y="76.1">108</text><text x="527" y="66.5">188</text><text x="534.2" y="65">93</text><text x="542.2" y="67.9">232</text><text x="550.1" y="70.8">44</text><text x="558.1" y="75.1">74</text><text x="490.9" y="70.1">95</text><text x="491.6" y="76.6">137</text><text x="511.1" y="75.1">214</text><text x="509" y="80.2">104</text><text x="498.1" y="80.9">119</text><text x="526.3" y="75.1">85</text><text x="532.8" y="72.2">217</text><text x="538.6" y="74.4">40</text><text x="545.8" y="77.3">131</text><text x="553" y="81.6">213</text><text x="560.3" y="85.2">3</text><text x="529.9" y="81.6">84</text><text x="537.1" y="80.2">201</text><text x="541.5" y="84.5">226</text><text x="499.6" y="87.4">236</text><text x="498.1" y="91.7">143</text><text x="516.2" y="86.7">96</text><text x="523.4" y="88.9">47</text><text x="531.4" y="86.7">10</text><text x="546.5" y="87.1">31</text><text x="555.2" y="86">231</text><text x="574" y="96.8">75</text><text x="568.9" y="102.6">23</text><text x="506.8" y="94.6">238</text><text x="509" y="99">192</text><text x="501.7" y="101.1">154</text><text x="517.6" y="99.7">222</text><text x="527.7" y="100.4">193</text><text x="532.8" y="97.5">201</text><text x="539.3" y="101.9">51</text><text x="553" y="101.9">144</text><text x="534.2" y="105.5">206</text><text x="514" y="104.8">62</text><text x="501.5" y="106.2">207</text><text x="534.3" y="113">56</text><text x="521.7" y="121.1">91</text><text x="498.8" y="81.9">237</text><text x="501.5" y="87.3">196</text><text x="566.9" y="76.5">2</text><text x="577.7" y="72.5">107</text><text x="560.4" y="65">135</text></g>
<polygon points="662,48 676,44 690,46 695,56 694,70 688,78 675,80 663,76 659,62" fill="#0000ff"/>
<path d="M669.8 5L642.5 25M642.5 25L644.2 42.1M627.4 32.4L644.2 42.1M644.2 42.1L644.2 42.1M612.2 54.7L625.7 58.3M612.2 54.7L618.2 72.7M625.7 58.3L618.2 72.7M618.2 72.7L632 73.8M618.2 72.7L637.8 82.3M632 73.8L644.6 89M637.8 82.3L644.6 89M618.2 97L637.8 82.3M628.4 106.2L644.6 89M677.6 18.6L690.8 32.4M691.1 21.6L690.8 32.4M618.2 72.7L618.2 72.7M751.7 21.6L753 29.7M751.7 21.6L741.6 25.6M751.7 21.6L761.1 35.4M741.6 25.6L753 29.7M703.8 28.3L713.2 33.1M703.8 28.3L707.1 41.8M753 29.7L761.1 35.4M753 29.7L751.7 45.9M780.3 33.1L772.6 41.2M713.2 33.1L718 41.2M713.2 33.1L707.1 41.8M713.2 33.1L725.4 37.5M761.1 35.4L761.8 45.2M761.1 35.4L772.6 41.2M761.1 35.4L751.7 45.9M725.4 37.5L718 41.2M725.4 37.5L734.8 49.9M725.4 37.5L725.4 54M772.6 41.2L761.8 45.2M772.6 41.2L781.4 51M707.1 41.8L707.8 50.6M707.1 41.8L718 41.2M718 41.2L707.8 50.6M742.9 43.9L751.7 45.9M742.9 43.9L734.8 49.9M742.9 43.9L734.1 56M742.9 43.9L745.6 59.4M751.7 45.9L761.8 45.2M751.7 45.9L745.6 59.4M761.8 45.2L760.5 62.1M707.8 50.6L715 62M734.8 49.9L734.1 56M734.8 49.9L725.4 54M734.8 49.9L734.8 64.1M725.4 54L724 61.4M725.4 54L734.1 56M725.4 54L715 62M745.6 59.4L742.2 67.5M745.6 59.4L751.7 66.1M745.6 59.4L742.9 69M745.6 59.4L753 67M734.1 56L734.8 64.1M734.1 56L724 61.4M724 61.4L715 62M724 61.4L720.6 70.4M724 61.4L734.8 64.1M734.8 64.1L742.2 67.5M734.8 64.1L730.4 72.4M734.8 64.1L742.9 69M760.5 62.1L766 68M760.5 62.1L753 67M760.5 62.1L751.7 66.1M760.5 62.1L769.9 71.5M751.7 66.1L753 67M751.7 66.1L742.9 69M751.7 66.1L742.2 67.5M742.2 67.5L742.9 69M720.6 70.4L730.4 72.4M720.6 70.4L715 62M720.6 70.4L725.4 80.5M730.4 72.4L725.4 80.5M730.4 72.4L739.3 77.1M742.9 69L739.3 77.1M753 67L755.1 75.8M753 67L742.9 69M769.9 71.5L766 68M769.9 71.5L755.1 75.8M725.4 80.5L733.5 87.3M725.4 80.5L739.3 77.1M739.3 77.1L742.2 67.5M739.3 77.1L745.2 85.5M755.1 75.8L751.7 66.1M755.1 75.8L761.8 86.6M755.1 75.8L766 68M733.5 87.3L732.8 97.1M733.5 87.3L739.3 77.1M733.5 87.3L745.2 85.5M745.2 85.5L745.2 96.7M745.2 85.5L755.1 75.8M761.8 86.6L745.2 85.5M720.6 98.7L732.8 97.1M732.8 97.1L736.6 108.2M732.8 97.1L745.2 96.7M745.2 96.7L736.6 108.2M745.2 96.7L733.5 87.3M766 68L753 67M732.8 97.1L745.2 85.5M724 61.4L730.4 72.4M734.8 49.9L725.4 54M720.6 70.4L732.8 97.1M753 67L734.8 64.1M707.1 41.8L707.8 50.6M761.8 86.6L745.2 85.5M753 29.7L772.6 41.2M707.8 50.6L734.8 49.9M745.6 59.4L742.2 67.5M720.6 98.7L725.4 80.5M734.1 56L751.7 45.9M730.4 72.4L715 62M755.1 75.8L769.9 71.5M760.5 62.1L745.6 59.4M755.1 75.8L745.6 59.4M725.4 54L739.3 77.1M707.8 50.6L724 61.4M745.6 59.4L760.5 62.1M715 62L742.2 67.5M734.8 64.1L751.7 45.9M725.4 54L707.1 41.8M753 67L724 61.4M724 61.4L715 62M725.4 37.5L734.1 56M715 62L734.1 56M734.8 64.1L715 62M733.5 87.3L724 61.4M753 67L761.8 86.6M703.8 28.3L707.1 41.8M760.5 62.1L742.9 69M751.7 66.1L745.6 59.4M761.8 45.2L745.6 59.4M718 41.2L734.1 56M734.8 64.1L745.2 85.5M742.9 43.9L753 67M718 41.2L725.4 54M720.6 98.7L725.4 80.5M761.8 45.2L753 29.7M725.4 37.5L741.6 25.6M745.2 96.7L736.6 108.2M761.8 105.5L749.7 117.6" stroke="#ff0000" stroke-width="0.9" fill="none"/>
<path d="M654.4 13.2L669.8 5M747.4 10.5L735.5 17.5M777.3 61.4L764.5 53.3M704.4 130.5L709.2 118.3M689.8 125.7L696.5 116.3M663.5 124.4L665.5 110.9M693.1 11.5L695 11.5M667.5 30.8L673.6 40.5M667.5 30.8L679.6 29.4M667.5 30.8L663.5 42.9M679.6 29.4L682.3 41.2M679.6 29.4L673.6 40.5M663.5 42.9L673.6 40.5M663.5 42.9L654 51M673.6 40.5L682.3 41.2M654 51L645.2 57.4M645.2 57.4L640.5 66.1M640.5 66.1L645.2 76.5M721.3 16.9L722 29M721.3 16.9L731.4 25M735.5 17.5L731.4 25M731.4 25L733.5 34.4M731.4 25L722 29M722 29L733.5 34.4M733.5 34.4L734.1 41.8M733.5 34.4L742.9 33.7M742.9 33.7L751.7 38.5M742.9 33.7L734.1 41.8M700.4 36.7L698.4 47.9M734.1 41.8L726 45.9M726 45.9L717.3 49.3M717.3 49.3L715.2 56.7M698.4 47.9L697.7 56.7M698.4 47.9L705.1 58M743.6 52L753.7 54.7M753.7 54.7L764.5 53.3M715.2 56.7L713.9 64.1M715.2 56.7L713.2 65.7M705.1 58L697.7 56.7M705.1 58L703.8 66.1M705.1 58L705.8 67M713.9 64.1L713.2 65.7M713.9 64.1L705.8 67M697.7 56.7L703.8 66.1M703.8 66.1L705.8 67M703.8 66.1L710.5 72.4M639.8 97.4L652 96M639.8 97.4L649.3 105.5M649.3 105.5L652 96M649.3 105.5L655.4 114.3M649.3 105.5L641.9 114.3M655.4 114.3L665.5 110.9M655.4 114.3L663.5 124.4M665.5 110.9L673 113.8M665.5 110.9L660.1 101.4M676.5 121.4L673 113.8M689.8 125.7L692 135M689.8 125.7L698.4 117M689.8 111.6L696.5 116.3M689.8 111.6L698.4 117M689.8 111.6L697 104.1M696.5 116.3L698.4 117M696.5 116.3L705.1 109.5M652 96L657.8 88.8M652 96L660.1 101.4M660.1 101.4L667.8 93.6M705.8 67L710.5 72.4M705.8 67L713.2 65.7M713.2 65.7L710.5 72.4M700.4 75.8L696.3 81.9M700.4 75.8L705.8 83.2M700.4 75.8L703.8 66.1M710.5 72.4L715.9 78.5M715.9 78.5L705.8 83.2M715.9 78.5L722 89.3M705.8 83.2L696.3 81.9M705.8 83.2L711.9 90.6M711.9 90.6L707.1 98.7M711.9 90.6L722 89.3M707.1 98.7L697 97.4M707.1 98.7L715 105.5M697 97.4L697 104.1M697 97.4L687.7 101.4M715 105.5L705.1 109.5M715 105.5L722 113.6M705.1 109.5L709.2 118.3M705.1 109.5L697 104.1M705.1 109.5L698.4 117M697 104.1L687.7 101.4M709.2 118.3L698.4 117M709.2 118.3L702 128M704.4 130.5L702 128M702 128L698.4 117M692 135L702 128M657.8 88.8L667.8 93.6M657.8 88.8L660.1 101.4M667.8 93.6L673.6 101.2M667.8 93.6L678.4 93.1M678.4 93.1L673.6 101.2M678.4 93.1L687.7 101.4M673.6 101.2L673 113.8M687.7 101.4L689.8 111.6M654 51L660.4 71.5M667.5 30.8L668.2 53.7M653.6 34.4L660.3 60.3M697.7 56.7L685.9 82M645.2 57.4L660.6 63.3M710.5 72.4L678.6 66.7M678.4 93.1L689.3 71.5M652 96L660.6 63.3M673.6 101.2L668.3 74.6M707.1 98.7L698.5 75.9M700.4 75.8L668.3 74.6M697 104.1L693.7 80.5M697 104.1L689.6 77.7M645.2 76.5L674 71.5M705.1 58L699.2 58.7M673.6 40.5L663.9 54.9M682.3 41.2L697.8 63.1M673.6 40.5L665.1 69.3M652 96L674.6 86.3M703.8 66.1L688.9 57.2M663.5 42.9L678.6 66.7M698.4 47.9L675.6 42.7M667.8 93.6L659.7 74.9M722 89.3L698.5 75.9M715.9 78.5L691.7 65M698.4 47.9L679.2 60.4M679.6 29.4L692.4 42.6M657.8 88.8L669.4 86.7M698.4 47.9L692.4 42.6M696.3 81.9L674.6 86.3M645.2 76.5L671 57.2M697 97.4L693.7 80.5M700.4 36.7L678.3 52.8M657.8 88.8L669.4 86.7M645.2 76.5L670.7 82.1M698.8 54.6L693.7 80.5M666.4 60.4L693.7 48.8M697.8 63.1L689.3 71.5M660.4 71.5L655.3 63.4M685.6 64.6L689.6 77.7M660.3 60.3L657.7 46M685.1 54.2L666.4 60.4M660.3 60.3L657.7 46M678.3 52.8L686.6 48.4M694.7 57.7L685.9 82M674.5 49.2L657.7 46M698.8 54.6L693.7 80.5M685.9 82L694.7 57.7M689.3 71.5L691.4 54.4M679.8 83.3L659.5 81.4M674.6 86.3L685.6 64.6M678.6 66.7L670.7 82.1M666.3 82.1L689.3 71.5M693.7 80.5L697.8 63.1M660.6 63.3L671 57.2M663.9 54.9L691.4 54.4M693.7 80.5L668.3 74.6M679.3 70.4L689.6 77.7M665.1 69.3L675.6 42.7M678.6 66.7L671 57.2M668.3 42.1L660.3 60.3M674.5 49.2L679.2 60.4M668.2 53.7L678.3 52.8M698.8 54.6L681.5 47.4M668.3 74.6L691.7 65M713.2 33.1L734.1 41.8M718 41.2L715.2 56.7M730.4 72.4L715.2 56.7M761.1 35.4L733.5 34.4M713.2 33.1L693.1 11.5M725.4 54L713.9 64.1M720.6 98.7L710.5 72.4M720.6 98.7L710.5 72.4M772.6 41.2L777.3 61.4M703.8 28.3L698.4 47.9M734.8 64.1L734.1 41.8M720.6 70.4L726 45.9M725.4 54L753.7 54.7M751.7 66.1L764.5 53.3M745.6 59.4L753.7 54.7" stroke="#0000ff" stroke-width="0.9" fill="none"/>
<ellipse cx="655.1" cy="40.1" rx="4.9" ry="3.7" fill="#0000ff"/>
<ellipse cx="662.1" cy="41" rx="4.9" ry="3.7" fill="#0000ff"/>
<ellipse cx="668.3" cy="42.1" rx="4.9" ry="3.7" fill="#0000ff"/>
<ellipse cx="675.6" cy="42.7" rx="4.9" ry="3.7" fill="#0000ff"/>
<ellipse cx="682.6" cy="41.8" rx="4.9" ry="3.7" fill="#0000ff"/>
<ellipse cx="692.4" cy="42.6" rx="4.9" ry="3.7" fill="#0000ff"/>
<ellipse cx="657.7" cy="46" rx="4.9" ry="3.7" fill="#0000ff"/>
<ellipse cx="663.1" cy="48.3" rx="4.9" ry="3.7" fill="#0000ff"/>
<ellipse cx="674.5" cy="49.2" rx="4.9" ry="3.7" fill="#0000ff"/>
<ellipse cx="681.5" cy="47.4" rx="4.9" ry="3.7" fill="#0000ff"/>
<ellipse cx="686.6" cy="48.4" rx="4.9" ry="3.7" fill="#0000ff"/>
<ellipse cx="693.7" cy="48.8" rx="4.9" ry="3.7" fill="#0000ff"/>
<ellipse cx="654.5" cy="53.7" rx="4.9" ry="3.7" fill="#0000ff"/>
<ellipse cx="663.9" cy="54.9" rx="4.9" ry="3.7" fill="#0000ff"/>
<ellipse cx="668.2" cy="53.7" rx="4.9" ry="3.7" fill="#0000ff"/>
<ellipse cx="678.3" cy="52.8" rx="4.9" ry="3.7" fill="#0000ff"/>
<ellipse cx="685.1" cy="54.2" rx="4.9" ry="3.7" fill="#0000ff"/>
<ellipse cx="691.4" cy="54.4" rx="4.9" ry="3.7" fill="#0000ff"/>
<ellipse cx="698.8" cy="54.6" rx="4.9" ry="3.7" fill="#0000ff"/>
<ellipse cx="660.3" cy="60.3" rx="4.9" ry="3.7" fill="#0000ff"/>
<ellipse cx="666.4" cy="60.4" rx="4.9" ry="3.7" fill="#0000ff"/>
<ellipse cx="671" cy="57.2" rx="4.9" ry="3.7" fill="#0000ff"/>
<ellipse cx="679.2" cy="60.4" rx="4.9" ry="3.7" fill="#0000ff"/>
<ellipse cx="688.9" cy="57.2" rx="4.9" ry="3.7" fill="#0000ff"/>
<ellipse cx="694.7" cy="57.7" rx="4.9" ry="3.7" fill="#0000ff"/>
<ellipse cx="699.2" cy="58.7" rx="4.9" ry="3.7" fill="#0000ff"/>
<ellipse cx="655.3" cy="63.4" rx="4.9" ry="3.7" fill="#0000ff"/>
<ellipse cx="660.6" cy="63.3" rx="4.9" ry="3.7" fill="#0000ff"/>
<ellipse cx="669.5" cy="66.6" rx="4.9" ry="3.7" fill="#0000ff"/>
<ellipse cx="678.6" cy="66.7" rx="4.9" ry="3.7" fill="#0000ff"/>
<ellipse cx="685.6" cy="64.6" rx="4.9" ry="3.7" fill="#0000ff"/>
<ellipse cx="691.7" cy="65" rx="4.9" ry="3.7" fill="#0000ff"/>
<ellipse cx="697.8" cy="63.1" rx="4.9" ry="3.7" fill="#0000ff"/>
<ellipse cx="660.4" cy="71.5" rx="4.9" ry="3.7" fill="#0000ff"/>
<ellipse cx="665.1" cy="69.3" rx="4.9" ry="3.7" fill="#0000ff"/>
<ellipse cx="674" cy="71.5" rx="4.9" ry="3.7" fill="#0000ff"/>
<ellipse cx="679.3" cy="70.4" rx="4.9" ry="3.7" fill="#0000ff"/>
<ellipse cx="689.3" cy="71.5" rx="4.9" ry="3.7" fill="#0000ff"/>
<ellipse cx="696" cy="70.5" rx="4.9" ry="3.7" fill="#0000ff"/>
<ellipse cx="700.9" cy="72.1" rx="4.9" ry="3.7" fill="#0000ff"/>
<ellipse cx="654.7" cy="76" rx="4.9" ry="3.7" fill="#0000ff"/>
<ellipse cx="659.7" cy="74.9" rx="4.9" ry="3.7" fill="#0000ff"/>
<ellipse cx="668.3" cy="74.6" rx="4.9" ry="3.7" fill="#0000ff"/>
<ellipse cx="676.3" cy="77.9" rx="4.9" ry="3.7" fill="#0000ff"/>
<ellipse cx="683.4" cy="76.9" rx="4.9" ry="3.7" fill="#0000ff"/>
<ellipse cx="689.6" cy="77.7" rx="4.9" ry="3.7" fill="#0000ff"/>
<ellipse cx="698.5" cy="75.9" rx="4.9" ry="3.7" fill="#0000ff"/>
<ellipse cx="659.5" cy="81.4" rx="4.9" ry="3.7" fill="#0000ff"/>
<ellipse cx="666.3" cy="82.1" rx="4.9" ry="3.7" fill="#0000ff"/>
<ellipse cx="670.7" cy="82.1" rx="4.9" ry="3.7" fill="#0000ff"/>
<ellipse cx="679.8" cy="83.3" rx="4.9" ry="3.7" fill="#0000ff"/>
<ellipse cx="685.9" cy="82" rx="4.9" ry="3.7" fill="#0000ff"/>
<ellipse cx="693.7" cy="80.5" rx="4.9" ry="3.7" fill="#0000ff"/>
<ellipse cx="669.4" cy="86.7" rx="4.9" ry="3.7" fill="#0000ff"/>
<ellipse cx="674.6" cy="86.3" rx="4.9" ry="3.7" fill="#0000ff"/>
<ellipse cx="657.8" cy="88.8" rx="4.9" ry="3.7" fill="#0000ff"/>
<ellipse cx="667.8" cy="93.6" rx="4.9" ry="3.7" fill="#0000ff"/>
<ellipse cx="678.4" cy="93.1" rx="4.9" ry="3.7" fill="#0000ff"/>
<ellipse cx="673.6" cy="101.2" rx="4.9" ry="3.7" fill="#0000ff"/>
<ellipse cx="687.7" cy="101.4" rx="4.9" ry="3.7" fill="#0000ff"/>
<ellipse cx="673" cy="113.8" rx="4.9" ry="3.7" fill="#0000ff"/>
<ellipse cx="669.8" cy="5" rx="4.9" ry="3.7" fill="#ff0000"/>
<ellipse cx="677.6" cy="18.6" rx="4.9" ry="3.7" fill="#ff0000"/>
<ellipse cx="691.1" cy="21.6" rx="4.9" ry="3.7" fill="#ff0000"/>
<ellipse cx="690.8" cy="32.4" rx="4.9" ry="3.7" fill="#ff0000"/>
<ellipse cx="642.5" cy="25" rx="4.9" ry="3.7" fill="#ff0000"/>
<ellipse cx="627.4" cy="32.4" rx="4.9" ry="3.7" fill="#ff0000"/>
<ellipse cx="644.2" cy="42.1" rx="4.9" ry="3.7" fill="#ff0000"/>
<ellipse cx="612.2" cy="54.7" rx="4.9" ry="3.7" fill="#ff0000"/>
<ellipse cx="625.7" cy="58.3" rx="4.9" ry="3.7" fill="#ff0000"/>
<ellipse cx="618.2" cy="72.7" rx="4.9" ry="3.7" fill="#ff0000"/>
<ellipse cx="632" cy="73.8" rx="4.9" ry="3.7" fill="#ff0000"/>
<ellipse cx="637.8" cy="82.3" rx="4.9" ry="3.7" fill="#ff0000"/>
<ellipse cx="644.6" cy="89" rx="4.9" ry="3.7" fill="#ff0000"/>
<ellipse cx="618.2" cy="97" rx="4.9" ry="3.7" fill="#ff0000"/>
<ellipse cx="628.4" cy="106.2" rx="4.9" ry="3.7" fill="#ff0000"/>
<ellipse cx="677.6" cy="108.2" rx="4.9" ry="3.7" fill="#ff0000"/>
<ellipse cx="697.9" cy="89.3" rx="4.9" ry="3.7" fill="#ff0000"/>
<ellipse cx="730.4" cy="5" rx="4.9" ry="3.7" fill="#ff0000"/>
<ellipse cx="711.9" cy="9.7" rx="4.9" ry="3.7" fill="#ff0000"/>
<ellipse cx="751.7" cy="21.6" rx="4.9" ry="3.7" fill="#ff0000"/>
<ellipse cx="741.6" cy="25.6" rx="4.9" ry="3.7" fill="#ff0000"/>
<ellipse cx="703.8" cy="28.3" rx="4.9" ry="3.7" fill="#ff0000"/>
<ellipse cx="753" cy="29.7" rx="4.9" ry="3.7" fill="#ff0000"/>
<ellipse cx="780.3" cy="33.1" rx="4.9" ry="3.7" fill="#ff0000"/>
<ellipse cx="713.2" cy="33.1" rx="4.9" ry="3.7" fill="#ff0000"/>
<ellipse cx="761.1" cy="35.4" rx="4.9" ry="3.7" fill="#ff0000"/>
<ellipse cx="725.4" cy="37.5" rx="4.9" ry="3.7" fill="#ff0000"/>
<ellipse cx="772.6" cy="41.2" rx="4.9" ry="3.7" fill="#ff0000"/>
<ellipse cx="707.1" cy="41.8" rx="4.9" ry="3.7" fill="#ff0000"/>
<ellipse cx="718" cy="41.2" rx="4.9" ry="3.7" fill="#ff0000"/>
<ellipse cx="742.9" cy="43.9" rx="4.9" ry="3.7" fill="#ff0000"/>
<ellipse cx="751.7" cy="45.9" rx="4.9" ry="3.7" fill="#ff0000"/>
<ellipse cx="761.8" cy="45.2" rx="4.9" ry="3.7" fill="#ff0000"/>
<ellipse cx="781.4" cy="51" rx="4.9" ry="3.7" fill="#ff0000"/>
<ellipse cx="707.8" cy="50.6" rx="4.9" ry="3.7" fill="#ff0000"/>
<ellipse cx="734.8" cy="49.9" rx="4.9" ry="3.7" fill="#ff0000"/>
<ellipse cx="725.4" cy="54" rx="4.9" ry="3.7" fill="#ff0000"/>
<ellipse cx="745.6" cy="59.4" rx="4.9" ry="3.7" fill="#ff0000"/>
<ellipse cx="734.1" cy="56" rx="4.9" ry="3.7" fill="#ff0000"/>
<ellipse cx="724" cy="61.4" rx="4.9" ry="3.7" fill="#ff0000"/>
<ellipse cx="734.8" cy="64.1" rx="4.9" ry="3.7" fill="#ff0000"/>
<ellipse cx="760.5" cy="62.1" rx="4.9" ry="3.7" fill="#ff0000"/>
<ellipse cx="751.7" cy="66.1" rx="4.9" ry="3.7" fill="#ff0000"/>
<ellipse cx="742.2" cy="67.5" rx="4.9" ry="3.7" fill="#ff0000"/>
<ellipse cx="720.6" cy="70.4" rx="4.9" ry="3.7" fill="#ff0000"/>
<ellipse cx="730.4" cy="72.4" rx="4.9" ry="3.7" fill="#ff0000"/>
<ellipse cx="742.9" cy="69" rx="4.9" ry="3.7" fill="#ff0000"/>
<ellipse cx="753" cy="67" rx="4.9" ry="3.7" fill="#ff0000"/>
<ellipse cx="769.9" cy="71.5" rx="4.9" ry="3.7" fill="#ff0000"/>
<ellipse cx="725.4" cy="80.5" rx="4.9" ry="3.7" fill="#ff0000"/>
<ellipse cx="739.3" cy="77.1" rx="4.9" ry="3.7" fill="#ff0000"/>
<ellipse cx="755.1" cy="75.8" rx="4.9" ry="3.7" fill="#ff0000"/>
<ellipse cx="733.5" cy="87.3" rx="4.9" ry="3.7" fill="#ff0000"/>
<ellipse cx="745.2" cy="85.5" rx="4.9" ry="3.7" fill="#ff0000"/>
<ellipse cx="761.8" cy="86.6" rx="4.9" ry="3.7" fill="#ff0000"/>
<ellipse cx="698.8" cy="90" rx="4.9" ry="3.7" fill="#ff0000"/>
<ellipse cx="720.6" cy="98.7" rx="4.9" ry="3.7" fill="#ff0000"/>
<ellipse cx="732.8" cy="97.1" rx="4.9" ry="3.7" fill="#ff0000"/>
<ellipse cx="745.2" cy="96.7" rx="4.9" ry="3.7" fill="#ff0000"/>
<ellipse cx="736.6" cy="108.2" rx="4.9" ry="3.7" fill="#ff0000"/>
<ellipse cx="766" cy="68" rx="4.9" ry="3.7" fill="#ff0000"/>
<ellipse cx="715" cy="62" rx="4.9" ry="3.7" fill="#ff0000"/>
<ellipse cx="761.8" cy="105.5" rx="4.9" ry="3.7" fill="#ff0000"/>
<ellipse cx="749.7" cy="117.6" rx="4.9" ry="3.7" fill="#ff0000"/>
<ellipse cx="654.4" cy="13.2" rx="4.9" ry="3.7" fill="#0000ff"/>
<ellipse cx="693.1" cy="11.5" rx="4.9" ry="3.7" fill="#0000ff"/>
<ellipse cx="667.5" cy="30.8" rx="4.9" ry="3.7" fill="#0000ff"/>
<ellipse cx="679.6" cy="29.4" rx="4.9" ry="3.7" fill="#0000ff"/>
<ellipse cx="653.6" cy="34.4" rx="4.9" ry="3.7" fill="#0000ff"/>
<ellipse cx="630.1" cy="46.2" rx="4.9" ry="3.7" fill="#0000ff"/>
<ellipse cx="663.5" cy="42.9" rx="4.9" ry="3.7" fill="#0000ff"/>
<ellipse cx="673.6" cy="40.5" rx="4.9" ry="3.7" fill="#0000ff"/>
<ellipse cx="682.3" cy="41.2" rx="4.9" ry="3.7" fill="#0000ff"/>
<ellipse cx="654" cy="51" rx="4.9" ry="3.7" fill="#0000ff"/>
<ellipse cx="645.2" cy="57.4" rx="4.9" ry="3.7" fill="#0000ff"/>
<ellipse cx="640.5" cy="66.1" rx="4.9" ry="3.7" fill="#0000ff"/>
<ellipse cx="695" cy="11.5" rx="4.9" ry="3.7" fill="#0000ff"/>
<ellipse cx="747.4" cy="10.5" rx="4.9" ry="3.7" fill="#0000ff"/>
<ellipse cx="721.3" cy="16.9" rx="4.9" ry="3.7" fill="#0000ff"/>
<ellipse cx="735.5" cy="17.5" rx="4.9" ry="3.7" fill="#0000ff"/>
<ellipse cx="707.4" cy="19.6" rx="4.9" ry="3.7" fill="#0000ff"/>
<ellipse cx="766.5" cy="25" rx="4.9" ry="3.7" fill="#0000ff"/>
<ellipse cx="731.4" cy="25" rx="4.9" ry="3.7" fill="#0000ff"/>
<ellipse cx="722" cy="29" rx="4.9" ry="3.7" fill="#0000ff"/>
<ellipse cx="733.5" cy="34.4" rx="4.9" ry="3.7" fill="#0000ff"/>
<ellipse cx="742.9" cy="33.7" rx="4.9" ry="3.7" fill="#0000ff"/>
<ellipse cx="751.7" cy="38.5" rx="4.9" ry="3.7" fill="#0000ff"/>
<ellipse cx="700.4" cy="36.7" rx="4.9" ry="3.7" fill="#0000ff"/>
<ellipse cx="734.1" cy="41.8" rx="4.9" ry="3.7" fill="#0000ff"/>
<ellipse cx="726" cy="45.9" rx="4.9" ry="3.7" fill="#0000ff"/>
<ellipse cx="717.3" cy="49.3" rx="4.9" ry="3.7" fill="#0000ff"/>
<ellipse cx="698.4" cy="47.9" rx="4.9" ry="3.7" fill="#0000ff"/>
<ellipse cx="743.6" cy="52" rx="4.9" ry="3.7" fill="#0000ff"/>
<ellipse cx="753.7" cy="54.7" rx="4.9" ry="3.7" fill="#0000ff"/>
<ellipse cx="764.5" cy="53.3" rx="4.9" ry="3.7" fill="#0000ff"/>
<ellipse cx="777.3" cy="61.4" rx="4.9" ry="3.7" fill="#0000ff"/>
<ellipse cx="715.2" cy="56.7" rx="4.9" ry="3.7" fill="#0000ff"/>
<ellipse cx="705.1" cy="58" rx="4.9" ry="3.7" fill="#0000ff"/>
<ellipse cx="713.9" cy="64.1" rx="4.9" ry="3.7" fill="#0000ff"/>
<ellipse cx="697.7" cy="56.7" rx="4.9" ry="3.7" fill="#0000ff"/>
<ellipse cx="703.8" cy="66.1" rx="4.9" ry="3.7" fill="#0000ff"/>
<ellipse cx="645.2" cy="76.5" rx="4.9" ry="3.7" fill="#0000ff"/>
<ellipse cx="616.2" cy="83.9" rx="4.9" ry="3.7" fill="#0000ff"/>
<ellipse cx="629" cy="89" rx="4.9" ry="3.7" fill="#0000ff"/>
<ellipse cx="639.8" cy="97.4" rx="4.9" ry="3.7" fill="#0000ff"/>
<ellipse cx="649.3" cy="105.5" rx="4.9" ry="3.7" fill="#0000ff"/>
<ellipse cx="641.9" cy="114.3" rx="4.9" ry="3.7" fill="#0000ff"/>
<ellipse cx="655.4" cy="114.3" rx="4.9" ry="3.7" fill="#0000ff"/>
<ellipse cx="665.5" cy="110.9" rx="4.9" ry="3.7" fill="#0000ff"/>
<ellipse cx="663.5" cy="124.4" rx="4.9" ry="3.7" fill="#0000ff"/>
<ellipse cx="676.5" cy="121.4" rx="4.9" ry="3.7" fill="#0000ff"/>
<ellipse cx="689.8" cy="125.7" rx="4.9" ry="3.7" fill="#0000ff"/>
<ellipse cx="689.8" cy="111.6" rx="4.9" ry="3.7" fill="#0000ff"/>
<ellipse cx="696.5" cy="116.3" rx="4.9" ry="3.7" fill="#0000ff"/>
<ellipse cx="652" cy="96" rx="4.9" ry="3.7" fill="#0000ff"/>
<ellipse cx="660.1" cy="101.4" rx="4.9" ry="3.7" fill="#0000ff"/>
<ellipse cx="705.8" cy="67" rx="4.9" ry="3.7" fill="#0000ff"/>
<ellipse cx="713.2" cy="65.7" rx="4.9" ry="3.7" fill="#0000ff"/>
<ellipse cx="700.4" cy="75.8" rx="4.9" ry="3.7" fill="#0000ff"/>
<ellipse cx="710.5" cy="72.4" rx="4.9" ry="3.7" fill="#0000ff"/>
<ellipse cx="715.9" cy="78.5" rx="4.9" ry="3.7" fill="#0000ff"/>
<ellipse cx="705.8" cy="83.2" rx="4.9" ry="3.7" fill="#0000ff"/>
<ellipse cx="696.3" cy="81.9" rx="4.9" ry="3.7" fill="#0000ff"/>
<ellipse cx="711.9" cy="90.6" rx="4.9" ry="3.7" fill="#0000ff"/>
<ellipse cx="722" cy="89.3" rx="4.9" ry="3.7" fill="#0000ff"/>
<ellipse cx="707.1" cy="98.7" rx="4.9" ry="3.7" fill="#0000ff"/>
<ellipse cx="697" cy="97.4" rx="4.9" ry="3.7" fill="#0000ff"/>
<ellipse cx="715" cy="105.5" rx="4.9" ry="3.7" fill="#0000ff"/>
<ellipse cx="705.1" cy="109.5" rx="4.9" ry="3.7" fill="#0000ff"/>
<ellipse cx="697" cy="104.1" rx="4.9" ry="3.7" fill="#0000ff"/>
<ellipse cx="722" cy="113.6" rx="4.9" ry="3.7" fill="#0000ff"/>
<ellipse cx="698.4" cy="117" rx="4.9" ry="3.7" fill="#0000ff"/>
<ellipse cx="709.2" cy="118.3" rx="4.9" ry="3.7" fill="#0000ff"/>
<ellipse cx="704.4" cy="130.5" rx="4.9" ry="3.7" fill="#0000ff"/>
<ellipse cx="702" cy="128" rx="4.9" ry="3.7" fill="#0000ff"/>
<ellipse cx="692" cy="135" rx="4.9" ry="3.7" fill="#0000ff"/>
<g font-size="5.5"><text x="669.8" y="13.2">205</text><text x="677.6" y="26.8">81</text><text x="691.1" y="29.8">183</text><text x="690.8" y="40.6">55</text><text x="642.5" y="33.2">229</text><text x="627.4" y="40.6">10</text><text x="644.2" y="50.3">146</text><text x="612.2" y="62.9">232</text><text x="625.7" y="66.5">54</text><text x="618.2" y="80.9">53</text><text x="632" y="82">76</text><text x="637.8" y="90.5">117</text><text x="644.6" y="97.2">240</text><text x="618.2" y="105.2">179</text><text x="628.4" y="114.4">218</text><text x="677.6" y="116.4">117</text><text x="697.9" y="97.5">185</text><text x="730.4" y="13.2">136</text><text x="711.9" y="17.9">155</text><text x="751.7" y="29.8">179</text><text x="741.6" y="33.8">189</text><text x="703.8" y="36.5">210</text><text x="753" y="37.9">56</text><text x="780.3" y="41.3">61</text><text x="713.2" y="41.3">177</text><text x="761.1" y="43.6">20</text><text x="725.4" y="45.7">234</text><text x="772.6" y="49.4">32</text><text x="707.1" y="50">155</text><text x="718" y="49.4">190</text><text x="742.9" y="52.1">32</text><text x="751.7" y="54.1">168</text><text x="761.8" y="53.4">98</text><text x="781.4" y="59.2">11</text><text x="707.8" y="58.8">119</text><text x="734.8" y="58.1">228</text><text x="725.4" y="62.2">87</text><text x="745.6" y="67.6">224</text><text x="734.1" y="64.2">173</text><text x="724" y="69.6">31</text><text x="734.8" y="72.3">126</text><text x="760.5" y="70.3">22</text><text x="751.7" y="74.3">34</text><text x="742.2" y="75.7">57</text><text x="720.6" y="78.6">150</text><text x="730.4" y="80.6">212</text><text x="742.9" y="77.2">7</text><text x="753" y="75.2">12</text><text x="769.9" y="79.7">7</text><text x="725.4" y="88.7">58</text><text x="739.3" y="85.3">28</text><text x="755.1" y="84">234</text><text x="733.5" y="95.5">178</text><text x="745.2" y="93.7">33</text><text x="761.8" y="94.8">188</text><text x="698.8" y="98.2">156</text><text x="720.6" y="106.9">134</text><text x="732.8" y="105.3">153</text><text x="745.2" y="104.9">86</text><text x="736.6" y="116.4">74</text><text x="766" y="76.2">76</text><text x="715" y="70.2">47</text><text x="761.8" y="113.7">38</text><text x="749.7" y="125.8">41</text><text x="654.4" y="21.4">203</text><text x="693.1" y="19.7">82</text><text x="667.5" y="39">118</text><text x="679.6" y="37.6">17</text><text x="653.6" y="42.6">47</text><text x="630.1" y="54.4">241</text><text x="663.5" y="51.1">138</text><text x="673.6" y="48.7">63</text><text x="682.3" y="49.4">103</text><text x="654" y="59.2">37</text><text x="645.2" y="65.6">263</text><text x="640.5" y="74.3">161</text><text x="695" y="19.7">184</text><text x="747.4" y="18.7">102</text><text x="721.3" y="25.1">87</text><text x="735.5" y="25.7">46</text><text x="707.4" y="27.8">87</text><text x="766.5" y="33.2">62</text><text x="731.4" y="33.2">211</text><text x="722" y="37.2">221</text><text x="733.5" y="42.6">240</text><text x="742.9" y="41.9">237</text><text x="751.7" y="46.7">234</text><text x="700.4" y="44.9">189</text><text x="734.1" y="50">115</text><text x="726" y="54.1">3</text><text x="717.3" y="57.5">34</text><text x="698.4" y="56.1">61</text><text x="743.6" y="60.2">21</text><text x="753.7" y="62.9">187</text><text x="764.5" y="61.5">72</text><text x="777.3" y="69.6">201</text><text x="715.2" y="64.9">179</text><text x="705.1" y="66.2">186</text><text x="713.9" y="72.3">220</text><text x="697.7" y="64.9">100</text><text x="703.8" y="74.3">52</text><text x="645.2" y="84.7">220</text><text x="616.2" y="92.1">248</text><text x="629" y="97.2">204</text><text x="639.8" y="105.6">219</text><text x="649.3" y="113.7">96</text><text x="641.9" y="122.5">100</text><text x="655.4" y="122.5">141</text><text x="665.5" y="119.1">73</text><text x="663.5" y="132.6">132</text><text x="676.5" y="129.6">18</text><text x="689.8" y="133.9">4</text><text x="689.8" y="119.8">36</text><text x="696.5" y="124.5">62</text><text x="652" y="104.2">27</text><text x="660.1" y="109.6">26</text><text x="705.8" y="75.2">181</text><text x="713.2" y="73.9">135</text><text x="700.4" y="84">109</text><text x="710.5" y="80.6">94</text><text x="715.9" y="86.7">159</text><text x="705.8" y="91.4">121</text><text x="696.3" y="90.1">154</text><text x="711.9" y="98.8">36</text><text x="722" y="97.5">160</text><text x="707.1" y="106.9">7</text><text x="697" y="105.6">220</text><text x="715" y="113.7">99</text><text x="705.1" y="117.7">14</text><text x="697" y="112.3">238</text><text x="722" y="121.8">45</text><text x="698.4" y="125.2">97</text><text x="709.2" y="126.5">15</text><text x="704.4" y="138.7">59</text><text x="702" y="136.2">168</text><text x="692" y="143.2">164</text><text x="675.6" y="50.9">213</text><text x="682.6" y="50">217</text><text x="692.4" y="50.8">234</text><text x="657.7" y="54.2">119</text><text x="654.5" y="61.9">180</text><text x="685.1" y="62.4">178</text><text x="691.4" y="62.6">154</text><text x="688.9" y="65.4">47</text><text x="699.2" y="66.9">13</text><text x="660.6" y="71.5">81</text><text x="669.5" y="74.8">134</text><text x="678.6" y="74.9">175</text><text x="685.6" y="72.8">170</text><text x="660.4" y="79.7">215</text><text x="689.3" y="79.7">40</text><text x="696" y="78.7">115</text><text x="700.9" y="80.3">139</text><text x="654.7" y="84.2">150</text><text x="683.4" y="85.1">31</text><text x="689.6" y="85.9">65</text><text x="670.7" y="90.3">206</text><text x="674.6" y="94.5">170</text><text x="667.8" y="101.8">186</text><text x="673" y="122">221</text></g>
</g>
<text x="33.00" y="157.6" class="lt">(a)</text><text x="53.00" y="157.6" class="cap">Hydrophobicity(0.3)</text>
<text x="238.35" y="157.6" class="lt">(b)</text><text x="259.00" y="157.6" class="cap">Polarizability(0.3)</text>
<text x="453.00" y="157.6" class="lt">(c)</text><text x="473.60" y="157.6" class="cap">Volume(0.3)</text>
<text x="652.00" y="157.6" class="lt">(d)</text><text x="672.00" y="157.6" class="cap">Polarity(0.3)</text>
<text x="33.00" y="336.9" class="lt">(e)</text><text x="53.00" y="336.9" class="cap">Hydrophobicity(0.5)</text>
<text x="238.35" y="336.9" class="lt">(f)</text><text x="255.60" y="336.9" class="cap">Polarizability (0.5)</text>
<text x="451.40" y="336.9" class="lt">(g)</text><text x="472.00" y="336.9" class="cap">Volume (0.5)</text>
<text x="652.00" y="336.9" class="lt">(h)</text><text x="672.00" y="336.9" class="cap">Polarity(0.5)</text>
<text x="35.00" y="516.2" class="lt">(i)</text><text x="51.00" y="516.2" class="cap">Hydrophobicity(0.7)</text>
<text x="240.40" y="516.2" class="lt">(j)</text><text x="257.00" y="516.2" class="cap">Polarizability(0.7)</text>
<text x="451.80" y="516.2" class="lt">(k)</text><text x="472.00" y="516.2" class="cap">Volume (0.7)</text>
<text x="656.00" y="516.2" class="lt">(l)</text><text x="672.60" y="516.2" class="cap">Polarity (0.7)</text>
</svg>
</body></html>
